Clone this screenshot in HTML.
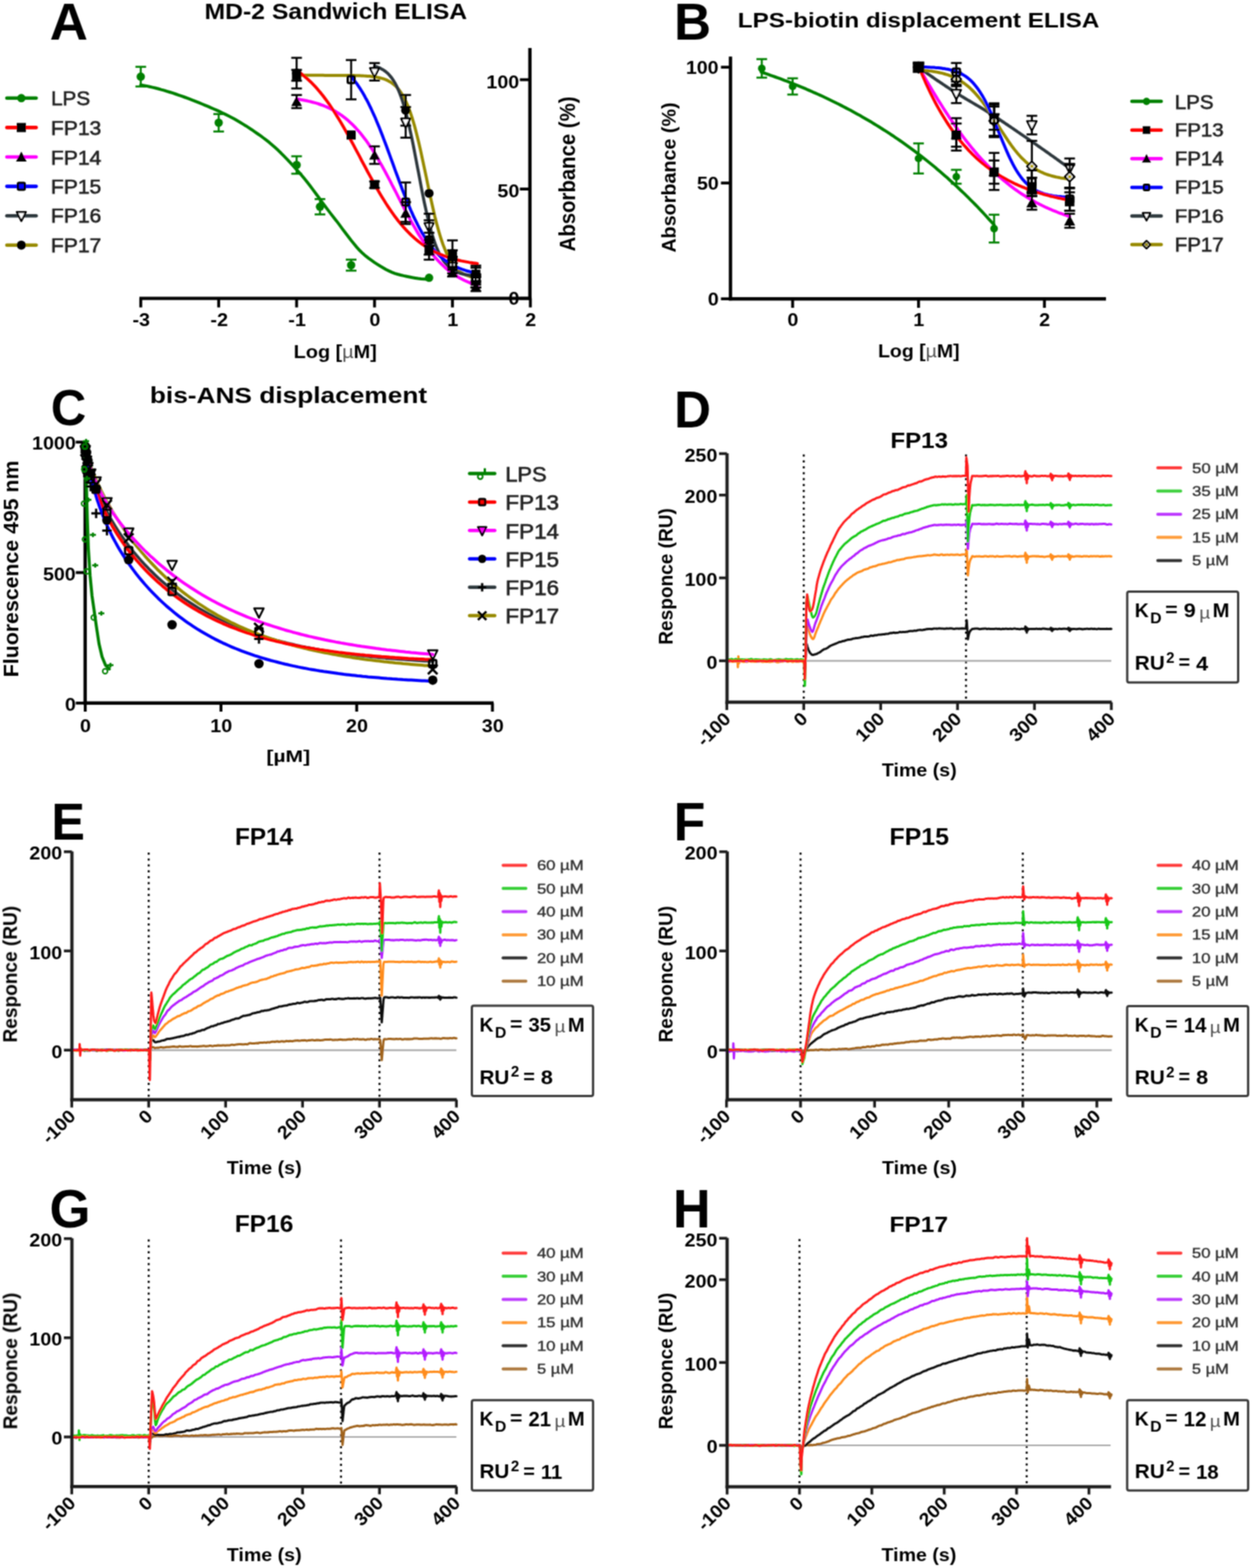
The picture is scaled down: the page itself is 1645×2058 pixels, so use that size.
<!DOCTYPE html>
<html><head><meta charset="utf-8"><title>Figure</title>
<style>
html,body{margin:0;padding:0;background:#fff;}
body{width:1645px;height:2058px;overflow:hidden;}
svg{display:block;}
svg text{font-family:"Liberation Sans", Arial, sans-serif;}
</style></head><body>
<svg width="1645" height="2058" viewBox="0 0 1645 2058">
<defs><filter id="soft" x="0" y="0" width="1645" height="2058" filterUnits="userSpaceOnUse"><feConvolveMatrix order="3" kernelMatrix="1 2 1 2 4 2 1 2 1" divisor="16" edgeMode="none"/></filter></defs>
<rect width="1645" height="2058" fill="#fff"/>
<g filter="url(#soft)">
<text x="65.2" y="52.1" font-size="69.1" font-weight="bold" textLength="50.2" lengthAdjust="spacingAndGlyphs">A</text>
<text x="268.5" y="25.1" font-size="28.6" font-weight="bold" textLength="344.8" lengthAdjust="spacingAndGlyphs">MD-2 Sandwich ELISA</text>
<line x1="183" y1="391.6" x2="697.7" y2="391.6" stroke="#000" stroke-width="4.4"/>
<line x1="184.8" y1="391.6" x2="184.8" y2="403.5" stroke="#000" stroke-width="3.8"/>
<text x="174" y="427.7" font-size="23.5" font-weight="bold" textLength="23" lengthAdjust="spacingAndGlyphs">-3</text>
<line x1="287.1" y1="391.6" x2="287.1" y2="403.5" stroke="#000" stroke-width="3.8"/>
<text x="276.3" y="427.8" font-size="23.5" font-weight="bold" textLength="23" lengthAdjust="spacingAndGlyphs">-2</text>
<line x1="389.4" y1="391.6" x2="389.4" y2="403.5" stroke="#000" stroke-width="3.8"/>
<text x="378.6" y="427.7" font-size="23.5" font-weight="bold" textLength="23" lengthAdjust="spacingAndGlyphs">-1</text>
<line x1="491.7" y1="391.6" x2="491.7" y2="403.5" stroke="#000" stroke-width="3.8"/>
<text x="484.9" y="427.7" font-size="23.5" font-weight="bold" textLength="14.4" lengthAdjust="spacingAndGlyphs">0</text>
<line x1="594" y1="391.6" x2="594" y2="403.5" stroke="#000" stroke-width="3.8"/>
<text x="587.2" y="427.7" font-size="23.5" font-weight="bold" textLength="14.4" lengthAdjust="spacingAndGlyphs">1</text>
<line x1="696.3" y1="391.6" x2="696.3" y2="403.5" stroke="#000" stroke-width="3.8"/>
<text x="689.5" y="427.8" font-size="23.5" font-weight="bold" textLength="14.4" lengthAdjust="spacingAndGlyphs">2</text>
<line x1="695.7" y1="63" x2="695.7" y2="393.8" stroke="#000" stroke-width="4.4"/>
<line x1="682.5" y1="391.6" x2="695.7" y2="391.6" stroke="#000" stroke-width="3.8"/>
<line x1="682.5" y1="248.1" x2="695.7" y2="248.1" stroke="#000" stroke-width="3.8"/>
<line x1="682.5" y1="104.6" x2="695.7" y2="104.6" stroke="#000" stroke-width="3.8"/>
<text x="638.6" y="115.7" font-size="23.5" font-weight="bold" textLength="43.1" lengthAdjust="spacingAndGlyphs">100</text>
<text x="653.1" y="258.7" font-size="23.5" font-weight="bold" textLength="28.8" lengthAdjust="spacingAndGlyphs">50</text>
<text x="667.5" y="400.2" font-size="23.5" font-weight="bold" textLength="14.4" lengthAdjust="spacingAndGlyphs">0</text>
<text x="755.5" y="329.9" font-size="29.3" font-weight="bold" textLength="203.2" lengthAdjust="spacingAndGlyphs" transform="rotate(-90 755.5 329.9)">Absorbance (%)</text>
<text x="385.5" y="470.1" font-size="24.1" font-weight="bold" textLength="109.3" lengthAdjust="spacingAndGlyphs">Log [<tspan font-weight="normal" fill="#555">µ</tspan>M]</text>
<path d="M389.4 98.8l2.7 0 2.6 0 2.7 0 2.7 0 2.6 0 2.7 0 2.7 0 2.6 0 2.7 0 2.7 0 2.6 0 2.7 0 2.7 0 2.6 0.1 2.7 0 2.7 0 2.6 0 2.7 0 2.7 0 2.6 0 2.7 0 2.7 0 2.6 0 2.7 0.1 2.7 0 2.6 0 2.7 0.1 2.7 0 2.6 0.1 2.7 0 2.7 0.1 2.6 0.1 2.7 0.2 2.7 0.1 2.6 0.2 2.7 0.2 2.7 0.3 2.6 0.3 2.7 0.4 2.7 0.5 2.6 0.6 2.7 0.7 2.7 0.8 2.6 1 2.7 1.2 2.7 1.5 2.6 1.7 2.7 2.1 2.7 2.4 2.6 2.9 2.7 3.5 2.7 4 2.6 4.7 2.7 5.5 2.7 6.2 2.6 7.2 2.7 8.1 2.7 9.1 2.6 9.9 2.7 10.8 2.7 11.6 2.6 12.2 2.7 12.6 2.7 12.8 2.6 12.8 2.7 12.5 2.7 12 2.6 11.4 2.7 10.6 2.7 9.7 2.6 8.8 2.7 7.9 2.7 6.9 2.6 6.1 2.7 5.3 2.7 4.5 2.6 3.9 2.7 3.3 2.7 2.7 2.6 2.4 2.7 2 2.7 1.6 2.6 1.4 2.7 1.2 2.7 0.9 2.6 0.8 2.7 0.7 2.7 0.5 2.6 0.5" fill="none" stroke="#978a00" stroke-width="4" stroke-linejoin="round" stroke-linecap="round"/>
<path d="M491.7 86.8l1.5 0.4 1.5 0.5 1.6 0.6 1.5 0.6 1.5 0.7 1.5 0.8 1.5 0.8 1.5 1 1.6 1 1.5 1.2 1.5 1.3 1.5 1.5 1.5 1.6 1.5 1.8 1.6 2 1.5 2.2 1.5 2.4 1.5 2.6 1.5 2.9 1.5 3.2 1.6 3.5 1.5 3.8 1.5 4.1 1.5 4.4 1.5 4.8 1.5 5.1 1.6 5.5 1.5 5.8 1.5 6.2 1.5 6.5 1.5 6.9 1.6 7.1 1.5 7.3 1.5 7.6 1.5 7.8 1.5 7.9 1.5 8 1.6 8 1.5 8 1.5 8 1.5 7.8 1.5 7.6 1.5 7.4 1.6 7.2 1.5 6.9 1.5 6.5 1.5 6.3 1.5 5.9 1.5 5.5 1.6 5.2 1.5 4.9 1.5 4.5 1.5 4.2 1.5 3.8 1.5 3.5 1.6 3.3 1.5 2.9 1.5 2.7 1.5 2.5 1.5 2.2 1.6 2 1.5 1.8 1.5 1.7 1.5 1.5 1.5 1.3 1.5 1.2 1.6 1.1 1.5 1 1.5 0.9 1.5 0.8 1.5 0.7 1.5 0.6 1.6 0.6 1.5 0.5 1.5 0.4 1.5 0.4 1.5 0.4 1.5 0.3 1.6 0.3 1.5 0.3 1.5 0.2 1.5 0.2 1.5 0.2 1.5 0.1 1.6 0.2 1.5 0.1 1.5 0.1 1.5 0.1 1.5 0.1" fill="none" stroke="#2d383c" stroke-width="4" stroke-linejoin="round" stroke-linecap="round"/>
<path d="M461 100.5l1.9 2.2 1.8 2.3 1.9 2.4 1.9 2.5 1.8 2.7 1.9 2.8 1.8 2.9 1.9 3 1.9 3.2 1.8 3.4 1.9 3.4 1.9 3.6 1.8 3.7 1.9 3.9 1.8 4 1.9 4.1 1.9 4.2 1.8 4.4 1.9 4.5 1.9 4.6 1.8 4.6 1.9 4.8 1.8 4.9 1.9 4.9 1.9 5 1.8 5 1.9 5.1 1.8 5.1 1.9 5.1 1.9 5.2 1.8 5.1 1.9 5.1 1.9 5.1 1.8 5 1.9 5 1.8 4.9 1.9 4.8 1.9 4.7 1.8 4.7 1.9 4.5 1.9 4.5 1.8 4.3 1.9 4.2 1.8 4.1 1.9 3.9 1.9 3.8 1.8 3.7 1.9 3.6 1.9 3.4 1.8 3.3 1.9 3.1 1.8 3 1.9 2.9 1.9 2.7 1.8 2.6 1.9 2.5 1.8 2.4 1.9 2.2 1.9 2.2 1.8 2 1.9 1.9 1.9 1.8 1.8 1.8 1.9 1.6 1.8 1.5 1.9 1.5 1.9 1.3 1.8 1.3 1.9 1.2 1.9 1.2 1.8 1 1.9 1.1 1.8 0.9 1.9 0.9 1.9 0.8 1.8 0.8 1.9 0.7 1.9 0.7 1.8 0.7 1.9 0.6 1.8 0.6 1.9 0.5 1.9 0.5 1.8 0.5 1.9 0.4 1.8 0.4 1.9 0.4 1.9 0.3 1.8 0.4" fill="none" stroke="#0000ff" stroke-width="4" stroke-linejoin="round" stroke-linecap="round"/>
<path d="M389.4 129.9l2.7 0.4 2.6 0.5 2.7 0.4 2.7 0.5 2.6 0.6 2.7 0.6 2.7 0.6 2.6 0.7 2.7 0.7 2.7 0.8 2.6 0.8 2.7 1 2.7 0.9 2.6 1.1 2.7 1.1 2.7 1.2 2.6 1.3 2.7 1.4 2.7 1.5 2.6 1.6 2.7 1.7 2.7 1.8 2.6 2 2.7 2.1 2.7 2.1 2.6 2.4 2.7 2.5 2.7 2.6 2.6 2.7 2.7 3 2.7 3 2.6 3.3 2.7 3.4 2.7 3.5 2.6 3.7 2.7 3.9 2.7 4 2.6 4.2 2.7 4.3 2.7 4.5 2.6 4.6 2.7 4.7 2.7 4.8 2.6 4.9 2.7 5.1 2.7 5 2.6 5.2 2.7 5.1 2.7 5.2 2.6 5.2 2.7 5.2 2.7 5.2 2.6 5.1 2.7 5.1 2.7 4.9 2.6 5 2.7 4.8 2.7 4.6 2.6 4.6 2.7 4.5 2.7 4.3 2.6 4.1 2.7 4 2.7 3.8 2.6 3.7 2.7 3.6 2.7 3.3 2.6 3.2 2.7 3.1 2.7 2.9 2.6 2.7 2.7 2.6 2.7 2.5 2.6 2.3 2.7 2.1 2.7 2.1 2.6 1.9 2.7 1.8 2.7 1.7 2.6 1.6 2.7 1.4 2.7 1.4 2.6 1.3 2.7 1.2 2.7 1.1 2.6 1 2.7 1 2.7 0.9 2.6 0.9" fill="none" stroke="#ff00ff" stroke-width="4" stroke-linejoin="round" stroke-linecap="round"/>
<path d="M389.4 92.4l2.7 1.8 2.6 2 2.7 2.1 2.7 2.2 2.6 2.3 2.7 2.4 2.7 2.5 2.6 2.7 2.7 2.8 2.7 3 2.6 3 2.7 3.2 2.7 3.4 2.6 3.5 2.7 3.6 2.7 3.7 2.6 3.9 2.7 4 2.7 4.1 2.6 4.3 2.7 4.4 2.7 4.4 2.6 4.6 2.7 4.7 2.7 4.7 2.6 4.9 2.7 4.9 2.7 4.9 2.6 5 2.7 5 2.7 5 2.6 5.1 2.7 5 2.7 5 2.6 5 2.7 4.9 2.7 4.9 2.6 4.8 2.7 4.7 2.7 4.7 2.6 4.5 2.7 4.5 2.7 4.3 2.6 4.2 2.7 4.1 2.7 4 2.6 3.8 2.7 3.8 2.7 3.5 2.6 3.5 2.7 3.3 2.7 3.2 2.6 3 2.7 2.9 2.7 2.8 2.6 2.6 2.7 2.6 2.7 2.4 2.6 2.2 2.7 2.2 2.7 2.1 2.6 1.9 2.7 1.8 2.7 1.8 2.6 1.6 2.7 1.5 2.7 1.5 2.6 1.4 2.7 1.3 2.7 1.2 2.6 1.1 2.7 1.1 2.7 1 2.6 1 2.7 0.9 2.7 0.8 2.6 0.8 2.7 0.7 2.7 0.7 2.6 0.6 2.7 0.7 2.7 0.5 2.6 0.5 2.7 0.5 2.7 0.5 2.6 0.4 2.7 0.4 2.7 0.4 2.6 0.4" fill="none" stroke="#ff0000" stroke-width="4" stroke-linejoin="round" stroke-linecap="round"/>
<path d="M184.8 111.5l3.8 0.7 3.9 0.7 3.8 0.8 3.8 0.9 3.9 0.9 3.8 1 3.8 1.1 3.9 1 3.8 1.2 3.8 1.2 3.9 1.2 3.8 1.3 3.8 1.3 3.9 1.3 3.8 1.4 3.8 1.4 3.9 1.5 3.8 1.5 3.8 1.5 3.9 1.5 3.8 1.6 3.8 1.6 3.9 1.6 3.8 1.7 3.8 1.6 3.9 1.7 3.8 1.7 3.8 1.8 3.9 1.9 3.8 1.9 3.8 2 3.9 2.1 3.8 2.2 3.8 2.2 3.9 2.4 3.8 2.3 3.8 2.5 3.9 2.5 3.8 2.6 3.8 2.7 3.9 2.7 3.8 2.8 3.8 2.9 3.9 3 3.8 3.3 3.8 3.4 3.9 3.5 3.8 3.7 3.8 3.9 3.9 4 3.8 4 3.9 4.2 3.8 4.2 3.8 4.3 3.9 4.3 3.8 4.6 3.8 4.8 3.9 4.9 3.8 5.1 3.8 5.2 3.9 5.2 3.8 5.3 3.8 5.2 3.9 5.1 3.8 5 3.8 4.9 3.9 4.9 3.8 5 3.8 5.2 3.9 5.1 3.8 5.1 3.8 5 3.9 4.8 3.8 4.5 3.8 4.2 3.9 3.8 3.8 3.3 3.8 2.9 3.9 2.8 3.8 2.7 3.8 2.5 3.9 2.5 3.8 2.2 3.8 2.2 3.9 1.9 3.8 1.7 3.8 1.5 3.9 1.2 3.8 1 3.8 0.9 3.9 0.8 3.8 0.8 3.8 0.8 3.9 0.6 3.8 0.6 3.8 0.5 3.9 0.3 3.8 0.3 3.8 0" fill="none" stroke="#008000" stroke-width="4" stroke-linejoin="round" stroke-linecap="round"/>
<line x1="389.4" y1="75.9" x2="389.4" y2="116.1" stroke="#000" stroke-width="2.6"/>
<line x1="382.4" y1="75.9" x2="396.4" y2="75.9" stroke="#000" stroke-width="2.6"/>
<line x1="382.4" y1="116.1" x2="396.4" y2="116.1" stroke="#000" stroke-width="2.6"/>
<circle cx="389.4" cy="96" r="6" fill="#000" stroke="none" stroke-width="0"/>
<line x1="532.6" y1="124.7" x2="532.6" y2="164.9" stroke="#000" stroke-width="2.6"/>
<line x1="525.6" y1="124.7" x2="539.6" y2="124.7" stroke="#000" stroke-width="2.6"/>
<line x1="525.6" y1="164.9" x2="539.6" y2="164.9" stroke="#000" stroke-width="2.6"/>
<circle cx="532.6" cy="144.8" r="6" fill="#000" stroke="none" stroke-width="0"/>
<circle cx="563.3" cy="253.8" r="6" fill="#000" stroke="none" stroke-width="0"/>
<line x1="594" y1="315.5" x2="594" y2="350" stroke="#000" stroke-width="2.6"/>
<line x1="587" y1="315.5" x2="601" y2="315.5" stroke="#000" stroke-width="2.6"/>
<line x1="587" y1="350" x2="601" y2="350" stroke="#000" stroke-width="2.6"/>
<circle cx="594" cy="332.8" r="6" fill="#000" stroke="none" stroke-width="0"/>
<line x1="624.7" y1="348.6" x2="624.7" y2="377.2" stroke="#000" stroke-width="2.6"/>
<line x1="617.7" y1="348.6" x2="631.7" y2="348.6" stroke="#000" stroke-width="2.6"/>
<line x1="617.7" y1="377.2" x2="631.7" y2="377.2" stroke="#000" stroke-width="2.6"/>
<circle cx="624.7" cy="362.9" r="6" fill="#000" stroke="none" stroke-width="0"/>
<line x1="491.7" y1="82.8" x2="491.7" y2="105.7" stroke="#000" stroke-width="2.6"/>
<line x1="484.7" y1="82.8" x2="498.7" y2="82.8" stroke="#000" stroke-width="2.6"/>
<line x1="484.7" y1="105.7" x2="498.7" y2="105.7" stroke="#000" stroke-width="2.6"/>
<polygon points="485.7,89.3 497.7,89.3 491.7,101.3" fill="#fff" stroke="#000" stroke-width="2.5" stroke-linejoin="round"/>
<line x1="532.6" y1="140.5" x2="532.6" y2="180.7" stroke="#000" stroke-width="2.6"/>
<line x1="525.6" y1="140.5" x2="539.6" y2="140.5" stroke="#000" stroke-width="2.6"/>
<line x1="525.6" y1="180.7" x2="539.6" y2="180.7" stroke="#000" stroke-width="2.6"/>
<polygon points="526.6,155.6 538.6,155.6 532.6,167.6" fill="#fff" stroke="#000" stroke-width="2.5" stroke-linejoin="round"/>
<line x1="563.3" y1="280.5" x2="563.3" y2="315" stroke="#000" stroke-width="2.6"/>
<line x1="556.3" y1="280.5" x2="570.3" y2="280.5" stroke="#000" stroke-width="2.6"/>
<line x1="556.3" y1="315" x2="570.3" y2="315" stroke="#000" stroke-width="2.6"/>
<polygon points="557.3,292.8 569.3,292.8 563.3,304.8" fill="#fff" stroke="#000" stroke-width="2.5" stroke-linejoin="round"/>
<line x1="594" y1="341.4" x2="594" y2="358.6" stroke="#000" stroke-width="2.6"/>
<line x1="587" y1="341.4" x2="601" y2="341.4" stroke="#000" stroke-width="2.6"/>
<line x1="587" y1="358.6" x2="601" y2="358.6" stroke="#000" stroke-width="2.6"/>
<polygon points="588,345 600,345 594,357" fill="#fff" stroke="#000" stroke-width="2.5" stroke-linejoin="round"/>
<line x1="624.7" y1="360" x2="624.7" y2="377.2" stroke="#000" stroke-width="2.6"/>
<line x1="617.7" y1="360" x2="631.7" y2="360" stroke="#000" stroke-width="2.6"/>
<line x1="617.7" y1="377.2" x2="631.7" y2="377.2" stroke="#000" stroke-width="2.6"/>
<polygon points="618.7,363.6 630.7,363.6 624.7,375.6" fill="#fff" stroke="#000" stroke-width="2.5" stroke-linejoin="round"/>
<line x1="461" y1="78.8" x2="461" y2="130.4" stroke="#000" stroke-width="2.6"/>
<line x1="454" y1="78.8" x2="468" y2="78.8" stroke="#000" stroke-width="2.6"/>
<line x1="454" y1="130.4" x2="468" y2="130.4" stroke="#000" stroke-width="2.6"/>
<rect x="456.5" y="100.1" width="9" height="9" fill="none" stroke="#000" stroke-width="3" rx="1.5"/>
<line x1="532.6" y1="239.5" x2="532.6" y2="291.2" stroke="#000" stroke-width="2.6"/>
<line x1="525.6" y1="239.5" x2="539.6" y2="239.5" stroke="#000" stroke-width="2.6"/>
<line x1="525.6" y1="291.2" x2="539.6" y2="291.2" stroke="#000" stroke-width="2.6"/>
<rect x="528.1" y="260.8" width="9" height="9" fill="none" stroke="#000" stroke-width="3" rx="1.5"/>
<line x1="563.3" y1="289.1" x2="563.3" y2="340.8" stroke="#000" stroke-width="2.6"/>
<line x1="556.3" y1="289.1" x2="570.3" y2="289.1" stroke="#000" stroke-width="2.6"/>
<line x1="556.3" y1="340.8" x2="570.3" y2="340.8" stroke="#000" stroke-width="2.6"/>
<rect x="558.8" y="310.5" width="9" height="9" fill="none" stroke="#000" stroke-width="3" rx="1.5"/>
<line x1="594" y1="337.1" x2="594" y2="354.3" stroke="#000" stroke-width="2.6"/>
<line x1="587" y1="337.1" x2="601" y2="337.1" stroke="#000" stroke-width="2.6"/>
<line x1="587" y1="354.3" x2="601" y2="354.3" stroke="#000" stroke-width="2.6"/>
<rect x="589.5" y="341.2" width="9" height="9" fill="none" stroke="#000" stroke-width="3" rx="1.5"/>
<line x1="624.7" y1="362" x2="624.7" y2="373.5" stroke="#000" stroke-width="2.6"/>
<line x1="617.7" y1="362" x2="631.7" y2="362" stroke="#000" stroke-width="2.6"/>
<line x1="617.7" y1="373.5" x2="631.7" y2="373.5" stroke="#000" stroke-width="2.6"/>
<rect x="620.2" y="363.3" width="9" height="9" fill="none" stroke="#000" stroke-width="3" rx="1.5"/>
<line x1="389.4" y1="124.7" x2="389.4" y2="141.9" stroke="#000" stroke-width="2.6"/>
<line x1="382.4" y1="124.7" x2="396.4" y2="124.7" stroke="#000" stroke-width="2.6"/>
<line x1="382.4" y1="141.9" x2="396.4" y2="141.9" stroke="#000" stroke-width="2.6"/>
<polygon points="389.4,126.3 396.4,139.3 382.4,139.3" fill="#000" stroke="none" stroke-width="0" stroke-linejoin="round"/>
<line x1="491.7" y1="192.1" x2="491.7" y2="215.1" stroke="#000" stroke-width="2.6"/>
<line x1="484.7" y1="192.1" x2="498.7" y2="192.1" stroke="#000" stroke-width="2.6"/>
<line x1="484.7" y1="215.1" x2="498.7" y2="215.1" stroke="#000" stroke-width="2.6"/>
<polygon points="491.7,196.6 498.7,209.6 484.7,209.6" fill="#000" stroke="none" stroke-width="0" stroke-linejoin="round"/>
<line x1="532.6" y1="265.3" x2="532.6" y2="294" stroke="#000" stroke-width="2.6"/>
<line x1="525.6" y1="265.3" x2="539.6" y2="265.3" stroke="#000" stroke-width="2.6"/>
<line x1="525.6" y1="294" x2="539.6" y2="294" stroke="#000" stroke-width="2.6"/>
<polygon points="532.6,272.7 539.6,285.7 525.6,285.7" fill="#000" stroke="none" stroke-width="0" stroke-linejoin="round"/>
<line x1="563.3" y1="305.5" x2="563.3" y2="322.7" stroke="#000" stroke-width="2.6"/>
<line x1="556.3" y1="305.5" x2="570.3" y2="305.5" stroke="#000" stroke-width="2.6"/>
<line x1="556.3" y1="322.7" x2="570.3" y2="322.7" stroke="#000" stroke-width="2.6"/>
<polygon points="563.3,307.1 570.3,320.1 556.3,320.1" fill="#000" stroke="none" stroke-width="0" stroke-linejoin="round"/>
<line x1="594" y1="351.4" x2="594" y2="362.9" stroke="#000" stroke-width="2.6"/>
<line x1="587" y1="351.4" x2="601" y2="351.4" stroke="#000" stroke-width="2.6"/>
<line x1="587" y1="362.9" x2="601" y2="362.9" stroke="#000" stroke-width="2.6"/>
<polygon points="594,350.2 601,363.2 587,363.2" fill="#000" stroke="none" stroke-width="0" stroke-linejoin="round"/>
<line x1="624.7" y1="370.6" x2="624.7" y2="382.1" stroke="#000" stroke-width="2.6"/>
<line x1="617.7" y1="370.6" x2="631.7" y2="370.6" stroke="#000" stroke-width="2.6"/>
<line x1="617.7" y1="382.1" x2="631.7" y2="382.1" stroke="#000" stroke-width="2.6"/>
<polygon points="624.7,369.4 631.7,382.4 617.7,382.4" fill="#000" stroke="none" stroke-width="0" stroke-linejoin="round"/>
<line x1="389.4" y1="91.7" x2="389.4" y2="106" stroke="#000" stroke-width="2.6"/>
<line x1="382.4" y1="91.7" x2="396.4" y2="91.7" stroke="#000" stroke-width="2.6"/>
<line x1="382.4" y1="106" x2="396.4" y2="106" stroke="#000" stroke-width="2.6"/>
<rect x="383.4" y="92.9" width="12" height="12" fill="#000" stroke="none" stroke-width="0" rx="0"/>
<rect x="455" y="171.2" width="12" height="12" fill="#000" stroke="none" stroke-width="0" rx="0"/>
<line x1="491.7" y1="238.1" x2="491.7" y2="246.7" stroke="#000" stroke-width="2.6"/>
<line x1="484.7" y1="238.1" x2="498.7" y2="238.1" stroke="#000" stroke-width="2.6"/>
<line x1="484.7" y1="246.7" x2="498.7" y2="246.7" stroke="#000" stroke-width="2.6"/>
<rect x="485.7" y="236.4" width="12" height="12" fill="#000" stroke="none" stroke-width="0" rx="0"/>
<line x1="563.3" y1="322.7" x2="563.3" y2="334.2" stroke="#000" stroke-width="2.6"/>
<line x1="556.3" y1="322.7" x2="570.3" y2="322.7" stroke="#000" stroke-width="2.6"/>
<line x1="556.3" y1="334.2" x2="570.3" y2="334.2" stroke="#000" stroke-width="2.6"/>
<rect x="557.3" y="322.5" width="12" height="12" fill="#000" stroke="none" stroke-width="0" rx="0"/>
<line x1="594" y1="328.5" x2="594" y2="339.9" stroke="#000" stroke-width="2.6"/>
<line x1="587" y1="328.5" x2="601" y2="328.5" stroke="#000" stroke-width="2.6"/>
<line x1="587" y1="339.9" x2="601" y2="339.9" stroke="#000" stroke-width="2.6"/>
<rect x="588" y="328.2" width="12" height="12" fill="#000" stroke="none" stroke-width="0" rx="0"/>
<line x1="624.7" y1="351.4" x2="624.7" y2="368.6" stroke="#000" stroke-width="2.6"/>
<line x1="617.7" y1="351.4" x2="631.7" y2="351.4" stroke="#000" stroke-width="2.6"/>
<line x1="617.7" y1="368.6" x2="631.7" y2="368.6" stroke="#000" stroke-width="2.6"/>
<rect x="618.7" y="354" width="12" height="12" fill="#000" stroke="none" stroke-width="0" rx="0"/>
<line x1="184.8" y1="87.7" x2="184.8" y2="113.5" stroke="#008000" stroke-width="2.6"/>
<line x1="177.8" y1="87.7" x2="191.8" y2="87.7" stroke="#008000" stroke-width="2.6"/>
<line x1="177.8" y1="113.5" x2="191.8" y2="113.5" stroke="#008000" stroke-width="2.6"/>
<circle cx="184.8" cy="100.6" r="5.5" fill="#008000" stroke="none" stroke-width="0"/>
<line x1="287.1" y1="149.7" x2="287.1" y2="172.6" stroke="#008000" stroke-width="2.6"/>
<line x1="280.1" y1="149.7" x2="294.1" y2="149.7" stroke="#008000" stroke-width="2.6"/>
<line x1="280.1" y1="172.6" x2="294.1" y2="172.6" stroke="#008000" stroke-width="2.6"/>
<circle cx="287.1" cy="161.1" r="5.5" fill="#008000" stroke="none" stroke-width="0"/>
<line x1="389.4" y1="205.1" x2="389.4" y2="228" stroke="#008000" stroke-width="2.6"/>
<line x1="382.4" y1="205.1" x2="396.4" y2="205.1" stroke="#008000" stroke-width="2.6"/>
<line x1="382.4" y1="228" x2="396.4" y2="228" stroke="#008000" stroke-width="2.6"/>
<circle cx="389.4" cy="216.5" r="5.5" fill="#008000" stroke="none" stroke-width="0"/>
<line x1="420.1" y1="261.3" x2="420.1" y2="281.4" stroke="#008000" stroke-width="2.6"/>
<line x1="413.1" y1="261.3" x2="427.1" y2="261.3" stroke="#008000" stroke-width="2.6"/>
<line x1="413.1" y1="281.4" x2="427.1" y2="281.4" stroke="#008000" stroke-width="2.6"/>
<circle cx="420.1" cy="271.3" r="5.5" fill="#008000" stroke="none" stroke-width="0"/>
<line x1="461" y1="340.8" x2="461" y2="355.2" stroke="#008000" stroke-width="2.6"/>
<line x1="454" y1="340.8" x2="468" y2="340.8" stroke="#008000" stroke-width="2.6"/>
<line x1="454" y1="355.2" x2="468" y2="355.2" stroke="#008000" stroke-width="2.6"/>
<circle cx="461" cy="348" r="5.5" fill="#008000" stroke="none" stroke-width="0"/>
<circle cx="563.3" cy="364.6" r="5.5" fill="#008000" stroke="none" stroke-width="0"/>
<line x1="9" y1="128.8" x2="47.5" y2="128.8" stroke="#008000" stroke-width="4.6" stroke-linecap="round"/>
<circle cx="28" cy="128.8" r="5.5" fill="#008000" stroke="none" stroke-width="0"/>
<text x="67" y="138.4" font-size="25.9" fill="#222" textLength="51.4" lengthAdjust="spacingAndGlyphs" stroke="#222" stroke-width="0.75">LPS</text>
<line x1="9" y1="167.4" x2="47.5" y2="167.4" stroke="#ff0000" stroke-width="4.6" stroke-linecap="round"/>
<rect x="22" y="161.4" width="12" height="12" fill="#000" stroke="none" stroke-width="0" rx="0"/>
<text x="66.8" y="176.6" font-size="25.1" fill="#222" textLength="66.1" lengthAdjust="spacingAndGlyphs" stroke="#222" stroke-width="0.75">FP13</text>
<line x1="9" y1="206" x2="47.5" y2="206" stroke="#ff00ff" stroke-width="4.6" stroke-linecap="round"/>
<polygon points="28,199 35,212 21,212" fill="#000" stroke="none" stroke-width="0" stroke-linejoin="round"/>
<text x="66.8" y="215.5" font-size="25.8" fill="#222" textLength="66.1" lengthAdjust="spacingAndGlyphs" stroke="#222" stroke-width="0.75">FP14</text>
<line x1="9" y1="244.6" x2="47.5" y2="244.6" stroke="#0000ff" stroke-width="4.6" stroke-linecap="round"/>
<rect x="23.5" y="240.1" width="9" height="9" fill="#0000ff" stroke="#000" stroke-width="3" rx="1.5"/>
<text x="66.8" y="253.8" font-size="25.4" fill="#222" textLength="66.1" lengthAdjust="spacingAndGlyphs" stroke="#222" stroke-width="0.75">FP15</text>
<line x1="9" y1="283.2" x2="47.5" y2="283.2" stroke="#2d383c" stroke-width="4.6" stroke-linecap="round"/>
<polygon points="22,278.2 34,278.2 28,290.2" fill="#fff" stroke="#000" stroke-width="2.5" stroke-linejoin="round"/>
<text x="66.8" y="292.4" font-size="25.1" fill="#222" textLength="66.1" lengthAdjust="spacingAndGlyphs" stroke="#222" stroke-width="0.75">FP16</text>
<line x1="9" y1="321.8" x2="47.5" y2="321.8" stroke="#978a00" stroke-width="4.6" stroke-linecap="round"/>
<circle cx="28" cy="321.8" r="6" fill="#000" stroke="none" stroke-width="0"/>
<text x="66.8" y="331.3" font-size="25.8" fill="#222" textLength="66.1" lengthAdjust="spacingAndGlyphs" stroke="#222" stroke-width="0.75">FP17</text>
<text x="884.9" y="52.1" font-size="69.3" font-weight="bold" textLength="48.5" lengthAdjust="spacingAndGlyphs">B</text>
<text x="968.6" y="36.4" font-size="27.6" font-weight="bold" textLength="474.6" lengthAdjust="spacingAndGlyphs">LPS-biotin displacement ELISA</text>
<line x1="959" y1="74.3" x2="959" y2="394.2" stroke="#000" stroke-width="4.4"/>
<line x1="956.8" y1="392.2" x2="1452" y2="392.2" stroke="#000" stroke-width="4.4"/>
<line x1="946.5" y1="392.2" x2="959" y2="392.2" stroke="#000" stroke-width="3.8"/>
<line x1="946.5" y1="240.2" x2="959" y2="240.2" stroke="#000" stroke-width="3.8"/>
<line x1="946.5" y1="88.2" x2="959" y2="88.2" stroke="#000" stroke-width="3.8"/>
<text x="929.3" y="401.3" font-size="23.5" font-weight="bold" textLength="14.4" lengthAdjust="spacingAndGlyphs">0</text>
<text x="914.9" y="249.3" font-size="23.5" font-weight="bold" textLength="28.8" lengthAdjust="spacingAndGlyphs">50</text>
<text x="900.4" y="97.3" font-size="23.5" font-weight="bold" textLength="43.1" lengthAdjust="spacingAndGlyphs">100</text>
<line x1="1040.6" y1="392.2" x2="1040.6" y2="404" stroke="#000" stroke-width="3.8"/>
<text x="1033.7" y="428.1" font-size="23.5" font-weight="bold" textLength="14.4" lengthAdjust="spacingAndGlyphs">0</text>
<line x1="1205.9" y1="392.2" x2="1205.9" y2="404" stroke="#000" stroke-width="3.8"/>
<text x="1199" y="428.1" font-size="23.5" font-weight="bold" textLength="14.4" lengthAdjust="spacingAndGlyphs">1</text>
<line x1="1371.2" y1="392.2" x2="1371.2" y2="404" stroke="#000" stroke-width="3.8"/>
<text x="1364.3" y="428.2" font-size="23.5" font-weight="bold" textLength="14.4" lengthAdjust="spacingAndGlyphs">2</text>
<text x="887" y="331.6" font-size="25.8" font-weight="bold" textLength="197.2" lengthAdjust="spacingAndGlyphs" transform="rotate(-90 887 331.6)">Absorbance (%)</text>
<text x="1152.7" y="469.2" font-size="24" font-weight="bold" textLength="107.1" lengthAdjust="spacingAndGlyphs">Log [<tspan font-weight="normal" fill="#555">µ</tspan>M]</text>
<path d="M1205.9 88.2l2 1.5 2 1.4 2 1.4 2 1.5 2 1.4 2 1.4 2 1.4 2 1.4 2 1.4 2 1.4 2 1.4 2 1.4 2 1.3 2.1 1.4 2 1.3 2 1.4 2 1.3 2 1.4 2 1.3 2 1.3 2 1.3 2 1.3 2 1.3 2 1.3 2 1.2 2 1.3 2 1.2 2 1.3 2 1.2 2 1.2 2 1.2 2 1.2 2 1.1 2 1.2 2 1.2 2 1.2 2 1.2 2 1.2 2 1.1 2 1.2 2 1.2 2.1 1.3 2 1.2 2 1.2 2 1.3 2 1.2 2 1.3 2 1.3 2 1.3 2 1.3 2 1.3 2 1.3 2 1.3 2 1.3 2 1.4 2 1.3 2 1.4 2 1.3 2 1.4 2 1.3 2 1.4 2 1.3 2 1.4 2 1.4 2 1.4 2 1.3 2 1.4 2 1.4 2.1 1.4 2 1.3 2 1.4 2 1.4 2 1.4 2 1.4 2 1.4 2 1.4 2 1.4 2 1.4 2 1.4 2 1.4 2 1.4 2 1.4 2 1.4 2 1.4 2 1.4 2 1.4 2 1.5 2 1.4 2 1.4 2 1.4 2 1.5 2 1.4 2 1.5 2 1.4 2 1.4 2 1.5 2.1 1.4 2 1.5 2 1.4" fill="none" stroke="#2d383c" stroke-width="4" stroke-linejoin="round" stroke-linecap="round"/>
<path d="M1205.9 91.7l2 0.1 2 0.2 2 0.2 2 0.2 2 0.2 2 0.2 2 0.3 2 0.2 2 0.3 2 0.3 2 0.4 2 0.3 2 0.4 2.1 0.5 2 0.4 2 0.5 2 0.6 2 0.6 2 0.6 2 0.7 2 0.8 2 0.8 2 0.8 2 1 2 1 2 1.1 2 1.1 2 1.2 2 1.4 2 1.4 2 1.5 2 1.6 2 1.7 2 1.8 2 1.9 2 2 2 2.1 2 2.2 2 2.3 2 2.4 2 2.5 2.1 2.6 2 2.7 2 2.8 2 2.9 2 3 2 3 2 3 2 3.1 2 3.2 2 3.2 2 3.1 2 3.2 2 3.2 2 3.1 2 3.1 2 3 2 3 2 3 2 2.8 2 2.8 2 2.7 2 2.6 2 2.5 2 2.4 2 2.3 2 2.2 2 2.1 2.1 1.9 2 1.9 2 1.8 2 1.7 2 1.5 2 1.5 2 1.4 2 1.3 2 1.2 2 1.2 2 1 2 1 2 0.9 2 0.9 2 0.8 2 0.7 2 0.7 2 0.6 2 0.6 2 0.5 2 0.5 2 0.5 2 0.4 2 0.4 2 0.4 2 0.3 2 0.3 2 0.3 2.1 0.3 2 0.2 2 0.2" fill="none" stroke="#978a00" stroke-width="4" stroke-linejoin="round" stroke-linecap="round"/>
<path d="M1205.9 87.8l2 0 2 0.1 2 0 2 0.1 2 0.1 2 0.1 2 0.1 2 0.1 2 0.1 2 0.1 2 0.2 2 0.1 2 0.2 2.1 0.2 2 0.3 2 0.3 2 0.2 2 0.4 2 0.3 2 0.5 2 0.4 2 0.5 2 0.6 2 0.7 2 0.7 2 0.8 2 0.8 2 1 2 1.1 2 1.2 2 1.3 2 1.5 2 1.6 2 1.8 2 1.9 2 2.2 2 2.3 2 2.5 2 2.7 2 2.9 2 3.2 2.1 3.4 2 3.6 2 3.8 2 4 2 4.2 2 4.4 2 4.6 2 4.7 2 4.8 2 4.9 2 5 2 5 2 4.9 2 5 2 4.8 2 4.7 2 4.6 2 4.5 2 4.3 2 4 2 3.9 2 3.7 2 3.4 2 3.2 2 3 2 2.8 2 2.6 2.1 2.3 2 2.2 2 2 2 1.8 2 1.7 2 1.5 2 1.3 2 1.3 2 1.1 2 1 2 0.9 2 0.8 2 0.7 2 0.7 2 0.6 2 0.5 2 0.5 2 0.4 2 0.4 2 0.4 2 0.3 2 0.2 2 0.3 2 0.2 2 0.2 2 0.2 2 0.1 2 0.2 2.1 0.1 2 0.1 2 0.1" fill="none" stroke="#0000ff" stroke-width="4" stroke-linejoin="round" stroke-linecap="round"/>
<path d="M1205.9 87.3l2 3.6 2 3.5 2 3.5 2 3.5 2 3.5 2 3.4 2 3.4 2 3.4 2 3.4 2 3.3 2 3.3 2 3.3 2 3.3 2.1 3.2 2 3.1 2 3.2 2 3.1 2 3.1 2 3 2 3.1 2 2.9 2 3 2 2.9 2 2.8 2 2.9 2 2.8 2 2.7 2 2.7 2 2.7 2 2.7 2 2.6 2 2.5 2 2.6 2 2.5 2 2.4 2 2.4 2 2.4 2 2.4 2 2.3 2 2.2 2 2.2 2.1 2.2 2 2.2 2 2.1 2 2.1 2 2 2 2 2 2 2 1.9 2 1.9 2 1.9 2 1.8 2 1.8 2 1.7 2 1.8 2 1.7 2 1.6 2 1.6 2 1.6 2 1.6 2 1.5 2 1.5 2 1.5 2 1.4 2 1.4 2 1.4 2 1.4 2 1.3 2.1 1.3 2 1.2 2 1.3 2 1.2 2 1.2 2 1.1 2 1.2 2 1.1 2 1.1 2 1 2 1.1 2 1 2 1 2 0.9 2 1 2 0.9 2 0.9 2 0.9 2 0.8 2 0.9 2 0.8 2 0.8 2 0.8 2 0.8 2 0.7 2 0.7 2 0.8 2 0.6 2.1 0.7 2 0.7 2 0.6" fill="none" stroke="#ff00ff" stroke-width="4" stroke-linejoin="round" stroke-linecap="round"/>
<path d="M1205.9 86l2 5.1 2 4.8 2 4.8 2 4.6 2 4.6 2 4.3 2 4.3 2 4.2 2 4 2 4 2 3.8 2 3.8 2 3.6 2.1 3.6 2 3.4 2 3.4 2 3.2 2 3.2 2 3.1 2 3.1 2 2.9 2 2.9 2 2.7 2 2.8 2 2.6 2 2.6 2 2.5 2 2.4 2 2.4 2 2.3 2 2.2 2 2.2 2 2.2 2 2 2 2.1 2 1.9 2 2 2 1.8 2 1.8 2 1.8 2 1.7 2.1 1.7 2 1.6 2 1.6 2 1.6 2 1.5 2 1.4 2 1.5 2 1.4 2 1.3 2 1.3 2 1.3 2 1.3 2 1.2 2 1.2 2 1.1 2 1.1 2 1.1 2 1.1 2 1 2 1 2 1 2 1 2 0.9 2 0.9 2 0.9 2 0.8 2 0.9 2.1 0.8 2 0.8 2 0.8 2 0.7 2 0.7 2 0.8 2 0.6 2 0.7 2 0.7 2 0.6 2 0.6 2 0.6 2 0.6 2 0.6 2 0.6 2 0.5 2 0.5 2 0.6 2 0.5 2 0.4 2 0.5 2 0.5 2 0.4 2 0.5 2 0.4 2 0.4 2 0.4 2 0.4 2.1 0.4 2 0.4 2 0.4" fill="none" stroke="#ff0000" stroke-width="4" stroke-linejoin="round" stroke-linecap="round"/>
<path d="M999.3 94.5l3.1 1 3.1 1.1 3 1.1 3.1 1.1 3.1 1.1 3.1 1.1 3.1 1.1 3.1 1.1 3.1 1.2 3.1 1.2 3.1 1.1 3 1.2 3.1 1.3 3.1 1.2 3.1 1.2 3.1 1.3 3.1 1.3 3.1 1.2 3.1 1.3 3.1 1.4 3 1.3 3.1 1.4 3.1 1.3 3.1 1.4 3.1 1.4 3.1 1.4 3.1 1.5 3.1 1.4 3.1 1.5 3 1.5 3.1 1.5 3.1 1.6 3.1 1.5 3.1 1.6 3.1 1.6 3.1 1.6 3.1 1.6 3.1 1.6 3 1.7 3.1 1.7 3.1 1.7 3.1 1.7 3.1 1.8 3.1 1.8 3.1 1.8 3.1 1.8 3.1 1.8 3 1.9 3.1 1.9 3.1 1.9 3.1 1.9 3.1 2 3.1 1.9 3.1 2 3.1 2.1 3.1 2 3 2.1 3.1 2.1 3.1 2.1 3.1 2.2 3.1 2.2 3.1 2.2 3.1 2.2 3.1 2.3 3.1 2.3 3 2.3 3.1 2.4 3.1 2.3 3.1 2.4 3.1 2.5 3.1 2.5 3.1 2.5 3.1 2.5 3.1 2.5 3 2.6 3.1 2.7 3.1 2.6 3.1 2.7 3.1 2.7 3.1 2.8 3.1 2.8 3.1 2.8 3.1 2.9 3 2.8 3.1 3 3.1 2.9 3.1 3 3.1 3.1 3.1 3.1 3.1 3.1 3.1 3.1 3.1 3.2 3 3.2 3.1 3.3 3.1 3.3 3.1 3.4 3.1 3.4 3.1 3.4 3.1 3.5" fill="none" stroke="#008000" stroke-width="4" stroke-linejoin="round" stroke-linecap="round"/>
<polygon points="1199.6,82.9 1212.1,82.9 1205.9,95.4" fill="#fff" stroke="#000" stroke-width="2.5" stroke-linejoin="round"/>
<line x1="1255.5" y1="111" x2="1255.5" y2="135.3" stroke="#000" stroke-width="2.6"/>
<line x1="1248.5" y1="111" x2="1262.5" y2="111" stroke="#000" stroke-width="2.6"/>
<line x1="1248.5" y1="135.3" x2="1262.5" y2="135.3" stroke="#000" stroke-width="2.6"/>
<polygon points="1249.2,117.9 1261.7,117.9 1255.5,130.4" fill="#fff" stroke="#000" stroke-width="2.5" stroke-linejoin="round"/>
<line x1="1305.1" y1="139.9" x2="1305.1" y2="170.3" stroke="#000" stroke-width="2.6"/>
<line x1="1298.1" y1="139.9" x2="1312.1" y2="139.9" stroke="#000" stroke-width="2.6"/>
<line x1="1298.1" y1="170.3" x2="1312.1" y2="170.3" stroke="#000" stroke-width="2.6"/>
<polygon points="1298.8,149.8 1311.3,149.8 1305.1,162.3" fill="#fff" stroke="#000" stroke-width="2.5" stroke-linejoin="round"/>
<line x1="1354.7" y1="152" x2="1354.7" y2="176.4" stroke="#000" stroke-width="2.6"/>
<line x1="1347.7" y1="152" x2="1361.7" y2="152" stroke="#000" stroke-width="2.6"/>
<line x1="1347.7" y1="176.4" x2="1361.7" y2="176.4" stroke="#000" stroke-width="2.6"/>
<polygon points="1348.4,158.9 1360.9,158.9 1354.7,171.4" fill="#fff" stroke="#000" stroke-width="2.5" stroke-linejoin="round"/>
<line x1="1404.3" y1="208" x2="1404.3" y2="232.3" stroke="#000" stroke-width="2.6"/>
<line x1="1397.3" y1="208" x2="1411.3" y2="208" stroke="#000" stroke-width="2.6"/>
<line x1="1397.3" y1="232.3" x2="1411.3" y2="232.3" stroke="#000" stroke-width="2.6"/>
<polygon points="1398,214.9 1410.5,214.9 1404.3,227.4" fill="#fff" stroke="#000" stroke-width="2.5" stroke-linejoin="round"/>
<polygon points="1205.9,81.9 1212.1,88.2 1205.9,94.4 1199.6,88.2" fill="#fff" stroke="#000" stroke-width="2.6" stroke-linejoin="round"/>
<circle cx="1205.9" cy="88.2" r="2.2" fill="#b5a300" stroke="none" stroke-width="0"/>
<line x1="1255.5" y1="94.9" x2="1255.5" y2="113.1" stroke="#000" stroke-width="2.6"/>
<line x1="1248.5" y1="94.9" x2="1262.5" y2="94.9" stroke="#000" stroke-width="2.6"/>
<line x1="1248.5" y1="113.1" x2="1262.5" y2="113.1" stroke="#000" stroke-width="2.6"/>
<polygon points="1255.5,97.8 1261.7,104 1255.5,110.3 1249.2,104" fill="#fff" stroke="#000" stroke-width="2.6" stroke-linejoin="round"/>
<circle cx="1255.5" cy="104" r="2.2" fill="#b5a300" stroke="none" stroke-width="0"/>
<line x1="1305.1" y1="137.4" x2="1305.1" y2="180" stroke="#000" stroke-width="2.6"/>
<line x1="1298.1" y1="137.4" x2="1312.1" y2="137.4" stroke="#000" stroke-width="2.6"/>
<line x1="1298.1" y1="180" x2="1312.1" y2="180" stroke="#000" stroke-width="2.6"/>
<polygon points="1305.1,152.5 1311.3,158.7 1305.1,165 1298.8,158.7" fill="#fff" stroke="#000" stroke-width="2.6" stroke-linejoin="round"/>
<circle cx="1305.1" cy="158.7" r="2.2" fill="#b5a300" stroke="none" stroke-width="0"/>
<line x1="1354.7" y1="184.9" x2="1354.7" y2="251.8" stroke="#000" stroke-width="2.6"/>
<line x1="1347.7" y1="184.9" x2="1361.7" y2="184.9" stroke="#000" stroke-width="2.6"/>
<line x1="1347.7" y1="251.8" x2="1361.7" y2="251.8" stroke="#000" stroke-width="2.6"/>
<polygon points="1354.7,212.1 1360.9,218.3 1354.7,224.6 1348.4,218.3" fill="#fff" stroke="#000" stroke-width="2.6" stroke-linejoin="round"/>
<circle cx="1354.7" cy="218.3" r="2.2" fill="#b5a300" stroke="none" stroke-width="0"/>
<line x1="1404.3" y1="216.8" x2="1404.3" y2="247.2" stroke="#000" stroke-width="2.6"/>
<line x1="1397.3" y1="216.8" x2="1411.3" y2="216.8" stroke="#000" stroke-width="2.6"/>
<line x1="1397.3" y1="247.2" x2="1411.3" y2="247.2" stroke="#000" stroke-width="2.6"/>
<polygon points="1404.3,225.7 1410.5,232 1404.3,238.2 1398,232" fill="#fff" stroke="#000" stroke-width="2.6" stroke-linejoin="round"/>
<circle cx="1404.3" cy="232" r="2.2" fill="#b5a300" stroke="none" stroke-width="0"/>
<rect x="1201.1" y="83.4" width="9.5" height="9.5" fill="none" stroke="#000" stroke-width="3" rx="1.5"/>
<line x1="1255.5" y1="82.7" x2="1255.5" y2="107" stroke="#000" stroke-width="2.6"/>
<line x1="1248.5" y1="82.7" x2="1262.5" y2="82.7" stroke="#000" stroke-width="2.6"/>
<line x1="1248.5" y1="107" x2="1262.5" y2="107" stroke="#000" stroke-width="2.6"/>
<rect x="1250.7" y="90.1" width="9.5" height="9.5" fill="none" stroke="#000" stroke-width="3" rx="1.5"/>
<line x1="1305.1" y1="135.6" x2="1305.1" y2="178.2" stroke="#000" stroke-width="2.6"/>
<line x1="1298.1" y1="135.6" x2="1312.1" y2="135.6" stroke="#000" stroke-width="2.6"/>
<line x1="1298.1" y1="178.2" x2="1312.1" y2="178.2" stroke="#000" stroke-width="2.6"/>
<rect x="1300.3" y="152.2" width="9.5" height="9.5" fill="none" stroke="#000" stroke-width="3" rx="1.5"/>
<line x1="1354.7" y1="223.5" x2="1354.7" y2="253.9" stroke="#000" stroke-width="2.6"/>
<line x1="1347.7" y1="223.5" x2="1361.7" y2="223.5" stroke="#000" stroke-width="2.6"/>
<line x1="1347.7" y1="253.9" x2="1361.7" y2="253.9" stroke="#000" stroke-width="2.6"/>
<rect x="1349.9" y="233.9" width="9.5" height="9.5" fill="none" stroke="#000" stroke-width="3" rx="1.5"/>
<line x1="1404.3" y1="246.3" x2="1404.3" y2="276.7" stroke="#000" stroke-width="2.6"/>
<line x1="1397.3" y1="246.3" x2="1411.3" y2="246.3" stroke="#000" stroke-width="2.6"/>
<line x1="1397.3" y1="276.7" x2="1411.3" y2="276.7" stroke="#000" stroke-width="2.6"/>
<rect x="1399.5" y="256.7" width="9.5" height="9.5" fill="none" stroke="#000" stroke-width="3" rx="1.5"/>
<polygon points="1205.9,80.9 1213.1,94.4 1198.6,94.4" fill="#000" stroke="none" stroke-width="0" stroke-linejoin="round"/>
<line x1="1255.5" y1="155.1" x2="1255.5" y2="197.6" stroke="#000" stroke-width="2.6"/>
<line x1="1248.5" y1="155.1" x2="1262.5" y2="155.1" stroke="#000" stroke-width="2.6"/>
<line x1="1248.5" y1="197.6" x2="1262.5" y2="197.6" stroke="#000" stroke-width="2.6"/>
<polygon points="1255.5,169.1 1262.7,182.6 1248.2,182.6" fill="#000" stroke="none" stroke-width="0" stroke-linejoin="round"/>
<line x1="1305.1" y1="200.7" x2="1305.1" y2="249.3" stroke="#000" stroke-width="2.6"/>
<line x1="1298.1" y1="200.7" x2="1312.1" y2="200.7" stroke="#000" stroke-width="2.6"/>
<line x1="1298.1" y1="249.3" x2="1312.1" y2="249.3" stroke="#000" stroke-width="2.6"/>
<polygon points="1305.1,217.8 1312.3,231.2 1297.8,231.2" fill="#000" stroke="none" stroke-width="0" stroke-linejoin="round"/>
<line x1="1354.7" y1="256.9" x2="1354.7" y2="275.2" stroke="#000" stroke-width="2.6"/>
<line x1="1347.7" y1="256.9" x2="1361.7" y2="256.9" stroke="#000" stroke-width="2.6"/>
<line x1="1347.7" y1="275.2" x2="1361.7" y2="275.2" stroke="#000" stroke-width="2.6"/>
<polygon points="1354.7,258.8 1361.9,272.3 1347.4,272.3" fill="#000" stroke="none" stroke-width="0" stroke-linejoin="round"/>
<line x1="1404.3" y1="280.6" x2="1404.3" y2="298.9" stroke="#000" stroke-width="2.6"/>
<line x1="1397.3" y1="280.6" x2="1411.3" y2="280.6" stroke="#000" stroke-width="2.6"/>
<line x1="1397.3" y1="298.9" x2="1411.3" y2="298.9" stroke="#000" stroke-width="2.6"/>
<polygon points="1404.3,282.5 1411.5,296 1397,296" fill="#000" stroke="none" stroke-width="0" stroke-linejoin="round"/>
<rect x="1199.6" y="81.9" width="12.5" height="12.5" fill="#000" stroke="none" stroke-width="0" rx="0"/>
<line x1="1255.5" y1="162.1" x2="1255.5" y2="192.5" stroke="#000" stroke-width="2.6"/>
<line x1="1248.5" y1="162.1" x2="1262.5" y2="162.1" stroke="#000" stroke-width="2.6"/>
<line x1="1248.5" y1="192.5" x2="1262.5" y2="192.5" stroke="#000" stroke-width="2.6"/>
<rect x="1249.2" y="171" width="12.5" height="12.5" fill="#000" stroke="none" stroke-width="0" rx="0"/>
<line x1="1305.1" y1="210.7" x2="1305.1" y2="241.1" stroke="#000" stroke-width="2.6"/>
<line x1="1298.1" y1="210.7" x2="1312.1" y2="210.7" stroke="#000" stroke-width="2.6"/>
<line x1="1298.1" y1="241.1" x2="1312.1" y2="241.1" stroke="#000" stroke-width="2.6"/>
<rect x="1298.8" y="219.7" width="12.5" height="12.5" fill="#000" stroke="none" stroke-width="0" rx="0"/>
<line x1="1354.7" y1="233.2" x2="1354.7" y2="257.5" stroke="#000" stroke-width="2.6"/>
<line x1="1347.7" y1="233.2" x2="1361.7" y2="233.2" stroke="#000" stroke-width="2.6"/>
<line x1="1347.7" y1="257.5" x2="1361.7" y2="257.5" stroke="#000" stroke-width="2.6"/>
<rect x="1348.4" y="239.1" width="12.5" height="12.5" fill="#000" stroke="none" stroke-width="0" rx="0"/>
<line x1="1404.3" y1="252.4" x2="1404.3" y2="276.7" stroke="#000" stroke-width="2.6"/>
<line x1="1397.3" y1="252.4" x2="1411.3" y2="252.4" stroke="#000" stroke-width="2.6"/>
<line x1="1397.3" y1="276.7" x2="1411.3" y2="276.7" stroke="#000" stroke-width="2.6"/>
<rect x="1398" y="258.3" width="12.5" height="12.5" fill="#000" stroke="none" stroke-width="0" rx="0"/>
<line x1="1000.1" y1="77.6" x2="1000.1" y2="101.9" stroke="#008000" stroke-width="2.6"/>
<line x1="993.1" y1="77.6" x2="1007.1" y2="77.6" stroke="#008000" stroke-width="2.6"/>
<line x1="993.1" y1="101.9" x2="1007.1" y2="101.9" stroke="#008000" stroke-width="2.6"/>
<circle cx="1000.1" cy="89.7" r="5" fill="#008000" stroke="none" stroke-width="0"/>
<line x1="1040.6" y1="102.8" x2="1040.6" y2="124.1" stroke="#008000" stroke-width="2.6"/>
<line x1="1033.6" y1="102.8" x2="1047.6" y2="102.8" stroke="#008000" stroke-width="2.6"/>
<line x1="1033.6" y1="124.1" x2="1047.6" y2="124.1" stroke="#008000" stroke-width="2.6"/>
<circle cx="1040.6" cy="113.4" r="5" fill="#008000" stroke="none" stroke-width="0"/>
<line x1="1205.9" y1="188.2" x2="1205.9" y2="227.7" stroke="#008000" stroke-width="2.6"/>
<line x1="1198.9" y1="188.2" x2="1212.9" y2="188.2" stroke="#008000" stroke-width="2.6"/>
<line x1="1198.9" y1="227.7" x2="1212.9" y2="227.7" stroke="#008000" stroke-width="2.6"/>
<circle cx="1205.9" cy="208" r="5" fill="#008000" stroke="none" stroke-width="0"/>
<line x1="1255.5" y1="222.9" x2="1255.5" y2="241.1" stroke="#008000" stroke-width="2.6"/>
<line x1="1248.5" y1="222.9" x2="1262.5" y2="222.9" stroke="#008000" stroke-width="2.6"/>
<line x1="1248.5" y1="241.1" x2="1262.5" y2="241.1" stroke="#008000" stroke-width="2.6"/>
<circle cx="1255.5" cy="232" r="5" fill="#008000" stroke="none" stroke-width="0"/>
<line x1="1305.1" y1="281.8" x2="1305.1" y2="318.3" stroke="#008000" stroke-width="2.6"/>
<line x1="1298.1" y1="281.8" x2="1312.1" y2="281.8" stroke="#008000" stroke-width="2.6"/>
<line x1="1298.1" y1="318.3" x2="1312.1" y2="318.3" stroke="#008000" stroke-width="2.6"/>
<circle cx="1305.1" cy="300.1" r="5" fill="#008000" stroke="none" stroke-width="0"/>
<rect x="1198.4" y="80.7" width="15" height="15" fill="#000" stroke="none" stroke-width="0" rx="0"/>
<line x1="1486" y1="133.1" x2="1524.5" y2="133.1" stroke="#008000" stroke-width="4.5" stroke-linecap="round"/>
<circle cx="1505.2" cy="133.1" r="4.8" fill="#008000" stroke="none" stroke-width="0"/>
<text x="1542.3" y="143.1" font-size="25.4" fill="#222" textLength="50.9" lengthAdjust="spacingAndGlyphs" stroke="#222" stroke-width="0.75">LPS</text>
<line x1="1486" y1="170.7" x2="1524.5" y2="170.7" stroke="#ff0000" stroke-width="4.5" stroke-linecap="round"/>
<rect x="1500.2" y="165.7" width="10" height="10" fill="#000" stroke="none" stroke-width="0" rx="0"/>
<text x="1542.3" y="179.2" font-size="24.4" fill="#222" textLength="64.2" lengthAdjust="spacingAndGlyphs" stroke="#222" stroke-width="0.75">FP13</text>
<line x1="1486" y1="208.3" x2="1524.5" y2="208.3" stroke="#ff00ff" stroke-width="4.5" stroke-linecap="round"/>
<polygon points="1505.2,202.3 1511.2,213.3 1499.2,213.3" fill="#000" stroke="none" stroke-width="0" stroke-linejoin="round"/>
<text x="1542.3" y="217" font-size="25.1" fill="#222" textLength="64.2" lengthAdjust="spacingAndGlyphs" stroke="#222" stroke-width="0.75">FP14</text>
<line x1="1486" y1="245.9" x2="1524.5" y2="245.9" stroke="#0000ff" stroke-width="4.5" stroke-linecap="round"/>
<rect x="1501.7" y="242.4" width="7" height="7" fill="#0000ff" stroke="#000" stroke-width="3" rx="1.5"/>
<text x="1542.3" y="254.4" font-size="24.7" fill="#222" textLength="64.2" lengthAdjust="spacingAndGlyphs" stroke="#222" stroke-width="0.75">FP15</text>
<line x1="1486" y1="283.5" x2="1524.5" y2="283.5" stroke="#2d383c" stroke-width="4.5" stroke-linecap="round"/>
<polygon points="1500.2,279.5 1510.2,279.5 1505.2,289.5" fill="#fff" stroke="#000" stroke-width="2.5" stroke-linejoin="round"/>
<text x="1542.3" y="292" font-size="24.4" fill="#222" textLength="64.2" lengthAdjust="spacingAndGlyphs" stroke="#222" stroke-width="0.75">FP16</text>
<line x1="1486" y1="321.1" x2="1524.5" y2="321.1" stroke="#978a00" stroke-width="4.5" stroke-linecap="round"/>
<polygon points="1505.2,316.1 1510.2,321.1 1505.2,326.1 1500.2,321.1" fill="#fff" stroke="#000" stroke-width="2.6" stroke-linejoin="round"/>
<circle cx="1505.2" cy="321.1" r="2.2" fill="#978a00" stroke="none" stroke-width="0"/>
<text x="1542.3" y="329.8" font-size="25.1" fill="#222" textLength="64.2" lengthAdjust="spacingAndGlyphs" stroke="#222" stroke-width="0.75">FP17</text>
<text x="66.7" y="558.3" font-size="66.3" font-weight="bold" textLength="46.5" lengthAdjust="spacingAndGlyphs">C</text>
<text x="196.8" y="529.4" font-size="29.8" font-weight="bold" textLength="363.9" lengthAdjust="spacingAndGlyphs">bis-ANS displacement</text>
<line x1="111.8" y1="578.5" x2="111.8" y2="925" stroke="#000" stroke-width="4.4"/>
<line x1="109.6" y1="922.8" x2="648" y2="922.8" stroke="#000" stroke-width="4.4"/>
<line x1="99.5" y1="922.8" x2="111.8" y2="922.8" stroke="#000" stroke-width="3.8"/>
<line x1="99.5" y1="751.5" x2="111.8" y2="751.5" stroke="#000" stroke-width="3.8"/>
<line x1="99.5" y1="580.3" x2="111.8" y2="580.3" stroke="#000" stroke-width="3.8"/>
<text x="42.1" y="590.4" font-size="23.5" font-weight="bold" textLength="57.5" lengthAdjust="spacingAndGlyphs">1000</text>
<text x="56.4" y="761.9" font-size="23.5" font-weight="bold" textLength="43.1" lengthAdjust="spacingAndGlyphs">500</text>
<text x="85.3" y="932.5" font-size="23.5" font-weight="bold" textLength="14.4" lengthAdjust="spacingAndGlyphs">0</text>
<line x1="111.9" y1="922.8" x2="111.9" y2="934" stroke="#000" stroke-width="3.8"/>
<text x="105" y="960.5" font-size="23.5" font-weight="bold" textLength="14.4" lengthAdjust="spacingAndGlyphs">0</text>
<line x1="290.1" y1="922.8" x2="290.1" y2="934" stroke="#000" stroke-width="3.8"/>
<text x="276.1" y="960.5" font-size="23.5" font-weight="bold" textLength="28.8" lengthAdjust="spacingAndGlyphs">10</text>
<line x1="468.3" y1="922.8" x2="468.3" y2="934" stroke="#000" stroke-width="3.8"/>
<text x="454.3" y="960.5" font-size="23.5" font-weight="bold" textLength="28.8" lengthAdjust="spacingAndGlyphs">20</text>
<line x1="646.5" y1="922.8" x2="646.5" y2="934" stroke="#000" stroke-width="3.8"/>
<text x="632.5" y="960.5" font-size="23.5" font-weight="bold" textLength="28.8" lengthAdjust="spacingAndGlyphs">30</text>
<text x="23.7" y="888.7" font-size="28.2" font-weight="bold" textLength="284.2" lengthAdjust="spacingAndGlyphs" transform="rotate(-90 23.7 888.7)">Fluorescence 495 nm</text>
<text x="349.7" y="999.6" font-size="22.8" font-weight="bold" textLength="57.5" lengthAdjust="spacingAndGlyphs">[µM]</text>
<path d="M111.9 592.3l0.9 3.7 0.9 3.7 0.9 3.5 1 3.4 0.9 3.3 0.9 3.2 0.9 3.1 0.9 3 0.9 2.9 0.9 2.9 1 2.8 0.9 2.7 0.9 2.6 0.9 2.5 0.9 2.5 0.9 2.5 0.9 2.3 0.9 2.4 1 2.2 0.9 2.2 0.9 2.2 0.9 2.1 0.9 2.1 0.9 2 0.9 2 1 2 0.9 1.9 0.9 1.9 0.9 1.8 0.9 1.8 0.9 1.8 0.9 1.8 1 1.7 0.9 1.7 0.9 1.6 0.9 1.7 0.9 1.6 0.9 1.6 0.9 1.6 3.6 5.9 3.5 5.5 3.5 5.4 3.6 5.1 3.5 4.8 3.5 4.7 3.6 4.6 3.5 4.3 3.5 4.2 3.6 4.1 3.5 4 3.5 3.8 3.6 3.7 3.5 3.6 3.6 3.5 3.5 3.4 3.5 3.3 3.6 3.2 3.5 3.1 3.5 3 3.6 3 3.5 2.8 3.5 2.8 3.6 2.7 3.5 2.6 3.5 2.6 3.6 2.5 3.5 2.4 3.5 2.3 3.6 2.3 3.5 2.2 3.5 2.2 3.6 2.1 3.5 2 3.5 2 3.6 2 3.5 1.8 3.5 1.9 3.6 1.7 3.5 1.8 3.5 1.6 3.6 1.7 3.5 1.6 3.5 1.5 3.6 1.5 3.5 1.5 3.5 1.4 3.6 1.4 3.5 1.3 3.5 1.3 3.6 1.3 3.5 1.3 3.5 1.2 3.6 1.1 3.5 1.2 3.5 1.1 3.6 1.1 3.5 1 3.5 1 3.6 1 3.5 1 3.6 0.9 3.5 0.9 3.5 0.9 3.6 0.9 3.5 0.8 3.5 0.8 3.6 0.8 3.5 0.8 3.5 0.8 3.6 0.7 3.5 0.7 3.5 0.7 3.6 0.7 3.5 0.6 3.5 0.7 3.6 0.6 3.5 0.6 3.5 0.6 3.6 0.5 3.5 0.6 3.5 0.5 3.6 0.5 3.5 0.6 3.5 0.5 3.6 0.4 3.5 0.5 3.5 0.5 3.6 0.4 3.5 0.4 3.5 0.5 3.6 0.4 3.5 0.4 3.5 0.3 3.6 0.4 3.5 0.4 3.5 0.3 3.6 0.4 3.5 0.3 3.5 0.3 3.6 0.4 3.5 0.3 3.5 0.3 3.6 0.3 3.5 0.3 3.5 0.2 3.6 0.3 3.5 0.3 3.6 0.2 3.5 0.3 3.5 0.2 3.6 0.2 3.5 0.3 3.5 0.2 3.6 0.2 3.5 0.2 3.5 0.2 3.6 0.2 3.5 0.2" fill="none" stroke="#2d383c" stroke-width="4" stroke-linejoin="round" stroke-linecap="round"/>
<path d="M111.9 592.3l0.9 2.8 0.9 2.7 0.9 2.7 1 2.6 0.9 2.5 0.9 2.5 0.9 2.5 0.9 2.4 0.9 2.3 0.9 2.3 1 2.3 0.9 2.2 0.9 2.2 0.9 2.1 0.9 2.1 0.9 2.1 0.9 2 0.9 2 1 2 0.9 1.9 0.9 1.9 0.9 1.9 0.9 1.9 0.9 1.8 0.9 1.8 1 1.8 0.9 1.8 0.9 1.7 0.9 1.7 0.9 1.7 0.9 1.7 0.9 1.7 1 1.6 0.9 1.6 0.9 1.6 0.9 1.6 0.9 1.6 0.9 1.5 0.9 1.6 3.6 5.8 3.5 5.5 3.5 5.4 3.6 5.2 3.5 5.1 3.5 4.9 3.6 4.7 3.5 4.6 3.5 4.5 3.6 4.3 3.5 4.2 3.5 4.1 3.6 4 3.5 3.9 3.6 3.8 3.5 3.7 3.5 3.6 3.6 3.4 3.5 3.4 3.5 3.4 3.6 3.2 3.5 3.1 3.5 3.1 3.6 3 3.5 2.9 3.5 2.8 3.6 2.7 3.5 2.7 3.5 2.6 3.6 2.6 3.5 2.5 3.5 2.4 3.6 2.3 3.5 2.3 3.5 2.3 3.6 2.2 3.5 2.1 3.5 2 3.6 2.1 3.5 1.9 3.5 1.9 3.6 1.9 3.5 1.8 3.5 1.8 3.6 1.7 3.5 1.7 3.5 1.6 3.6 1.6 3.5 1.6 3.5 1.5 3.6 1.4 3.5 1.5 3.5 1.4 3.6 1.3 3.5 1.4 3.5 1.3 3.6 1.2 3.5 1.2 3.5 1.2 3.6 1.2 3.5 1.1 3.6 1.1 3.5 1.1 3.5 1.1 3.6 1 3.5 1 3.5 1 3.6 0.9 3.5 0.9 3.5 0.9 3.6 0.9 3.5 0.9 3.5 0.8 3.6 0.8 3.5 0.8 3.5 0.7 3.6 0.8 3.5 0.7 3.5 0.7 3.6 0.7 3.5 0.7 3.5 0.7 3.6 0.6 3.5 0.6 3.5 0.6 3.6 0.6 3.5 0.6 3.5 0.5 3.6 0.6 3.5 0.5 3.5 0.5 3.6 0.6 3.5 0.4 3.5 0.5 3.6 0.5 3.5 0.4 3.5 0.5 3.6 0.4 3.5 0.4 3.5 0.5 3.6 0.4 3.5 0.3 3.5 0.4 3.6 0.4 3.5 0.4 3.5 0.3 3.6 0.3 3.5 0.4 3.6 0.3 3.5 0.3 3.5 0.3 3.6 0.3 3.5 0.3 3.5 0.3 3.6 0.3 3.5 0.3 3.5 0.2 3.6 0.3 3.5 0.2" fill="none" stroke="#978a00" stroke-width="4" stroke-linejoin="round" stroke-linecap="round"/>
<path d="M111.9 592.3l0.9 4.1 0.9 4 0.9 3.9 1 3.7 0.9 3.6 0.9 3.5 0.9 3.4 0.9 3.3 0.9 3.1 0.9 3.1 1 3 0.9 2.9 0.9 2.8 0.9 2.8 0.9 2.6 0.9 2.6 0.9 2.5 0.9 2.5 1 2.4 0.9 2.4 0.9 2.2 0.9 2.3 0.9 2.2 0.9 2.1 0.9 2.1 1 2 0.9 2 0.9 2 0.9 1.9 0.9 1.9 0.9 1.8 0.9 1.9 1 1.7 0.9 1.8 0.9 1.7 0.9 1.7 0.9 1.7 0.9 1.6 0.9 1.6 3.6 6 3.5 5.7 3.5 5.3 3.6 5.2 3.5 4.9 3.5 4.7 3.6 4.5 3.5 4.3 3.5 4.2 3.6 4 3.5 3.9 3.5 3.7 3.6 3.7 3.5 3.5 3.6 3.4 3.5 3.3 3.5 3.2 3.6 3.1 3.5 3.1 3.5 2.9 3.6 2.8 3.5 2.8 3.5 2.6 3.6 2.6 3.5 2.6 3.5 2.4 3.6 2.4 3.5 2.3 3.5 2.2 3.6 2.2 3.5 2.1 3.5 2.1 3.6 1.9 3.5 2 3.5 1.8 3.6 1.9 3.5 1.7 3.5 1.8 3.6 1.6 3.5 1.6 3.5 1.6 3.6 1.5 3.5 1.5 3.5 1.5 3.6 1.4 3.5 1.3 3.5 1.3 3.6 1.3 3.5 1.3 3.5 1.2 3.6 1.1 3.5 1.2 3.5 1.1 3.6 1.1 3.5 1 3.5 1 3.6 1 3.5 1 3.5 0.9 3.6 0.9 3.5 0.9 3.6 0.8 3.5 0.8 3.5 0.8 3.6 0.8 3.5 0.8 3.5 0.7 3.6 0.7 3.5 0.7 3.5 0.7 3.6 0.6 3.5 0.7 3.5 0.6 3.6 0.6 3.5 0.5 3.5 0.6 3.6 0.6 3.5 0.5 3.5 0.5 3.6 0.5 3.5 0.5 3.5 0.5 3.6 0.4 3.5 0.5 3.5 0.4 3.6 0.4 3.5 0.4 3.5 0.4 3.6 0.4 3.5 0.4 3.5 0.3 3.6 0.4 3.5 0.3 3.5 0.4 3.6 0.3 3.5 0.3 3.5 0.3 3.6 0.3 3.5 0.3 3.5 0.3 3.6 0.2 3.5 0.3 3.5 0.3 3.6 0.2 3.5 0.3 3.5 0.2 3.6 0.2 3.5 0.2 3.6 0.2 3.5 0.3 3.5 0.2 3.6 0.2 3.5 0.1 3.5 0.2 3.6 0.2 3.5 0.2 3.5 0.1 3.6 0.2 3.5 0.2" fill="none" stroke="#ff0000" stroke-width="4" stroke-linejoin="round" stroke-linecap="round"/>
<path d="M111.9 592.3l0.9 4.8 0.9 4.6 0.9 4.4 1 4.3 0.9 4.2 0.9 4 0.9 3.9 0.9 3.7 0.9 3.6 0.9 3.6 1 3.4 0.9 3.3 0.9 3.2 0.9 3.1 0.9 3.1 0.9 2.9 0.9 2.9 0.9 2.8 1 2.7 0.9 2.7 0.9 2.6 0.9 2.5 0.9 2.5 0.9 2.4 0.9 2.3 1 2.3 0.9 2.3 0.9 2.2 0.9 2.2 0.9 2.1 0.9 2 0.9 2.1 1 2 0.9 1.9 0.9 2 0.9 1.8 0.9 1.9 0.9 1.8 0.9 1.8 3.6 6.7 3.5 6.3 3.5 6 3.6 5.6 3.5 5.4 3.5 5.2 3.6 5 3.5 4.7 3.5 4.6 3.6 4.5 3.5 4.2 3.5 4.1 3.6 4 3.5 3.9 3.6 3.7 3.5 3.6 3.5 3.5 3.6 3.4 3.5 3.3 3.5 3.2 3.6 3 3.5 3 3.5 2.9 3.6 2.9 3.5 2.7 3.5 2.6 3.6 2.6 3.5 2.5 3.5 2.4 3.6 2.4 3.5 2.3 3.5 2.2 3.6 2.1 3.5 2.1 3.5 2 3.6 2 3.5 1.9 3.5 1.9 3.6 1.8 3.5 1.7 3.5 1.7 3.6 1.6 3.5 1.6 3.5 1.6 3.6 1.5 3.5 1.4 3.5 1.4 3.6 1.4 3.5 1.3 3.5 1.3 3.6 1.3 3.5 1.2 3.5 1.2 3.6 1.1 3.5 1.1 3.5 1.1 3.6 1.1 3.5 1 3.5 1 3.6 0.9 3.5 0.9 3.6 0.9 3.5 0.9 3.5 0.9 3.6 0.8 3.5 0.8 3.5 0.8 3.6 0.7 3.5 0.8 3.5 0.7 3.6 0.7 3.5 0.6 3.5 0.7 3.6 0.6 3.5 0.6 3.5 0.6 3.6 0.6 3.5 0.5 3.5 0.6 3.6 0.5 3.5 0.5 3.5 0.5 3.6 0.5 3.5 0.5 3.5 0.4 3.6 0.5 3.5 0.4 3.5 0.4 3.6 0.4 3.5 0.4 3.5 0.4 3.6 0.3 3.5 0.4 3.5 0.3 3.6 0.4 3.5 0.3 3.5 0.3 3.6 0.3 3.5 0.3 3.5 0.3 3.6 0.3 3.5 0.3 3.5 0.2 3.6 0.3 3.5 0.2 3.5 0.3 3.6 0.2 3.5 0.3 3.6 0.2 3.5 0.2 3.5 0.2 3.6 0.2 3.5 0.2 3.5 0.2 3.6 0.2 3.5 0.1 3.5 0.2 3.6 0.2 3.5 0.2" fill="none" stroke="#0000ff" stroke-width="4" stroke-linejoin="round" stroke-linecap="round"/>
<path d="M111.9 592.3l0.9 3.2 0.9 3.2 0.9 3 1 2.9 0.9 2.9 0.9 2.7 0.9 2.7 0.9 2.6 0.9 2.5 0.9 2.5 1 2.4 0.9 2.3 0.9 2.3 0.9 2.2 0.9 2.1 0.9 2.1 0.9 2.1 0.9 2 1 1.9 0.9 1.9 0.9 1.9 0.9 1.8 0.9 1.8 0.9 1.8 0.9 1.7 1 1.7 0.9 1.6 0.9 1.7 0.9 1.6 0.9 1.6 0.9 1.5 0.9 1.5 1 1.5 0.9 1.5 0.9 1.5 0.9 1.4 0.9 1.4 0.9 1.4 0.9 1.4 3.6 5.1 3.5 4.9 3.5 4.7 3.6 4.5 3.5 4.4 3.5 4.2 3.6 4.1 3.5 3.9 3.5 3.8 3.6 3.8 3.5 3.6 3.5 3.5 3.6 3.4 3.5 3.4 3.6 3.2 3.5 3.2 3.5 3.1 3.6 3.1 3.5 2.9 3.5 2.9 3.6 2.8 3.5 2.8 3.5 2.7 3.6 2.6 3.5 2.6 3.5 2.5 3.6 2.5 3.5 2.4 3.5 2.3 3.6 2.3 3.5 2.2 3.5 2.2 3.6 2.2 3.5 2 3.5 2.1 3.6 2 3.5 1.9 3.5 1.9 3.6 1.9 3.5 1.8 3.5 1.8 3.6 1.7 3.5 1.7 3.5 1.7 3.6 1.6 3.5 1.6 3.5 1.5 3.6 1.5 3.5 1.5 3.5 1.5 3.6 1.4 3.5 1.4 3.5 1.3 3.6 1.3 3.5 1.3 3.5 1.3 3.6 1.2 3.5 1.2 3.5 1.2 3.6 1.1 3.5 1.1 3.6 1.1 3.5 1.1 3.5 1.1 3.6 1 3.5 1 3.5 1 3.6 0.9 3.5 0.9 3.5 1 3.6 0.9 3.5 0.8 3.5 0.9 3.6 0.8 3.5 0.8 3.5 0.8 3.6 0.8 3.5 0.7 3.5 0.8 3.6 0.7 3.5 0.7 3.5 0.7 3.6 0.7 3.5 0.6 3.5 0.7 3.6 0.6 3.5 0.6 3.5 0.6 3.6 0.6 3.5 0.6 3.5 0.6 3.6 0.5 3.5 0.6 3.5 0.5 3.6 0.5 3.5 0.5 3.5 0.5 3.6 0.5 3.5 0.4 3.5 0.5 3.6 0.4 3.5 0.5 3.5 0.4 3.6 0.4 3.5 0.4 3.5 0.4 3.6 0.4 3.5 0.4 3.6 0.4 3.5 0.3 3.5 0.4 3.6 0.3 3.5 0.4 3.5 0.3 3.6 0.3 3.5 0.3 3.5 0.3 3.6 0.3 3.5 0.3" fill="none" stroke="#ff00ff" stroke-width="4" stroke-linejoin="round" stroke-linecap="round"/>
<path d="M111.8 586l0.8 24 0.9 30 1.1 40 1.4 40 2.3 36 2.5 26 2.6 18 3.1 22 3.5 23 4 17 4.5 11 5 5" fill="none" stroke="#008000" stroke-width="4" stroke-linejoin="round" stroke-linecap="round"/>
<polygon points="105.7,585.3 118.2,585.3 111.9,597.8" fill="none" stroke="#000" stroke-width="2.5" stroke-linejoin="round"/>
<polygon points="107.4,599 119.9,599 113.7,611.5" fill="none" stroke="#000" stroke-width="2.5" stroke-linejoin="round"/>
<polygon points="109.2,607.6 121.7,607.6 115.5,620.1" fill="none" stroke="#000" stroke-width="2.5" stroke-linejoin="round"/>
<polygon points="112.8,616.1 125.3,616.1 119,628.6" fill="none" stroke="#000" stroke-width="2.5" stroke-linejoin="round"/>
<polygon points="119.9,626.4 132.4,626.4 126.2,638.9" fill="none" stroke="#000" stroke-width="2.5" stroke-linejoin="round"/>
<polygon points="134.2,653.8 146.7,653.8 140.4,666.3" fill="none" stroke="#000" stroke-width="2.5" stroke-linejoin="round"/>
<polygon points="162.7,693.6 175.2,693.6 168.9,706.1" fill="none" stroke="#000" stroke-width="2.5" stroke-linejoin="round"/>
<polygon points="219.7,736 232.2,736 225.9,748.5" fill="none" stroke="#000" stroke-width="2.5" stroke-linejoin="round"/>
<polygon points="333.7,798.4 346.2,798.4 340,810.9" fill="none" stroke="#000" stroke-width="2.5" stroke-linejoin="round"/>
<polygon points="561.8,853.5 574.3,853.5 568.1,866" fill="none" stroke="#000" stroke-width="2.5" stroke-linejoin="round"/>
<line x1="105.7" y1="594" x2="118.2" y2="594" stroke="#000" stroke-width="3"/>
<line x1="111.9" y1="587.8" x2="111.9" y2="600.2" stroke="#000" stroke-width="3"/>
<line x1="107.4" y1="614.5" x2="119.9" y2="614.5" stroke="#000" stroke-width="3"/>
<line x1="113.7" y1="608.3" x2="113.7" y2="620.8" stroke="#000" stroke-width="3"/>
<line x1="109.2" y1="624.8" x2="121.7" y2="624.8" stroke="#000" stroke-width="3"/>
<line x1="115.5" y1="618.6" x2="115.5" y2="631.1" stroke="#000" stroke-width="3"/>
<line x1="112.8" y1="638.5" x2="125.3" y2="638.5" stroke="#000" stroke-width="3"/>
<line x1="119" y1="632.3" x2="119" y2="644.8" stroke="#000" stroke-width="3"/>
<line x1="119.9" y1="673.8" x2="132.4" y2="673.8" stroke="#000" stroke-width="3"/>
<line x1="126.2" y1="667.6" x2="126.2" y2="680.1" stroke="#000" stroke-width="3"/>
<line x1="134.2" y1="696.4" x2="146.7" y2="696.4" stroke="#000" stroke-width="3"/>
<line x1="140.4" y1="690.2" x2="140.4" y2="702.7" stroke="#000" stroke-width="3"/>
<line x1="162.7" y1="733.7" x2="175.2" y2="733.7" stroke="#000" stroke-width="3"/>
<line x1="168.9" y1="727.5" x2="168.9" y2="740" stroke="#000" stroke-width="3"/>
<line x1="219.7" y1="766.3" x2="232.2" y2="766.3" stroke="#000" stroke-width="3"/>
<line x1="225.9" y1="760" x2="225.9" y2="772.5" stroke="#000" stroke-width="3"/>
<line x1="333.7" y1="838.5" x2="346.2" y2="838.5" stroke="#000" stroke-width="3"/>
<line x1="340" y1="832.3" x2="340" y2="844.8" stroke="#000" stroke-width="3"/>
<line x1="561.8" y1="873.5" x2="574.3" y2="873.5" stroke="#000" stroke-width="3"/>
<line x1="568.1" y1="867.2" x2="568.1" y2="879.7" stroke="#000" stroke-width="3"/>
<line x1="105.7" y1="586" x2="118.2" y2="598.5" stroke="#000" stroke-width="3"/>
<line x1="105.7" y1="598.5" x2="118.2" y2="586" stroke="#000" stroke-width="3"/>
<line x1="107.4" y1="601.4" x2="119.9" y2="613.9" stroke="#000" stroke-width="3"/>
<line x1="107.4" y1="613.9" x2="119.9" y2="601.4" stroke="#000" stroke-width="3"/>
<line x1="109.2" y1="610" x2="121.7" y2="622.5" stroke="#000" stroke-width="3"/>
<line x1="109.2" y1="622.5" x2="121.7" y2="610" stroke="#000" stroke-width="3"/>
<line x1="112.8" y1="622" x2="125.3" y2="634.5" stroke="#000" stroke-width="3"/>
<line x1="112.8" y1="634.5" x2="125.3" y2="622" stroke="#000" stroke-width="3"/>
<line x1="119.9" y1="628.8" x2="132.4" y2="641.3" stroke="#000" stroke-width="3"/>
<line x1="119.9" y1="641.3" x2="132.4" y2="628.8" stroke="#000" stroke-width="3"/>
<line x1="134.2" y1="656.2" x2="146.7" y2="668.8" stroke="#000" stroke-width="3"/>
<line x1="134.2" y1="668.8" x2="146.7" y2="656.2" stroke="#000" stroke-width="3"/>
<line x1="162.7" y1="700.1" x2="175.2" y2="712.6" stroke="#000" stroke-width="3"/>
<line x1="162.7" y1="712.6" x2="175.2" y2="700.1" stroke="#000" stroke-width="3"/>
<line x1="219.7" y1="757.3" x2="232.2" y2="769.8" stroke="#000" stroke-width="3"/>
<line x1="219.7" y1="769.8" x2="232.2" y2="757.3" stroke="#000" stroke-width="3"/>
<line x1="333.7" y1="817.6" x2="346.2" y2="830.1" stroke="#000" stroke-width="3"/>
<line x1="333.7" y1="830.1" x2="346.2" y2="817.6" stroke="#000" stroke-width="3"/>
<line x1="561.8" y1="872.4" x2="574.3" y2="884.9" stroke="#000" stroke-width="3"/>
<line x1="561.8" y1="884.9" x2="574.3" y2="872.4" stroke="#000" stroke-width="3"/>
<circle cx="111.9" cy="585.4" r="6.2" fill="#000" stroke="none" stroke-width="0"/>
<circle cx="113.7" cy="594" r="6.2" fill="#000" stroke="none" stroke-width="0"/>
<circle cx="115.5" cy="604.3" r="6.2" fill="#000" stroke="none" stroke-width="0"/>
<circle cx="119" cy="621.4" r="6.2" fill="#000" stroke="none" stroke-width="0"/>
<circle cx="126.2" cy="641.9" r="6.2" fill="#000" stroke="none" stroke-width="0"/>
<circle cx="140.4" cy="683" r="6.2" fill="#000" stroke="none" stroke-width="0"/>
<circle cx="168.9" cy="734.8" r="6.2" fill="#000" stroke="none" stroke-width="0"/>
<circle cx="225.9" cy="820" r="6.2" fill="#000" stroke="none" stroke-width="0"/>
<circle cx="340" cy="871.1" r="6.2" fill="#000" stroke="none" stroke-width="0"/>
<circle cx="568.1" cy="892.7" r="6.2" fill="#000" stroke="none" stroke-width="0"/>
<rect x="107.2" y="584.1" width="9.5" height="9.5" fill="none" stroke="#000" stroke-width="3" rx="1.5"/>
<rect x="108.9" y="610.8" width="9.5" height="9.5" fill="none" stroke="#000" stroke-width="3" rx="1.5"/>
<rect x="110.7" y="616.6" width="9.5" height="9.5" fill="none" stroke="#000" stroke-width="3" rx="1.5"/>
<rect x="114.3" y="624.2" width="9.5" height="9.5" fill="none" stroke="#000" stroke-width="3" rx="1.5"/>
<rect x="121.4" y="637.5" width="9.5" height="9.5" fill="none" stroke="#000" stroke-width="3" rx="1.5"/>
<rect x="135.7" y="669.1" width="9.5" height="9.5" fill="none" stroke="#000" stroke-width="3" rx="1.5"/>
<rect x="164.2" y="718" width="9.5" height="9.5" fill="none" stroke="#000" stroke-width="3" rx="1.5"/>
<rect x="221.2" y="771.5" width="9.5" height="9.5" fill="none" stroke="#000" stroke-width="3" rx="1.5"/>
<rect x="335.2" y="823.9" width="9.5" height="9.5" fill="none" stroke="#000" stroke-width="3" rx="1.5"/>
<rect x="563.3" y="866.3" width="9.5" height="9.5" fill="none" stroke="#000" stroke-width="3" rx="1.5"/>
<circle cx="111.5" cy="586" r="3.2" fill="none" stroke="#008000" stroke-width="2"/>
<circle cx="110.5" cy="616" r="3.2" fill="none" stroke="#008000" stroke-width="2"/>
<circle cx="110.2" cy="661" r="3.2" fill="none" stroke="#008000" stroke-width="2"/>
<circle cx="111.5" cy="707.9" r="3.2" fill="none" stroke="#008000" stroke-width="2"/>
<circle cx="114" cy="750" r="3.2" fill="none" stroke="#008000" stroke-width="2"/>
<circle cx="123" cy="810.5" r="3.2" fill="none" stroke="#008000" stroke-width="2"/>
<circle cx="138" cy="881" r="3.2" fill="none" stroke="#008000" stroke-width="2"/>
<line x1="109" y1="579" x2="117" y2="579" stroke="#008000" stroke-width="2.5"/>
<line x1="113" y1="576" x2="113" y2="582" stroke="#008000" stroke-width="2.5"/>
<line x1="110" y1="628" x2="118" y2="628" stroke="#008000" stroke-width="2.5"/>
<line x1="114" y1="625" x2="114" y2="631" stroke="#008000" stroke-width="2.5"/>
<line x1="112" y1="656" x2="120" y2="656" stroke="#008000" stroke-width="2.5"/>
<line x1="116" y1="653" x2="116" y2="659" stroke="#008000" stroke-width="2.5"/>
<line x1="118" y1="702" x2="126" y2="702" stroke="#008000" stroke-width="2.5"/>
<line x1="122" y1="699" x2="122" y2="705" stroke="#008000" stroke-width="2.5"/>
<line x1="121" y1="742" x2="129" y2="742" stroke="#008000" stroke-width="2.5"/>
<line x1="125" y1="739" x2="125" y2="745" stroke="#008000" stroke-width="2.5"/>
<line x1="129" y1="805" x2="137" y2="805" stroke="#008000" stroke-width="2.5"/>
<line x1="133" y1="802" x2="133" y2="808" stroke="#008000" stroke-width="2.5"/>
<line x1="141" y1="873" x2="149" y2="873" stroke="#008000" stroke-width="2.5"/>
<line x1="145" y1="870" x2="145" y2="876" stroke="#008000" stroke-width="2.5"/>
<line x1="616.5" y1="621.6" x2="649.5" y2="621.6" stroke="#008000" stroke-width="4.5" stroke-linecap="round"/>
<circle cx="630.5" cy="625.6" r="3.2" fill="none" stroke="#008000" stroke-width="2.2"/>
<line x1="636.5" y1="614.6" x2="636.5" y2="621.6" stroke="#008000" stroke-width="3"/>
<text x="663.4" y="631.6" font-size="28.2" fill="#222" textLength="54.3" lengthAdjust="spacingAndGlyphs" stroke="#222" stroke-width="0.75">LPS</text>
<line x1="616.5" y1="658.9" x2="649.5" y2="658.9" stroke="#ff0000" stroke-width="4.5" stroke-linecap="round"/>
<rect x="629" y="654.9" width="8" height="8" fill="#ff0000" stroke="#000" stroke-width="3" rx="1.5"/>
<text x="663.6" y="668.9" font-size="27.3" fill="#222" textLength="70.4" lengthAdjust="spacingAndGlyphs" stroke="#222" stroke-width="0.75">FP13</text>
<line x1="616.5" y1="696.2" x2="649.5" y2="696.2" stroke="#ff00ff" stroke-width="4.5" stroke-linecap="round"/>
<polygon points="627.5,691.7 638.5,691.7 633,702.7" fill="#ff00ff" stroke="#000" stroke-width="2.5" stroke-linejoin="round"/>
<text x="663.6" y="706.5" font-size="28.1" fill="#222" textLength="70.4" lengthAdjust="spacingAndGlyphs" stroke="#222" stroke-width="0.75">FP14</text>
<line x1="616.5" y1="733.5" x2="649.5" y2="733.5" stroke="#0000ff" stroke-width="4.5" stroke-linecap="round"/>
<circle cx="633" cy="733.5" r="5.5" fill="#000" stroke="none" stroke-width="0"/>
<text x="663.6" y="743.5" font-size="27.7" fill="#222" textLength="70.4" lengthAdjust="spacingAndGlyphs" stroke="#222" stroke-width="0.75">FP15</text>
<line x1="616.5" y1="770.8" x2="649.5" y2="770.8" stroke="#2d383c" stroke-width="4.5" stroke-linecap="round"/>
<line x1="627.5" y1="770.8" x2="638.5" y2="770.8" stroke="#000" stroke-width="3"/>
<line x1="633" y1="765.3" x2="633" y2="776.3" stroke="#000" stroke-width="3"/>
<text x="663.6" y="780.8" font-size="27.3" fill="#222" textLength="70.4" lengthAdjust="spacingAndGlyphs" stroke="#222" stroke-width="0.75">FP16</text>
<line x1="616.5" y1="808.1" x2="649.5" y2="808.1" stroke="#978a00" stroke-width="4.5" stroke-linecap="round"/>
<line x1="627.5" y1="802.6" x2="638.5" y2="813.6" stroke="#000" stroke-width="3"/>
<line x1="627.5" y1="813.6" x2="638.5" y2="802.6" stroke="#000" stroke-width="3"/>
<text x="663.6" y="818.4" font-size="28.1" fill="#222" textLength="70.4" lengthAdjust="spacingAndGlyphs" stroke="#222" stroke-width="0.75">FP17</text>
<text x="884.9" y="561.2" font-size="69.3" font-weight="bold" textLength="48.5" lengthAdjust="spacingAndGlyphs">D</text>
<text x="1168.9" y="587.5" font-size="29.4" font-weight="bold" textLength="75.7" lengthAdjust="spacingAndGlyphs">FP13</text>
<line x1="1055.2" y1="596.4" x2="1055.2" y2="920.7" stroke="#000" stroke-width="2.6" stroke-dasharray="2.8 4.95"/>
<line x1="1268.2" y1="596.4" x2="1268.2" y2="920.7" stroke="#000" stroke-width="2.6" stroke-dasharray="2.8 4.95"/>
<line x1="1057.2" y1="867.3" x2="1459" y2="867.3" stroke="#a8a8a8" stroke-width="2.2"/>
<path d="M954.2 867.1l1 0 1.1 0.8 1-0.1 1 0 1-0.4 1 0 1-0.1 1 0.1 1 0.1 1 0.2 1-0.3 1.1-0.2 1 0.1 1 0.3 1 0 1-0.5 1-0.2 1 0.3 1 0 1 0.1 1-0.2 1.1-0.1 1-0.2 1 0.1 1 0.2 1 0.2 1 0 1 0.2 1 0 1 0 1-0.1 1 0.1 1.1-0.1 1-0.1 1-0.1 1-0.2 1 0.3 1-0.2 1 0.3 1-0.1 1 0.3 1-0.1 1.1-0.4 1 0.2 1 0 1 0.1 1 0.1 1 0.2 1 0 1-0.4 1-0.4 1 0 1 0.1 1.1 0.1 1-0.1 1 0.2 1 0.1 1 0.1 1 0.1 1-0.2 1 0.2 1-0.3 1-0.1 1.1 0 1 0.1 1 0.1 1 0 1 0 1 0.2 1-0.3 1-0.2 1 0.1 1-0.2 1.1 0 1-0.1 1 0.3 1 0.3 1 0.4 1-0.2 1 0.2 1-0.5 1-0.1 1-0.2 1 0.3 1.1 0.4 1-0.3 1 0 1-0.1 1 0.2 1-0.1 1-0.2 1 0.1 1-0.1 1 0.2 1.1-0.3 1 0.2 1-0.1 1 0.1 1-0.4 1 0.2 1 0.2 1 5.4 1-21.7 1-5.4 1 3.5 1.1 3.4 1 2.3 1 1.9 1 1 1 1.2 1 0.6 1-0.1 1 0 1-0.4 1-0.2 1.1-0.2 1-0.6 1-0.3 1-0.8 1-0.3 1-0.6 1-0.6 1-0.9 1-0.8 1-0.6 1-0.7 1.1-0.5 1-0.2 1-0.4 1-0.5 1-0.6 1-0.7 1-0.7 1-0.7 1-0.6 1-0.5 1.1-0.4 1-0.5 1-0.3 1-0.4 1-0.4 1-0.4 1-0.4 1-0.4 1-0.6 1-0.4 1.1-0.3 1-0.1 1-0.2 1-0.6 1 0 1-0.3 1 0 1-0.8 1 0 1-0.5 1-0.3 1.1-0.3 1 0 1 0 1-0.2 1-0.2 1-0.4 1-0.3 1-0.2 1-0.2 1-0.2 1.1-0.2 1 0.1 1-0.2 1-0.1 1-0.2 1 0 1-0.4 1-0.5 1 0 1-0.3 1-0.1 1.1-0.4 1 0.1 1 0.1 1-0.1 1-0.1 1 0 1-0.2 1-0.3 1-0.6 1-0.1 1.1 0.2 1 0.1 1-0.2 1-0.5 1-0.1 1 0 1 0 1-0.3 1-0.3 1-0.1 1.1-0.1 1 0.1 1-0.2 1-0.1 1-0.1 1 0 1-0.1 1-0.3 1-0.3 1 0 1 0 1.1-0.1 1-0.5 1-0.2 1-0.4 1 0.3 1-0.3 1-0.1 1-0.3 1 0.2 1 0.2 1.1-0.2 1 0 1-0.1 1-0.2 1-0.4 1-0.3 1 0.1 1 0.2 1-0.2 1 0 1 0 1.1 0 1-0.2 1-0.1 1 0 1-0.1 1-0.5 1-0.3 1-0.1 1-0.1 1 0 1.1 0 1 0.1 1-0.4 1-0.3 1 0.3 1-0.1 1-0.1 1-0.5 1-0.1 1-0.2 1-0.2 1.1 0.1 1 0.3 1-0.2 1-0.1 1-0.3 1 0 1-0.3 1-0.3 1-0.3 1 0.1 1.1-0.1 1-0.1 1 0.1 1-0.1 1 0.2 1-0.2 1-0.1 1-0.4 1-0.1 1 0.2 1.1 0 1 0.1 1-0.2 1 0.1 1-0.3 1 0 1 0.1 1 0.1 1 0 1 0.1 1 0.2 1.1 0 1-0.1 1-0.3 1-0.1 1 0.1 1 0.2 1-0.1 1-0.3 1 0.1 1 0 1.1 0.2 1 0.2 1 0.2 1 0 1-0.2 1-0.1 1 0 1-0.1 1 0 1 0.2 1-0.1 1.1 0 1-0.3 1 0.2 1-0.3 1 0.3 1 0 1 0.1 1-0.2 1-10.9 1.5 25 1-5.3 0.9-3.3 0.9-1.9 1-1.2 0.9-0.8 0.9-1.1 1 0 1-0.1 1-0.1 1-0.1 1.1-0.1 1 0.1 1-0.1 1 0.3 1 0.2 1 0.3 1-0.2 1-0.1 1-0.2 1 0 1 0 1.1-0.2 1 0 1 0 1 0.4 1-0.1 1-0.1 1 0 1 0.2 1 0.1 1 0 1.1 0 1-0.1 1 0 1-0.1 1-0.1 1-0.1 1 0.1 1 0.2 1-0.1 1-0.1 1 0.2 1.1 0.2 1 0 1-0.1 1-0.3 1 0.1 1 0 1-0.1 1 0 1 0 1 0.3 1.1 0 1-0.2 1-0.1 1 0 1 0.2 1 0.1 1-0.2 1-0.3 1-0.1 1 0.1 1 0.2 1.1 0.1 1 0.1 1 0.1 1 0.2 1 0 1-0.1 1-0.4 1 0 1 0.1 1 0 1.1-0.3 1 0.1-0.5-1 0.7-1.8 0.6 5.4 0.6-4.2 0.6 6.7 0.6-5.8 0.8 2.8 0.8-1.9-2.2 0.3 1-0.2 1 0 1-0.1 1 0.2 1-0.2 1 0.1 1.1 0 1-0.1 1 0.1 1 0.1 1 0 1-0.3 1-0.1 1 0.4 1 0 1 0 1-0.3 1.1 0.4 1-0.1 1-0.3 1-0.3 1 0 1 0.3 1 0 1 0.3 1 0 1 0.1 1.1 0 1 0 1 0 1 0-0.5-0.7 0.7-1 0.6 2.9 0.6-2.2 0.6 3.5 0.6-3.1 0.8 1.6 0.8-1.1-2.2-0.1 1 0.1 1-0.1 1 0.3 1-0.2 1 0 1.1 0.1 1 0.1 1-0.2 1-0.3 1 0 1 0.2 1 0 1-0.1 1-0.1 1 0 1.1-0.1 1 0 1 0.2 1 0.2 1 0.1 1-0.1-0.5-0.7 0.7-0.9 0.6 2.9 0.6-2.3 0.6 3.6 0.6-3.1 0.8 1.5 0.8-1-2.2-0.2 1 0.2 1-0.1 1.1 0.3 1-0.3 1 0 1-0.1 1 0.2 1 0.1 1 0.1 1-0.3 1 0 1-0.2 1 0 1.1 0.1 1 0.1 1 0.4 1-0.1 1-0.1 1-0.2 1-0.1 1 0 1-0.2 1 0.1 1.1 0.1 1 0.1 1 0 1-0.2 1-0.1 1 0.1 1 0.3 1-0.1 1-0.2 1 0.1 1 0.2 1.1 0.2 1-0.2 1-0.3 1 0 1 0.2 1 0.1 1 0 1 0 1-0.1 1 0 1.1-0.1 1 0 1 0 1-0.1 1 0.1 1 0 1 0 1 0 1-0.1 1 0.1" fill="none" stroke="#111111" stroke-width="3" stroke-linejoin="round" stroke-linecap="round"/>
<path d="M954.2 868l1 0 1.1 0 1 0.3 1-0.1 1-0.2 1 0.1 1 0.1 1 0.3 1-0.1 1-0.1 1-0.2 1.1 0.3 1 0.2 1-0.1 0.3 7.3 0.7-14.4 0.7 9.1 0.7-2.3-0.4-0.2 1-0.1 1 0.1 1 0 1 0.4 1 0.2 1.1 0.2 1-0.2 1-0.1 1 0.1 1 0.1 1-0.3 1-0.4 1-0.4 1 0 1 0.3 1 0.4 1.1 0 1 0 1-0.1 1 0 1 0.2 1 0.1 1 0 1-0.4 1-0.1 1 0.2 1.1-0.2 1 0.1 1 0.2 1 0.4 1 0 1-0.3 1-0.1 1 0.1 1 0 1-0.1 1 0.2 1.1-0.1 1 0.4 1 0 1-0.1 1-0.1 1-0.4 1 0.1 1-0.2 1 0 1 0.1 1.1 0.5 1 0.4 1 0.1 1-0.3 1 0 1-0.3 1-0.2 1-0.1 1 0 1 0 1.1-0.4 1-0.3 1 0.2 1-0.2 1 0.5 1 0 1 0.3 1-0.3 1-0.3 1 0 1 0.3 1.1 0.6 1 0.1 1-0.6 1-0.2 1 0 1 0.6 1-0.3 1 0.4 1-0.4 1 0.2 1.1-0.5 1-0.2 1 0.3 1 0.2 1 0.6 1-0.2 1-1.4 1 8.7 1-25 1-27.2 1-5.4 1.1 5.3 1 4.7 1 3.8 1 2.6 1 1.9 1 1.5 1 0.6 1-0.8 1-2.3 1-3.3 1.1-3 1-2.4 1-2.4 1-2.3 1-2.7 1-2.2 1-2.6 1-2.1 1-2.5 1-2.4 1-2.4 1.1-2.3 1-2.1 1-1.7 1-2 1-1.7 1-2 1-1.7 1-2.1 1-2 1-1.6 1.1-1.3 1-1.3 1-1.7 1-1.7 1-1.7 1-1.2 1-1.4 1-1.4 1-1.4 1-1.3 1.1-1 1-1.3 1-1 1-1.1 1-1.1 1-1.1 1-1 1-0.9 1-0.9 1-0.8 1-0.9 1.1-0.7 1-0.9 1-0.8 1-0.8 1-0.5 1-0.9 1-0.8 1-0.7 1-0.4 1-0.7 1.1-0.8 1-0.7 1-0.5 1-0.4 1-0.3 1-0.4 1-0.4 1-0.3 1-0.4 1-0.7 1-0.6 1.1-0.5 1-0.1 1-0.4 1-0.2 1-0.3 1-0.4 1-0.6 1-0.7 1-0.1 1-0.4 1.1-0.2 1-0.6 1-0.1 1-0.2 1 0 1-0.5 1-0.3 1-0.6 1-0.4 1-0.3 1.1-0.2 1-0.1 1-0.2 1-0.4 1-0.2 1-0.1 1-0.2 1-0.3 1-0.3 1-0.1 1-0.4 1.1-0.5 1 0 1-0.1 1-0.1 1-0.3 1-0.5 1-0.2 1-0.4 1-0.3 1-0.2 1.1-0.4 1-0.4 1-0.3 1 0 1 0.2 1-0.5 1-0.1 1-0.3 1-0.1 1-0.1 1-0.3 1.1-0.2 1-0.6 1-0.3 1-0.2 1-0.1 1-0.1 1-0.1 1-0.1 1-0.1 1-0.2 1.1-0.1 1-0.2 1-0.3 1-0.1 1-0.1 1-0.2 1-0.1 1-0.3 1 0 1-0.2 1-0.1 1.1-0.1 1 0 1-0.1 1-0.1 1-0.2 1-0.1 1-0.1 1-0.1 1-0.3 1-0.1 1.1-0.1 1 0.2 1 0 1 0 1-0.2 1-0.1 1-0.2 1-0.5 1-0.1 1 0.1 1.1 0.4 1-0.1 1 0.4 1 0 1 0.2 1-0.4 1-0.5 1-0.1 1 0 1 0.7 1-0.1 1.1 0.1 1-0.4 1 0.2 1-0.2 1 0 1 0.1 1 0.2 1-0.1 1-0.4 1 0 1.1 0.1 1 0.2 1 0.1 1-0.1 1 0 1-0.3 1 0 1-0.1 1 0.3 1 0.3 1 0 1.1 0 1-0.4 1 0.1 1-0.3 1 0 1 0 1 0 1 0.1 1-7.4 1.5 34.8 1-9.9 0.9-5.9 0.9-3.7 1-2.2 0.9-1.3 0.9-2.2 1 0 1 0.4 1 0.2 1-0.1 1.1-0.4 1 0 1 0 1 0.1 1-0.2 1 0.1 1 0.2 1 0.1 1 0.1 1-0.1 1-0.1 1.1-0.4 1-0.1 1 0 1 0.2 1 0.5 1-0.1 1-0.1 1-0.4 1 0.1 1 0.2 1.1-0.2 1 0 1 0.2 1 0.3 1 0.2 1-0.4 1-0.4 1 0 1 0.3 1 0.2 1 0.1 1.1-0.2 1 0.2 1-0.2 1 0 1-0.1 1-0.2 1 0 1-0.2 1 0.1 1 0 1.1-0.1 1-0.1 1 0.1 1 0.5 1 0.2 1 0.1 1-0.5 1-0.2 1 0 1-0.1 1 0.4 1.1 0.1 1 0.3 1-0.2 1-0.2 1-0.1 1-0.2 1 0.2 1-0.2 1 0.1 1-0.2 1.1 0.4 1 0.1-0.5-1.9 0.7-3 0.6 9 0.6-7 0.6 11.1 0.6-9.6 0.8 4.7 0.8-3.2-2.2-0.1 1 0.1 1 0.1 1-0.1 1 0 1-0.2 1-0.1 1.1-0.1 1 0 1 0 1 0 1-0.1 1 0.2 1-0.2 1 0.2 1-0.2 1 0.3 1 0.2 1.1 0 1-0.1 1-0.1 1 0.4 1 0.1 1 0.1 1-0.1 1-0.2 1-0.2 1-0.2 1.1 0.1 1-0.2 1 0.1 1-0.1-0.5-0.9 0.7-1.6 0.6 4.9 0.6-3.8 0.6 6 0.6-5.2 0.8 2.6 0.8-1.8-2.2 0.2 1 0 1-0.2 1 0.1 1 0.2 1 0 1.1-0.4 1-0.1 1 0 1 0 1 0.1 1 0.1 1-0.1 1-0.1 1 0 1 0.1 1.1 0 1-0.1 1 0 1 0.2 1 0.2 1-0.2-0.5-1.2 0.7-1.6 0.6 4.9 0.6-3.8 0.6 6 0.6-5.2 0.8 2.6 0.8-1.8-2.2 0 1 0 1-0.2 1.1 0.1 1 0.5 1 0.1 1-0.3 1-0.2 1-0.2 1-0.1 1 0 1 0.1 1 0.2 1-0.1 1.1 0.2 1 0.2 1 0 1-0.2 1-0.3 1 0.1 1-0.1 1 0.2 1-0.2 1 0.1 1.1 0.3 1 0.1 1-0.3 1-0.2 1 0 1 0.3 1-0.2 1 0 1-0.2 1 0.2 1 0.1 1.1-0.1 1 0 1 0 1 0.1 1 0.4 1-0.3 1 0.1 1-0.5 1 0.5 1-0.2 1.1 0 1-0.2 1 0.1 1 0.1 1-0.1 1-0.2 1 0 1 0.1 1 0.2 1 0" fill="none" stroke="#ff8c1a" stroke-width="3" stroke-linejoin="round" stroke-linecap="round"/>
<path d="M954.2 867.1l1 0.1 1.1 0.2 1 0.3 1-0.1 1 0 1-0.5 1 0.3 1-0.2 1 0.4 1-0.3 1-0.2 1.1 0.1 1 0 1 0.5 1-0.4 1 0.2 1-0.4 1 0.3 1-0.6 1 0.6 1-0.5 1.1 0.3 1-0.2 1 0.8 1 0 1-0.2 1-0.3 1-0.2 1-0.1 1 0.2 1 0.1 1 0 1.1-0.4 1 0.2 1 0 1 0.2 1 0 1 0.4 1-0.1 1 0.3 1-0.4 1 0.2 1.1-0.4 1 0.1 1 0 1 0.1 1-0.1 1-0.4 1-0.2 1-0.3 1 0.5 1-0.1 1 0 1.1 0 1 0.4 1 0.1 1 0 1-0.3 1-0.1 1 0 1 0.5 1 0 1 0.2 1.1-0.3 1 0 1-0.3 1-0.1 1 0.2 1 0.2 1 0.4 1-0.2 1-0.3 1-0.3 1.1 0.2 1 0.2 1 0.1 1-0.2 1-0.2 1-0.1 1 0.1 1 0.3 1 0 1 0.1 1 0.1 1.1-0.2 1-0.1 1-0.2 1 0.3 1 0.1 1 0.2 1 0.1 1-0.3 1 0.1 1-0.1 1.1 0.2 1-0.1 1-0.1 1-0.1 1 0.2 1 0 1-0.3 1 10.9 1-32.7 1-27.1 1-5.3 1.1 4 1 3.5 1 2.8 1 2.5 1 2.2 1 1.3 1-1 1-3 1-3.8 1-3.2 1.1-2.8 1-2.6 1-2.9 1-2.6 1-2.9 1-3.3 1-3 1-3.2 1-2.4 1-2.7 1-2.3 1.1-2.7 1-2.7 1-2.7 1-2.4 1-2.1 1-2.3 1-2.2 1-2.2 1-1.9 1-1.9 1.1-1.8 1-1.8 1-2.2 1-2 1-2 1-1.5 1-1.4 1-1.6 1-1.6 1-1.4 1.1-1.3 1-1.3 1-1.1 1-1.2 1-0.8 1-1.1 1-0.9 1-1 1-0.9 1-1 1-0.8 1.1-0.8 1-0.9 1-0.9 1-0.5 1-0.8 1-0.7 1-1 1-0.6 1-0.7 1-1.2 1.1-0.8 1-0.7 1-0.5 1-1.1 1-0.7 1-1 1-0.5 1-0.7 1-0.4 1-0.7 1-0.8 1.1-0.5 1-0.5 1-0.4 1-0.6 1-0.6 1-0.6 1-0.4 1-0.3 1-0.2 1-0.6 1.1-0.4 1-0.6 1-0.2 1-0.6 1-0.5 1-0.6 1-0.4 1-0.5 1-0.5 1-0.5 1.1-0.3 1-0.5 1-0.2 1-0.3 1 0 1-0.3 1-0.3 1-0.3 1-0.3 1-0.2 1-0.6 1.1-0.4 1-0.3 1 0 1-0.3 1-0.5 1-0.5 1-0.3 1-0.4 1-0.3 1-0.2 1.1-0.2 1-0.2 1-0.4 1-0.3 1-0.1 1-0.2 1-0.1 1-0.8 1-0.3 1-0.5 1 0.2 1.1 0 1-0.3 1-0.6 1-0.3 1-0.1 1-0.4 1-0.3 1-0.2 1-0.1 1-0.2 1.1-0.4 1-0.4 1-0.2 1-0.4 1-0.4 1-0.6 1-0.2 1-0.3 1-0.1 1-0.6 1-0.4 1.1-0.5 1 0 1-0.7 1-0.4 1-0.5 1 0 1-0.4 1-0.2 1-0.4 1-0.1 1.1-0.5 1-0.3 1-0.2 1-0.2 1-0.1 1-0.5 1 0 1-0.4 1 0 1-0.1 1.1 0.2 1 0 1 0 1-0.2 1-0.1 1 0 1-0.2 1 0.1 1 0.1 1 0 1 0 1.1-0.2 1 0.2 1-0.3 1 0.1 1 0 1 0 1 0 1 0.1 1 0.2 1 0 1.1 0 1 0 1-0.2 1 0 1 0 1 0.1 1 0 1-0.3 1-0.2 1 0.3 1 0.3 1.1 0.1 1 0.1 1-0.2 1 0 1-0.2 1 0 1 0.1 1 0 1-6.5 1.5 38.1 1-12.9 0.9-7.8 0.9-4.7 1-2.8 0.9-1.8 0.9-2.8 1-0.1 1 0.2 1-0.1 1 0.1 1.1 0 1 0 1-0.1 1-0.1 1-0.1 1 0.1 1 0.2 1 0.2 1-0.1 1 0 1-0.1 1.1 0.2 1-0.1 1 0.1 1 0 1-0.1 1-0.1 1 0 1 0 1 0.2 1-0.1 1.1 0.4 1-0.3 1 0.2 1-0.3 1-0.1 1-0.5 1 0 1 0.2 1 0.3 1 0.1 1-0.2 1.1 0 1-0.1 1 0 1 0.2 1-0.1 1 0.2 1-0.2 1 0 1 0.2 1 0 1.1-0.2 1-0.3 1-0.1 1 0.2 1 0.1 1 0.1 1 0 1 0 1 0.2 1-0.3 1 0.1 1.1-0.1 1 0.4 1 0 1 0 1-0.1 1-0.1 1 0 1 0.2 1 0.1 1 0 1.1 0 1-0.1-0.5-1.8 0.7-3 0.6 9.1 0.6-7.1 0.6 11.1 0.6-9.6 0.8 4.7 0.8-3.2-2.2-0.1 1 0 1-0.2 1-0.3 1-0.1 1-0.1 1 0.2 1.1 0.1 1 0.1 1-0.1 1 0 1 0 1 0.2 1 0 1-0.1 1 0.2 1 0.1 1 0.2 1.1-0.3 1-0.3 1-0.1 1-0.1 1 0.1 1 0.1 1 0.1 1 0 1 0.2 1 0.2 1.1 0.1 1-0.2 1-0.3 1-0.4-0.5-1 0.7-1.6 0.6 4.8 0.6-3.8 0.6 6 0.6-5.2 0.8 2.6 0.8-1.8-2.2 0.1 1 0.1 1 0.1 1 0.1 1 0.1 1-0.1 1.1 0.2 1 0.2 1 0 1-0.3 1-0.2 1 0.2 1 0 1 0.1 1-0.3 1 0 1.1-0.2 1 0.3 1 0 1 0.1 1-0.5 1 0.2-0.5-1.1 0.7-1.6 0.6 4.8 0.6-3.8 0.6 6 0.6-5.2 0.8 2.6 0.8-1.8-2.2 0.3 1 0 1 0 1.1 0 1 0.1 1 0 1-0.2 1-0.4 1 0 1 0.2 1 0.5 1 0 1 0 1-0.3 1.1-0.1 1 0.1 1-0.1 1 0 1 0.2 1 0.2 1-0.1 1-0.1 1 0.1 1-0.2 1.1 0.3 1 0 1 0.3 1-0.3 1-0.2 1 0 1 0.1 1 0.4 1-0.3 1 0.1 1-0.4 1.1 0.3 1 0 1 0 1-0.2 1-0.1 1 0.1 1-0.1 1 0 1-0.1 1 0 1.1 0 1 0.1 1 0.3 1 0.5 1 0.1 1-0.3 1-0.4 1 0.2 1 0.1 1 0" fill="none" stroke="#b31aff" stroke-width="3" stroke-linejoin="round" stroke-linecap="round"/>
<path d="M954.2 865.6l1-0.1 1.1-0.1 1 0 1 0 1-0.2 1-0.1 1 0.1 1 0.4 1 0.3 1-0.3 1-0.4 1.1-0.2 1 0.4 1 0.3 1-0.2 1-0.2 1 0.1 1 0.1 1 0 1 0.1 1 0.1 1.1 0.1 1-0.1 1 0.1 1 0 1 0.2 1-0.3 1-0.2 1 0.1 1-0.1 1-0.4 1 0 1.1 0.2 1 0.9 1-0.2 1-0.1 1-0.5 1 0.1 1-0.1 1 0.3 1 0 1 0.1 1.1 0.2 1 0.1 1 0.3 1-0.5 1-0.1 1-0.3 1 0.1 1 0.2 1 0 1 0.1 1 0 1.1 0.1 1-0.3 1-0.4 1 0 1 0.3 1 0.6 1 0 1 0.2 1-0.1 1-0.2 1.1 0 1-0.4 1 0.1 1-0.5 1 0.1 1 0.1 1 0.3 1 0.3 1-0.1 1-0.1 1.1 0 1-0.3 1-0.3 1-0.4 1 0.2 1 0.3 1 0.1 1 0 1-0.1 1-0.1 1-0.1 1.1 0.2 1 0.5 1 0.2 1-0.1 1-0.3 1-0.3 1-0.1 1 0 1 0.5 1 0.2 1.1-0.2 1-0.3 1 0.1 1 0.2 1 0.2 1-0.2 0.5 0.4 1 33.7 1-43.5 1-65.2 1-8.7 0.5 0.2 1.1 5.3 1 4.8 1 4.1 1 4.3 1 4.5 1 3.3 1 1.5 1-0.5 1-1 1-1.5 1.1-2.2 1-3.4 1-4.1 1-4 1-3.6 1-3.8 1-3.5 1-3.5 1-3.4 1-3.4 1-2.9 1.1-2.9 1-2.8 1-3.1 1-2.6 1-2.8 1-2.8 1-2.7 1-2.3 1-2.2 1-2.7 1.1-2.4 1-2.4 1-2.1 1-2.1 1-2.1 1-1.8 1-2 1-1.8 1-2.1 1-1.5 1.1-1.4 1-1 1-1.4 1-1.1 1-1.3 1-0.9 1-1.3 1-0.8 1-0.8 1-0.7 1-0.9 1.1-1 1-0.8 1-0.9 1-0.9 1-0.9 1-0.6 1-0.8 1-0.4 1-0.9 1-0.2 1.1-0.7 1-0.7 1-1.2 1-0.7 1-0.5 1-0.6 1-0.9 1-0.5 1-0.5 1-0.4 1-0.8 1.1-0.4 1-0.5 1-0.5 1-0.7 1-0.6 1-0.6 1-0.5 1-0.6 1-0.2 1-0.8 1.1-0.1 1-0.8 1-0.1 1-0.7 1-0.3 1-0.6 1-0.4 1-0.2 1-0.5 1-0.3 1.1-0.6 1-0.5 1-0.5 1-0.7 1-0.5 1-0.3 1 0 1-0.3 1-0.4 1-0.3 1-0.6 1.1-0.4 1-0.3 1-0.1 1-0.4 1-0.5 1-0.4 1-0.1 1-0.2 1-0.4 1-0.4 1.1-0.3 1-0.3 1 0 1-0.5 1-0.4 1-0.8 1-0.1 1 0 1-0.1 1-0.7 1-0.4 1.1-0.6 1-0.3 1-0.3 1 0 1-0.2 1-0.1 1-0.3 1-0.5 1-0.4 1-0.3 1.1-0.2 1-0.1 1-0.7 1-0.1 1-0.3 1-0.1 1-0.2 1-0.4 1-0.2 1-0.7 1-0.3 1.1-0.5 1-0.4 1-0.3 1-0.1 1-0.5 1-0.3 1-0.4 1-0.2 1-0.6 1-0.4 1.1 0 1-0.4 1-0.4 1-0.4 1 0 1-0.3 1-0.3 1-0.2 1-0.1 1 0 1.1 0.2 1-0.3 1 0.2 1-0.4 1 0.1 1-0.2 1-0.2 1-0.3 1 0 1 0 1 0.1 1.1-0.2 1 0.1 1 0 1 0.2 1-0.1 1-0.1 1 0 1-0.1 1 0.1 1-0.1 1.1 0.3 1 0.1 1-0.2 1-0.2 1-0.3 1 0.2 1 0.1 1 0.1 1 0 1-0.2 1-0.1 1.1-0.2 1 0 1 0.3 1-0.1 1 0 1-0.1 1 0.1 1 0 1-12 1.5 60.9 1-18.8 0.9-11.5 0.9-6.9 1-4.2 0.9-2.5 0.9-3.9 1 0.2 1 0.1 1-0.1 1 0 1.1-0.1 1-0.2 1-0.2 1 0 1 0 1 0.1 1 0.2 1 0.1 1 0 1-0.3 1 0.2 1.1-0.2 1 0.4 1-0.2 1 0.1 1 0 1 0 1-0.2 1-0.1 1-0.2 1 0.3 1.1 0 1 0 1 0.1 1 0.1 1 0 1-0.1 1-0.3 1 0.2 1 0 1 0 1-0.2 1.1 0 1 0.2 1 0 1 0.2 1 0 1-0.1 1 0.1 1-0.1 1 0.1 1-0.2 1.1 0.2 1-0.2 1-0.1 1-0.2 1 0.2 1 0.2 1 0.1 1-0.1 1 0 1-0.2 1 0 1.1 0.1 1-0.1 1-0.2 1 0.2 1 0.2 1 0.1 1-0.2 1 0 1 0.1 1-0.2 1.1-0.1 1 0-0.5-1.9 0.7-3 0.6 9 0.6-7 0.6 11.1 0.6-9.6 0.8 4.7 0.8-3.2-2.2 0 1-0.1 1 0.2 1-0.1 1 0.2 1-0.3 1 0 1.1-0.4 1 0.3 1 0.2 1 0.2 1 0.1 1 0 1 0.1 1-0.1 1 0 1-0.2 1 0 1.1-0.1 1 0 1 0 1-0.1 1 0.1 1 0.2 1-0.1 1-0.1 1-0.2 1 0.1 1.1 0.1 1 0 1 0.4 1-0.2-0.5-1 0.7-1.6 0.6 4.9 0.6-3.8 0.6 6 0.6-5.2 0.8 2.5 0.8-1.7-2.2-0.2 1 0.3 1-0.1 1 0.2 1-0.2 1 0 1.1-0.2 1 0.1 1-0.1 1 0 1 0 1 0.4 1 0 1 0 1 0.1 1 0 1.1-0.2 1-0.4 1-0.1 1 0.1 1 0.2 1 0.1-0.5-1.3 0.7-1.6 0.6 4.8 0.6-3.8 0.6 6 0.6-5.2 0.8 2.6 0.8-1.8-2.2-0.1 1 0.1 1 0.3 1.1-0.1 1-0.2 1-0.1 1 0.3 1 0.1 1-0.1 1-0.1 1-0.2 1-0.1 1 0 1 0.2 1.1-0.1 1-0.1 1-0.2 1 0.4 1-0.1 1 0.2 1-0.2 1-0.1 1 0.1 1 0.1 1.1-0.2 1 0.3 1 0 1 0.2 1-0.6 1 0 1 0.4 1 0.1 1 0 1-0.4 1 0 1.1 0 1 0 1 0.2 1 0.2 1 0.1 1 0 1 0 1-0.1 1-0.2 1-0.1 1.1 0.3 1 0.4 1-0.1 1 0 1-0.1 1 0 1-0.2 1 0 1-0.1 1 0.1" fill="none" stroke="#19c819" stroke-width="3" stroke-linejoin="round" stroke-linecap="round"/>
<path d="M954.2 867l1 0.1 1.1 0.2 1-0.1 1-0.4 1 0.3 1 0.5 1 0.3 1-0.3 1-0.4 1 0 1 0.2 1.1-0.1 1-0.1 1-0.2 1 0.2 1 0 1-0.1 1-0.2 1 0.4 1 0.1 1 0.2 1.1-0.2 1 0 1-0.5 1-0.3 1-0.1 1 0.2 1 0.3 1 0.2 1 0.6 1 0 1-0.3 1.1-0.5 1 0.3 1 0.3 1 0.2 1-0.2 1-0.1 1-0.3 1 0.2 1 0 1-0.1 1.1 0 1 0 1 0.1 1-0.2 1 0 1 0 1 0.2 1 0.1 1 0.4 1 0 1-0.1 1.1-0.4 1-0.4 1 0.2 1 0 1 0.1 1-0.1 1 0 1-0.3 1 0 1-0.1 1.1 0.6 1-0.2 1 0 1 0 1-0.1 1-0.1 1-0.1 1 0.1 1 0.3 1-0.3 1.1 0 1-0.1 1 0.2 1 0.2 1 0.2 1 0.4 1-0.3 1 0 1-0.2 1 0.1 1-0.3 1.1 0 1 0.2 1 0.2 1 0 1-0.4 1 0.1 1 0 1 0.3 1-0.2 1-0.2 1.1 0.1 1 0.2 1 0 1-0.2 1 0.4 1 0 0.5-0.4 1 23.9 1-34.8 1-65.2 1-10.9 0.5 4.4 1.1 8.7 1 6.1 1 2.7 1-0.3 1-0.9 1-1.4 1-2.9 1-4.8 1-5.9 1-5.9 1.1-6.2 1-6.9 1-4.9 1-3.7 1-3.5 1-3.6 1-3.2 1-2.9 1-2.8 1-2.7 1-2.8 1.1-2.6 1-2.6 1-2.4 1-2.4 1-2.2 1-2 1-2.3 1-2.3 1-2.5 1-1.9 1.1-2.2 1-2 1-2.3 1-1.9 1-2.1 1-2 1-2 1-2 1-1.8 1-1.7 1.1-1.4 1-1.4 1-1.4 1-1.4 1-1.3 1-1.2 1-1.2 1-0.9 1-1.1 1-0.9 1-1 1.1-1 1-0.7 1-1.3 1-1.1 1-1.4 1-0.7 1-0.8 1-0.6 1-1.1 1-0.8 1.1-1 1-0.6 1-0.9 1-0.5 1-0.8 1-0.7 1-0.5 1-0.9 1-0.7 1-0.8 1-0.4 1.1-0.6 1-0.9 1-0.8 1-0.7 1-0.4 1-0.6 1-0.6 1-0.4 1-0.7 1-0.5 1.1-0.7 1-0.4 1-0.4 1-0.2 1-0.7 1-0.6 1-0.5 1-0.3 1-0.2 1-0.3 1.1-0.5 1-0.4 1-0.7 1-0.6 1-0.9 1-0.5 1-0.2 1-0.2 1-0.2 1-0.6 1-0.3 1.1-0.8 1-0.2 1-0.4 1-0.3 1-0.5 1-0.6 1-0.2 1-0.3 1-0.3 1-0.4 1.1-0.4 1 0 1-0.2 1-0.4 1-0.6 1-0.5 1-0.3 1-0.5 1-0.5 1-0.5 1-0.3 1.1-0.1 1-0.2 1-0.2 1-0.9 1-0.5 1-0.4 1 0.1 1-0.3 1-0.2 1-0.5 1.1-0.4 1-0.4 1-0.2 1-0.4 1-0.3 1-0.2 1-0.5 1-0.5 1-0.6 1-0.4 1-0.3 1.1 0 1-0.3 1-0.3 1-0.6 1-0.4 1-0.6 1-0.2 1-0.5 1 0 1-0.4 1.1-0.2 1-0.4 1-0.4 1-0.4 1-0.3 1-0.3 1-0.2 1-0.1 1-0.4 1-0.3 1.1-0.1 1 0.3 1 0 1-0.3 1-0.2 1 0.3 1 0.1 1 0 1-0.3 1-0.2 1 0.1 1.1 0.1 1 0.2 1-0.1 1-0.2 1-0.3 1 0 1-0.2 1-0.1 1-0.1 1 0.2 1.1 0.2 1-0.1 1-0.2 1 0.1 1-0.1 1 0.3 1-0.3 1 0.1 1-0.1 1 0 1 0.3 1.1-0.2 1 0 1-0.2 1-0.1 1-0.1 1 0 1-0.1 1 0.1 0.5-23.7 1.5 10.9 1.6 59.8 0.7-18.4 0.8-11.1 0.7-6.8 0.8-4.1 0.7-2.5 0.8-3.8 1 0 1 0 1 0 1 0.1 1.1-0.1 1 0 1 0 1 0.1 1 0.2 1 0 1 0 1-0.1 1 0 1-0.2 1 0 1.1-0.3 1 0 1-0.2 1 0.4 1 0.4 1 0.1 1 0 1-0.4 1 0.2 1-0.2 1.1 0.2 1-0.4 1 0.3 1-0.2 1 0.1 1-0.1 1 0 1-0.1 1 0 1 0.2 1 0.4 1.1 0 1 0.1 1-0.3 1-0.1 1-0.1 1 0.1 1-0.1 1-0.1 1-0.3 1 0 1.1 0.2 1 0.3 1 0.1 1-0.1 1-0.1 1 0 1-0.2 1 0 1 0.1 1 0.3 1 0.3 1.1-0.1 1-0.4 1 0 1-0.2 1 0.5 1-0.1 1 0.2 1-0.4 1 0 1-0.2 1.1 0 1-0.2-0.5-2.3 0.7-3.6 0.6 10.8 0.6-8.4 0.6 13.3 0.6-11.5 0.8 5.7 0.8-3.9-2.2 0 1 0.1 1-0.1 1 0.1 1 0.1 1 0.5 1 0.1 1.1 0 1-0.5 1-0.5 1 0 1 0.2 1 0.5 1-0.2 1 0.1 1 0 1 0.2 1 0 1.1-0.4 1-0.1 1-0.1 1 0.1 1 0.2 1-0.2 1 0 1 0.1 1 0.2 1 0.1 1.1 0.1 1-0.2 1 0.1 1-0.2-0.5-1 0.7-2 0.6 5.9 0.6-4.6 0.6 7.2 0.6-6.2 0.8 3 0.8-2.1-2.2 0 1-0.1 1-0.2 1-0.1 1-0.1 1 0 1.1 0.2 1 0.1 1 0.2 1-0.1 1 0 1-0.1 1 0.1 1 0 1 0.3 1 0 1.1-0.4 1 0 1-0.1 1 0.2 1-0.3 1 0-0.5-1.1 0.7-2 0.6 5.9 0.6-4.6 0.6 7.2 0.6-6.2 0.8 3 0.8-2.1-2.2-0.2 1-0.1 1-0.2 1.1 0.2 1 0.2 1 0.1 1 0 1-0.2 1 0.1 1 0.3 1-0.1 1 0 1-0.3 1 0.3 1.1-0.1 1 0.3 1-0.3 1 0 1-0.2 1 0 1 0 1 0.3 1 0.1 1 0 1.1-0.2 1 0.1 1-0.1 1 0.1 1-0.1 1 0.1 1-0.1 1 0.1 1 0.1 1 0.1 1-0.1 1.1-0.2 1 0 1 0.1 1 0 1 0.2 1 0.1 1-0.1 1-0.5 1-0.3 1 0.2 1.1 0.1 1 0.2 1 0 1-0.1 1-0.1 1 0 1 0.1 1 0.2 1-0.1 1 0" fill="none" stroke="#ff1a1a" stroke-width="3" stroke-linejoin="round" stroke-linecap="round"/>
<line x1="954.5" y1="594.9" x2="954.5" y2="923.7" stroke="#1c1c1c" stroke-width="4.2"/>
<line x1="952.5" y1="921.7" x2="1459.5" y2="921.7" stroke="#1c1c1c" stroke-width="4.2"/>
<line x1="944" y1="867.3" x2="954.5" y2="867.3" stroke="#1c1c1c" stroke-width="3.6"/>
<text x="927.6" y="877.7" font-size="23.5" font-weight="bold" textLength="14.4" lengthAdjust="spacingAndGlyphs">0</text>
<line x1="944" y1="758.5" x2="954.5" y2="758.5" stroke="#1c1c1c" stroke-width="3.6"/>
<text x="898.7" y="768.9" font-size="23.5" font-weight="bold" textLength="43.1" lengthAdjust="spacingAndGlyphs">100</text>
<line x1="944" y1="649.8" x2="954.5" y2="649.8" stroke="#1c1c1c" stroke-width="3.6"/>
<text x="898.7" y="660.2" font-size="23.5" font-weight="bold" textLength="43.1" lengthAdjust="spacingAndGlyphs">200</text>
<line x1="944" y1="595.4" x2="954.5" y2="595.4" stroke="#1c1c1c" stroke-width="3.6"/>
<text x="898.7" y="605.8" font-size="23.5" font-weight="bold" textLength="43.1" lengthAdjust="spacingAndGlyphs">250</text>
<line x1="954.2" y1="921.7" x2="954.2" y2="931.9" stroke="#1c1c1c" stroke-width="3.6"/>
<text x="960.8" y="944.9" font-size="24" font-weight="bold" text-anchor="end" textLength="50.9" lengthAdjust="spacingAndGlyphs" transform="rotate(-45 960.8 944.9)">-100</text>
<line x1="1055.2" y1="921.7" x2="1055.2" y2="931.9" stroke="#1c1c1c" stroke-width="3.6"/>
<text x="1061.8" y="944.9" font-size="24" font-weight="bold" text-anchor="end" textLength="14.1" lengthAdjust="spacingAndGlyphs" transform="rotate(-45 1061.8 944.9)">0</text>
<line x1="1156.2" y1="921.7" x2="1156.2" y2="931.9" stroke="#1c1c1c" stroke-width="3.6"/>
<text x="1162.8" y="944.9" font-size="24" font-weight="bold" text-anchor="end" textLength="42.4" lengthAdjust="spacingAndGlyphs" transform="rotate(-45 1162.8 944.9)">100</text>
<line x1="1257.1" y1="921.7" x2="1257.1" y2="931.9" stroke="#1c1c1c" stroke-width="3.6"/>
<text x="1263.7" y="944.9" font-size="24" font-weight="bold" text-anchor="end" textLength="42.4" lengthAdjust="spacingAndGlyphs" transform="rotate(-45 1263.7 944.9)">200</text>
<line x1="1358.1" y1="921.7" x2="1358.1" y2="931.9" stroke="#1c1c1c" stroke-width="3.6"/>
<text x="1364.7" y="944.9" font-size="24" font-weight="bold" text-anchor="end" textLength="42.4" lengthAdjust="spacingAndGlyphs" transform="rotate(-45 1364.7 944.9)">300</text>
<line x1="1459" y1="921.7" x2="1459" y2="931.9" stroke="#1c1c1c" stroke-width="3.6"/>
<text x="1465.6" y="944.9" font-size="24" font-weight="bold" text-anchor="end" textLength="42.4" lengthAdjust="spacingAndGlyphs" transform="rotate(-45 1465.6 944.9)">400</text>
<text x="882.6" y="846.2" font-size="26.3" font-weight="bold" textLength="179.4" lengthAdjust="spacingAndGlyphs" transform="rotate(-90 882.6 846.2)">Responce (RU)</text>
<text x="1157.8" y="1019.2" font-size="24.4" font-weight="bold" textLength="98.2" lengthAdjust="spacingAndGlyphs">Time (s)</text>
<line x1="1520" y1="614.1" x2="1550" y2="614.1" stroke="#ff1a1a" stroke-width="4" stroke-linecap="round" opacity="0.85"/>
<text x="1565" y="620.6" font-size="18.9" fill="#333" textLength="61.4" lengthAdjust="spacingAndGlyphs" stroke="#333" stroke-width="0.45">50 µM</text>
<line x1="1520" y1="644.5" x2="1550" y2="644.5" stroke="#19c819" stroke-width="4" stroke-linecap="round" opacity="0.85"/>
<text x="1565" y="651" font-size="18.9" fill="#333" textLength="61.4" lengthAdjust="spacingAndGlyphs" stroke="#333" stroke-width="0.45">35 µM</text>
<line x1="1520" y1="674.9" x2="1550" y2="674.9" stroke="#b31aff" stroke-width="4" stroke-linecap="round" opacity="0.85"/>
<text x="1565" y="681.4" font-size="18.9" fill="#333" textLength="61.4" lengthAdjust="spacingAndGlyphs" stroke="#333" stroke-width="0.45">25 µM</text>
<line x1="1520" y1="705.3" x2="1550" y2="705.3" stroke="#ff8c1a" stroke-width="4" stroke-linecap="round" opacity="0.85"/>
<text x="1565" y="711.8" font-size="19.1" fill="#333" textLength="61.4" lengthAdjust="spacingAndGlyphs" stroke="#333" stroke-width="0.45">15 µM</text>
<line x1="1520" y1="735.7" x2="1550" y2="735.7" stroke="#111111" stroke-width="4" stroke-linecap="round" opacity="0.85"/>
<text x="1565" y="742.2" font-size="19.1" fill="#333" textLength="48.6" lengthAdjust="spacingAndGlyphs" stroke="#333" stroke-width="0.45">5 µM</text>
<rect x="1479.9" y="776.4" width="145.6" height="119.3" fill="none" stroke="#3a3a3a" stroke-width="3" rx="2.5"/>
<text x="1489.8" y="810" font-size="25.5" font-weight="bold" textLength="18.4" lengthAdjust="spacingAndGlyphs">K</text>
<text x="1510.1" y="817.8" font-size="19.5" font-weight="bold" textLength="15" lengthAdjust="spacingAndGlyphs">D</text>
<text x="1529.8" y="808.8" font-size="26" font-weight="bold" textLength="16.3" lengthAdjust="spacingAndGlyphs">=</text>
<text x="1554.1" y="810.4" font-size="26.5" font-weight="bold" textLength="15.9" lengthAdjust="spacingAndGlyphs">9</text>
<text x="1574.6" y="811.5" font-size="21.5" fill="#555" textLength="14.4" lengthAdjust="spacingAndGlyphs">µ</text>
<text x="1592" y="810" font-size="25.5" font-weight="bold" textLength="22.1" lengthAdjust="spacingAndGlyphs">M</text>
<text x="1489.8" y="878.8" font-size="25.7" font-weight="bold" textLength="39.4" lengthAdjust="spacingAndGlyphs">RU</text>
<text x="1531.1" y="869.6" font-size="20.1" font-weight="bold" textLength="10.9" lengthAdjust="spacingAndGlyphs">2</text>
<text x="1547.3" y="878.2" font-size="26" font-weight="bold" textLength="15.2" lengthAdjust="spacingAndGlyphs">=</text>
<text x="1570.3" y="879.5" font-size="26.7" font-weight="bold" textLength="15.9" lengthAdjust="spacingAndGlyphs">4</text>
<text x="67.4" y="1101.7" font-size="68" font-weight="bold" textLength="44" lengthAdjust="spacingAndGlyphs">E</text>
<text x="308.4" y="1109.2" font-size="30.7" font-weight="bold" textLength="76.5" lengthAdjust="spacingAndGlyphs">FP14</text>
<line x1="195.2" y1="1118.9" x2="195.2" y2="1442.4" stroke="#000" stroke-width="2.6" stroke-dasharray="2.8 4.95"/>
<line x1="498.2" y1="1118.9" x2="498.2" y2="1442.4" stroke="#000" stroke-width="2.6" stroke-dasharray="2.8 4.95"/>
<line x1="197.2" y1="1378.3" x2="599.2" y2="1378.3" stroke="#a8a8a8" stroke-width="2.2"/>
<path d="M94.2 1378.4l1-0.2 1-0.2 1 0.2 1 0.4 1 0 1.1-0.1 1 0 1 0.2 1-0.1 1 0 1 0 1-0.1 1 0.1 1-0.2 1.1 0 1-0.3 1-0.2 1 0 1 0.2 1 0.2 1 0.3 1-0.1 1-0.1 1-0.4 1 0.3 1.1 0.1 1 0.2 1-0.8 1-0.2 1 0.1 1 0.6 1 0.6 1-0.2 1-0.1 1-0.4 1.1 0 1 0.3 1 0.3 1 0.3 1-0.4 1-0.1 1-0.2 1 0.1 1-0.5 1-0.2 1.1-0.2 1-0.1 1 0.4 1 0.1 1 0.5 1-0.8 1 0.1 1 0.2 1 0.4 1.1 0 1-0.4 1 0.1 1 0.1 1 0.3 1 0.4 1 0 1 0 1-0.5 1-0.1 1-0.2 1.1 0.1 1 0.3 1-0.1 1-0.2 1-0.5 1 0.1 1 0.2 1 0.3 1 0.2 1.1-0.2 1-0.1 1-0.1 1 0.2 1 0.2 1-0.1 1-0.3 1-0.1 1-0.1 1 0.2 1 0 1.1 0.1 1 0 1 0.2 1 0.3 1-0.5 1 0.2 1-0.2 1 0.5 1-0.8 1 0.3 1.1-0.1 1 0.7 1 0 1-0.1 1-0.3 1-0.1 1 5.2 1-9.1 3.1 0 1 0.8 1 0.5 1-0.3 1-0.2 1 0 1-0.1 1 0.1 1-0.3 1.1-0.3 1-0.1 1 0.1 1 0.3 1-0.1 1 0.1 1-0.2 1-0.1 1-0.3 1-0.1 1 0 1.1 0 1 0 1-0.2 1-0.1 1-0.1 1-0.2 1 0.1 1-0.2 1 0.3 1.1 0.1 1 0.1 1 0.1 1 0.1 1-0.5 1-0.5 1 0.1 1 0.3 1 0.3 1-0.2 1 0 1.1 0 1-0.1 1 0 1-0.1 1 0 1 0 1-0.1 1-0.2 1-0.1 1.1 0 1 0.4 1 0.1 1 0 1-0.2 1 0 1 0.2 1-0.1 1 0.2 1-0.3 1 0 1.1-0.2 1 0 1 0 1-0.1 1-0.2 1-0.1 1 0 1 0.3 1 0.1 1.1 0 1-0.1 1 0 1-0.2 1-0.4 1-0.1 1 0.1 1 0.5 1 0 1 0 1-0.5 1.1 0.1 1-0.1 1 0 1-0.3 1-0.2 1 0.2 1-0.1 1 0.3 1-0.2 1.1 0 1-0.2 1 0 1 0.1 1 0.1 1 0 1-0.2 1 0 1-0.1 1 0.1 1 0 1.1-0.3 1-0.3 1-0.2 1 0.1 1 0.1 1 0.1 1-0.1 1-0.3 1-0.2 1.1-0.1 1-0.1 1-0.1 1-0.2 1 0.2 1-0.2 1 0.4 1-0.1 1 0.1 1-0.1 1-0.1 1.1 0 1 0 1 0.1 1-0.3 1-0.7 1-0.4 1-0.2 1 0.2 1 0.3 1 0 1.1-0.2 1 0.1 1-0.1 1-0.2 1 0 1-0.1 1 0.3 1-0.7 1 0 1-0.3 1.1 0.1 1 0 1 0 1-0.1 1-0.2 1 0 1 0.2 1 0.1 1-0.4 1.1 0 1-0.1 1 0.2 1-0.3 1-0.4 1-0.1 1-0.3 1 0.3 1-0.2 1 0.3 1-0.3 1.1-0.3 1-0.1 1 0.2 1 0.4 1-0.1 1-0.1 1-0.4 1-0.1 1 0 1.1 0.5 1-0.2 1 0 1-0.4 1-0.3 1 0.1 1 0.1 1 0.2 1-0.3 1-0.1 1 0.3 1.1 0 1 0.1 1-0.4 1-0.2 1-0.1 1-0.2 1 0 1-0.1 1-0.1 1.1 0.4 1-0.1 1 0 1-0.2 1-0.1 1-0.1 1 0.2 1-0.4 1 0.3 1-0.1 1 0.4 1.1 0 1-0.3 1-0.1 1-0.2 1 0.1 1-0.2 1-0.2 1 0 1 0.2 1.1 0.2 1 0 1 0 1-0.4 1 0.3 1-0.3 1 0.3 1-0.1 1 0.3 1-0.1 1-0.2 1.1 0 1-0.2 1-0.2 1-0.2 1-0.1 1-0.1 1 0 1 0 1 0.1 1.1 0 1-0.3 1 0.2 1 0.2 1 0.4 1 0 1 0 1-0.3 1 0.2 1-0.2 1 0.2 1.1-0.1 1-0.3 1 0.1 1-0.3 1 0.3 1-0.1 1 0.4 1-0.2 1 0.1 1.1 0 1-0.1 1 0.1 1-0.6 1 0.2 1-0.3 1 0.1 1-0.1 1 0.3 1-0.2 1-0.2 1.1-0.4 1 0 1 0.3 1 0 1 0.1 1-0.5 1 0.4 1 0.2 1 0.1 1.1-0.1 1 0.2 1 0 1-0.3 1 0 1 0.2 1 0.5 1 0.1 1-0.2 1-0.5 1 0 1.1 0 1 0.1 1-0.4 1-0.4 1 0.2 1 0.2 1 0.4 1-0.2 1-0.2 1.1 0.2 1-0.1 1 0.1 1-0.1 1-0.1 1 0 1 1.5 2 26 2-22.1 0.2-2.1 0.2-1.2 0.2-0.8 0.1-0.4 0.2-0.3 0.2-0.5 1-0.1 1 0.1 1 0.2 1-0.2 1-0.3 1-0.2 1 0 1 0 1 0.1 1.1 0.2 1 0 1 0.1 1 0.1 1-0.1 1-0.1 1-0.3 1 0.3 1 0 1 0.1 1.1-0.2 1 0 1 0.1 1 0.5 1 0.1 1-0.1 1-0.4 1 0 1-0.1 1.1 0.3 1-0.3 1 0.4 1-0.3 1 0.2 1-0.3 1 0.2 1-0.2 1 0 1-0.4 1-0.3 1.1 0 1 0.1 1 0 1 0 1 0.1 1 0.2 1 0 1 0 1 0.2 1.1-0.1 1 0.1 1-0.3 1 0 1-0.1 1 0.1 1 0 1 0 1-0.1 1 0.1 1-0.3 1.1-0.1 1-0.2 1 0.1 1 0.3 1-0.1 1 0.1 1-0.3 1 0.3 1-0.3 1.1 0.3 1-0.2 1 0.2 1 0 1 0.3 1-0.1 1-0.2 1-0.4 1-0.2 1 0 1 0.2 1.1 0 1 0.2 1-0.2 1 0.3 1-0.2 1-0.1 1-0.3 1 0.2 1 0.2 1.1-0.1 1-0.4 1 0 1 0.1 1 0.4 1 0" fill="none" stroke="#a0631e" stroke-width="3" stroke-linejoin="round" stroke-linecap="round"/>
<path d="M94.2 1378.2l1-0.2 1 0 1 0.1 1 0.3 1-0.4 1.1 0 1-0.3 1 0.3 1-0.1 1 0 1 0.3 1-0.1 1-0.2 1-0.2 1.1 0.6 1 0.4 1 0.3 1-0.7 1 0 1-0.4 1 0.1 1 0.4 1 0.3 1-0.3 1-0.4 1.1-0.1 1 0.5 1-0.3 1 0.2 1-0.2 1 0.7 1-0.1 1 0.3 1-0.3 1-0.1 1.1-0.2 1-0.2 1 0.1 1-0.2 1-0.2 1 0 1 0.1 1 0.3 1-0.2 1-0.2 1.1 0.3 1 0.1 1-0.1 1-0.5 1-0.2 1 0.9 1 0 1 0.1 1-0.4 1.1 0.4 1-0.1 1-0.1 1 0.2 1 0.1 1 0.1 1-0.1 1-0.1 1 0 1 0 1-0.2 1.1 0.4 1-0.3 1 0.1 1-0.5 1-0.1 1-0.1 1-0.2 1 0.3 1 0.1 1.1 0.2 1-0.2 1 0.1 1 0.3 1 0 1 0.2 1-0.4 1-0.1 1-0.4 1 0.1 1-0.2 1.1 0.3 1 0.3 1 0 1-0.1 1 0.1 1 0.3 1-0.2 1-0.1 1 0.1 1 0.1 1.1-0.3 1-0.3 1 0.2 1-0.2 1 0.1 1 0.4 1 6.5 1-19.5 3.1-0.2 1 1.7 1 0.9 1 0.2 1-0.1 1-0.4 1-0.2 1-0.2 1-0.1 1.1-0.3 1-0.4 1-0.3 1-0.3 1-0.2 1 0 1-0.5 1-0.2 1-0.9 1-0.1 1-0.3 1.1 0 1 0.1 1-0.3 1 0 1-0.4 1 0 1-0.4 1-0.1 1-0.4 1.1-0.2 1-0.2 1-0.3 1-0.1 1-0.3 1 0.1 1-0.6 1-0.1 1-0.2 1-0.2 1-0.1 1.1-0.3 1-0.4 1-0.6 1-0.3 1 0.1 1 0 1-0.3 1-0.5 1-0.3 1.1-0.1 1-0.2 1-0.5 1-0.3 1-0.1 1-0.4 1-0.5 1-0.6 1-0.5 1-0.3 1-0.3 1.1 0 1-0.3 1-0.4 1-0.7 1-0.1 1-0.1 1 0.1 1-0.7 1-0.6 1.1-0.6 1-0.4 1-0.5 1-0.3 1-0.4 1-0.5 1-0.6 1-0.3 1 0.1 1-0.2 1-0.5 1.1-0.6 1 0.1 1-0.4 1-0.6 1-0.8 1-0.1 1 0 1-0.3 1-0.4 1.1-0.5 1 0.1 1-0.6 1-0.3 1-0.5 1 0 1-0.3 1-0.3 1-0.3 1-0.2 1-0.2 1.1-0.5 1-0.6 1-0.3 1-0.4 1-0.1 1-0.4 1-0.4 1-0.4 1-0.2 1.1-0.1 1 0 1-0.1 1-0.4 1-0.8 1-0.5 1-0.6 1-0.4 1-0.6 1 0 1-0.1 1.1-0.2 1-0.3 1 0 1-0.4 1 0 1-0.5 1 0.1 1-0.8 1-0.4 1-0.5 1.1-0.3 1-0.2 1-0.2 1 0 1-0.5 1-0.3 1-0.3 1 0 1-0.1 1-0.4 1.1-0.7 1-0.4 1 0.1 1 0 1-0.5 1-0.1 1-0.1 1 0 1-0.2 1.1-0.2 1-0.1 1-0.3 1-0.4 1-0.3 1-0.5 1-0.1 1-0.5 1 0 1-0.5 1-0.3 1.1-0.4 1-0.1 1-0.5 1-0.5 1-0.3 1-0.1 1 0.1 1-0.3 1-0.2 1.1-0.2 1-0.3 1-0.1 1-0.2 1 0.1 1-0.2 1-0.6 1-0.3 1-0.4 1 0.3 1-0.4 1.1-0.2 1-0.3 1-0.2 1-0.1 1 0 1-0.1 1-0.3 1-0.7 1 0 1.1 0.2 1 0.3 1-0.2 1-0.4 1-0.3 1-0.1 1-0.3 1-0.5 1-0.2 1 0.1 1 0.3 1.1 0 1-0.2 1-0.4 1-0.4 1-0.1 1-0.2 1 0.1 1 0.1 1 0 1.1-0.1 1-0.4 1 0.1 1-0.3 1-0.1 1-0.6 1-0.1 1-0.2 1 0.1 1-0.3 1 0 1.1 0.1 1 0.5 1 0 1-0.4 1-0.7 1-0.2 1 0 1 0 1 0 1.1 0.1 1-0.1 1-0.2 1-0.3 1 0 1 0.2 1 0.3 1 0 1-0.2 1 0.1 1-0.5 1.1-0.2 1-0.3 1 0.3 1 0.3 1 0 1 0.2 1-0.1 1 0.2 1-0.4 1.1-0.2 1-0.1 1 0 1-0.2 1-0.3 1 0.1 1 0.3 1-0.1 1 0 1 0.1 1-0.1 1.1 0.1 1-0.2 1 0.3 1-0.2 1-0.1 1 0 1-0.1 1 0.4 1 0 1.1-0.2 1-0.3 1-0.2 1 0 1 0.2 1 0.5 1 0.1 1 0.1 1-0.4 1 0 1-0.2 1.1 0.2 1-0.2 1 0.2 1-0.1 1-0.1 1 0 1-0.1 1-0.1 1-0.3 1.1 0 1 0.2 1 0.3 1 0 1-0.2 1 0 1-0.7 2 32.5 2-26 0.2-2.6 0.2-1.5 0.2-1 0.1-0.5 0.2-0.4 0.2-0.8 1 0 1-0.3 1 0.2 1 0 1 0.5 1 0 1 0.1 1-0.2 1-0.2 1.1-0.1 1-0.1 1 0.2 1 0.3 1 0 1 0.1 1-0.1 1-0.5 1-0.1 1 0.2 1.1 0.4 1-0.1 1-0.4 1 0.1 1 0.2 1 0.3 1-0.1 1 0 1 0 1.1 0 1 0.2 1 0 1 0.1 1-0.1 1-0.3 1-0.3 1-0.1 1 0.2 1 0.2 1 0 1.1 0.1 1-0.3 1 0.3 1-0.3 1 0.3 1-0.4 1 0 1 0.1 1 0.2 1.1 0.4 1-0.5 1 0.1 1-0.1 1 0.3 1-0.3 1 0 1 0.1 1 0 1 0.2 1-0.2 1.1 0.1 1-0.1 1 0 1 0 1-0.1 1 0 1 0.1 1-0.3 1 0.1 1.1 0 1 0.4 1-0.2-0.5-1.1 0.7-1.1 0.6 3.4 0.6-2.6 0.6 4.1 0.6-3.6 0.8 1.8 0.8-1.2-2.2-0.2 1 0.2 1 0.2 1 0.1 1-0.1 1 0.3 1 0 1.1-0.1 1 0 1 0.1 1 0 1-0.2 1 0.1 1-0.1 1 0.2 1-0.1 1.1 0.2 1-0.4 1-0.2 1-0.1 1 0.3 1 0.2" fill="none" stroke="#111111" stroke-width="3" stroke-linejoin="round" stroke-linecap="round"/>
<path d="M94.2 1378.4l1 0.2 1-0.2 1 0 1-0.1 1 0.5 1.1 0.1 1 0 1-1.1 1 0.2 1 0 1 0.5 1-0.4 1-0.3 1 0 1.1 0.3 1 0.4 1 0.1 1-0.2 1 0.3 1 0.1 1 0.1 1-0.6 1 0 1-0.1 1 0.1 1.1 0 1 0.1 1-0.5 1-0.1 1 0.1 1 0.4 1 0.3 1-0.1 1 0.3 1 0 1.1-0.2 1 0.1 1-0.2 1 0 1-0.3 1 0.1 1-0.1 1 0.3 1 0 1 0.2 1.1 0.1 1 0 1-0.2 1-0.3 1-0.2 1 0 1-0.2 1 0.1 1 0.2 1.1 0.5 1 0.2 1-0.3 1-0.4 1-0.2 1 0.6 1 0.1 1-0.2 1-0.7 1-0.1 1 0.3 1.1 0 1 0.3 1-0.2 1 0.3 1-0.3 1-0.3 1 0.2 1-0.1 1 0.6 1.1 0.1 1 0.4 1-0.3 1-0.6 1-0.4 1 0 1 0 1-0.2 1 0.3 1 0.6 1 0.4 1.1-0.4 1-0.3 1 0 1 0.1 1 0.1 1-0.3 1 0.3 1 0 1 0.1 1 0.2 1.1 0 1 0.1 1-0.5 1 0.1 1 0.1 1-0.1 1 7.8 1-20.8 3.1-6.6 1 2 1 0.5 1-0.7 1-1.3 1-1.4 1-1.4 1-1.8 1-1.2 1.1-1.4 1-0.8 1-1.4 1-0.9 1-1.3 1-1.1 1-1.2 1-1.2 1-0.5 1-0.7 1-0.9 1.1-1.1 1-0.5 1-0.5 1-0.6 1-1 1-0.5 1-0.8 1-0.3 1-0.6 1.1-0.6 1-0.5 1-0.9 1-0.1 1-0.6 1 0 1-0.6 1-0.6 1-0.7 1-0.4 1-0.4 1.1-0.7 1-0.3 1-0.2 1 0.1 1-1.1 1-0.6 1-0.6 1-0.2 1-0.2 1.1-0.7 1-0.6 1-0.6 1-0.7 1-0.7 1-0.5 1-0.4 1-0.3 1-1 1-0.7 1-0.5 1.1 0 1-0.5 1-0.5 1-0.7 1-0.9 1-0.6 1-0.7 1-0.3 1-0.9 1.1-0.4 1-0.7 1-0.3 1-0.7 1-0.5 1-0.9 1-0.4 1-0.4 1-0.3 1-0.5 1-1 1.1-0.6 1-0.6 1-0.5 1-0.5 1-0.5 1 0.3 1-0.6 1-0.6 1-0.8 1.1-0.2 1-0.2 1-0.4 1-0.4 1-0.7 1-0.6 1-0.4 1-0.1 1-0.2 1-0.5 1-0.5 1.1-0.3 1-0.3 1-0.3 1-0.5 1-0.3 1-0.4 1-0.6 1-0.4 1-0.5 1.1-0.2 1-0.2 1-0.7 1-0.1 1-0.4 1 0 1-0.7 1-0.4 1-0.4 1-0.1 1-0.3 1.1-0.2 1-0.2 1-0.3 1-0.4 1-0.6 1-0.5 1-0.4 1-0.5 1-0.3 1-0.3 1.1-0.2 1 0 1-0.2 1-0.1 1-0.4 1-0.2 1-0.6 1-0.3 1-0.8 1-0.2 1.1-0.3 1-0.3 1-0.2 1-0.2 1-0.2 1-0.3 1-0.2 1 0 1-0.5 1.1-0.5 1-0.4 1-0.3 1-0.5 1-0.9 1 0.1 1-0.3 1-0.2 1-0.8 1-0.1 1-0.2 1.1-0.5 1-0.4 1-0.3 1-0.2 1-0.5 1-0.1 1-0.4 1-0.1 1-0.2 1.1-0.3 1-0.1 1-0.5 1-0.4 1-0.7 1-0.3 1-0.1 1-0.3 1-0.2 1-0.1 1-0.3 1.1-0.3 1-0.4 1-0.2 1-0.3 1-0.4 1-0.2 1-0.2 1 0 1-0.2 1.1-0.2 1-0.3 1-0.3 1-0.4 1-0.4 1-0.2 1 0.2 1-0.1 1 0.1 1-0.5 1-0.3 1.1-0.3 1-0.1 1 0.1 1-0.4 1-0.4 1-0.8 1-0.2 1 0 1 0.2 1.1-0.2 1-0.1 1-0.3 1 0.1 1-0.5 1 0.1 1-0.6 1 0 1-0.5 1 0.2 1-0.1 1.1-0.1 1-0.5 1-0.3 1 0.2 1 0.2 1-0.4 1-0.3 1-0.1 1 0 1.1-0.4 1-0.5 1-0.1 1-0.1 1 0.1 1 0.3 1-0.2 1-0.1 1-0.2 1-0.2 1 0.3 1.1 0 1 0.3 1-0.4 1 0 1 0.1 1 0.1 1 0 1-0.1 1-0.2 1.1-0.1 1 0.1 1 0.1 1-0.1 1-0.4 1-0.1 1 0 1-0.1 1-0.3 1 0.3 1 0 1.1 0.2 1-0.2 1 0 1 0.2 1-0.4 1-0.1 1-0.3 1 0.5 1 0.2 1.1 0.1 1-0.7 1-0.1 1 0.3 1 0.5 1-0.1 1-0.4 1 0.1 1 0.2 1 0 1-0.3 1.1 0 1 0.1 1 0.2 1-0.1 1 0 1-0.2 1 0.1 1-0.1 1 0.2 1.1-0.3 1 0 1-0.3 1 0.3 1-0.2 1 0.1 1-1.1 2 45.6 2-39.1 0.2-2 0.2-1.3 0.2-0.7 0.1-0.5 0.2-0.3 0.2-0.3 1-0.1 1 0 1 0.2 1 0 1-0.3 1-0.1 1 0.1 1-0.1 1 0.1 1.1-0.1 1 0.1 1 0 1 0 1 0.2 1-0.1 1 0.1 1 0.1 1-0.1 1 0.2 1.1-0.1 1 0.2 1-0.4 1-0.1 1-0.1 1-0.1 1 0.2 1 0.1 1 0.2 1.1 0 1-0.3 1 0.1 1-0.1 1 0.3 1 0 1-0.3 1 0 1 0.2 1 0.3 1-0.1 1.1-0.1 1 0.1 1 0 1-0.4 1-0.1 1-0.2 1 0.2 1 0.1 1 0.5 1.1-0.2 1 0 1-0.1 1 0.2 1-0.1 1 0 1 0.2 1-0.1 1 0.1 1-0.1 1-0.3 1.1-0.1 1 0 1 0.5 1 0 1-0.2 1-0.1 1-0.3 1 0 1-0.4 1.1 0.3 1 0.2 1 0.1-0.5-1.8 0.7-2.7 0.6 8.3 0.6-6.5 0.6 10.3 0.6-8.9 0.8 4.4 0.8-3-2.2-0.3 1 0.2 1 0 1-0.1 1 0.2 1-0.1 1 0.3 1.1 0 1 0 1-0.1 1-0.2 1 0.2 1 0.3 1-0.1 1-0.5 1-0.3 1.1 0.1 1 0.2 1 0.3 1-0.2 1 0 1-0.2" fill="none" stroke="#ff8c1a" stroke-width="3" stroke-linejoin="round" stroke-linecap="round"/>
<path d="M94.2 1378.2l1-0.1 1-0.3 1 0.4 1-0.1 1 0.1 1.1-0.2 1 0.4 1 0 1 0.1 1-0.3 1 0.1 1 0.4 1 0.1 1-0.2 1.1-0.3 1 0.1 1 0.3 1 0 1 0 1 0.1 1 0 1-0.1 1-0.3 1-0.2 1 0.2 1.1-0.1 1 0.4 1-0.3 1 0.3 1-0.2 1-0.4 1-0.2 1-0.1 1 0.6 1 0 1.1 0.1 1 0 1-0.1 1-0.1 1 0 1-0.1 1 0.2 1-0.4 1 0.2 1-0.2 1.1 0.3 1 0 1 0.3 1-0.1 1 0 1-0.1 1 0 1 0 1-0.2 1.1-0.1 1 0 1 0.2 1-0.1 1 0.1 1-0.2 1 0.1 1-0.2 1 0.4 1 0 1 0.2 1.1-0.4 1 0.6 1-0.5 1 0.5 1-0.5 1 0.3 1-0.7 1 0.1 1 0.3 1.1 0.2 1 0 1 0.1 1 0.1 1-0.4 1 0 1 0.1 1 0.1 1-0.1 1-0.4 1 0.4 1.1 0 1 0.2 1-0.2 1-0.1 1 0.1 1-0.2 1-0.1 1-0.1 1-0.1 1 0.5 1.1-0.4 1 0.3 1-0.5 1 0.5 1-0.1 1 0.1 1 10.4 1-29.9 3.1-6.3 1 2.6 1 0.9 1-1.4 1-2 1-2.3 1-2.3 1-2.4 1-1.9 1.1-2.1 1-1.6 1-1.9 1-1.6 1-1.7 1-1.4 1-1.1 1-1.2 1-2 1-1.5 1-1.4 1.1-0.5 1-1.2 1-1.2 1-1.2 1-0.9 1-1 1-0.5 1-1 1-0.6 1.1-1 1-0.7 1-0.7 1-0.7 1-0.7 1-0.8 1-0.4 1-0.2 1-0.8 1-0.6 1-0.9 1.1-0.6 1-0.7 1-0.4 1-0.5 1-0.8 1-0.7 1-0.7 1-0.6 1-0.6 1.1-0.4 1-0.9 1-0.7 1-1 1-0.4 1-0.5 1-0.3 1-0.7 1-0.7 1-0.7 1-0.9 1.1-0.6 1-0.8 1-0.7 1-0.5 1-0.6 1-0.5 1-0.8 1-0.8 1-0.9 1.1-0.5 1-0.6 1-0.5 1-1 1-0.3 1-0.6 1-0.3 1-0.4 1-0.5 1-0.9 1-1.1 1.1-0.5 1-0.3 1-0.4 1-0.7 1-0.3 1-0.6 1-0.7 1-0.7 1-0.3 1.1-0.3 1-0.6 1-0.5 1-0.7 1-0.8 1-0.6 1-0.5 1-0.4 1-0.6 1-0.6 1-0.4 1.1-0.3 1-0.2 1-0.3 1-0.6 1-0.4 1-0.4 1-0.4 1-1 1-0.4 1.1-0.4 1-0.5 1-0.6 1-0.3 1-0.5 1-0.2 1-0.5 1-0.1 1-0.5 1-0.7 1-0.8 1.1-0.4 1-0.3 1-0.2 1-0.5 1-0.6 1-0.5 1-0.5 1-0.2 1-0.4 1-0.5 1.1-0.3 1-0.5 1-0.3 1-0.5 1-0.2 1-0.6 1-0.2 1-0.4 1-0.1 1-0.6 1.1-0.3 1-0.4 1-0.4 1-0.3 1-0.5 1-0.5 1-0.4 1-0.5 1-0.2 1.1-0.4 1-0.2 1-0.3 1-0.1 1-0.2 1-0.5 1-0.4 1-0.5 1-0.3 1-0.4 1-0.4 1.1-0.5 1-0.7 1-0.3 1-0.1 1-0.2 1-0.5 1-0.4 1 0 1-0.1 1.1-0.6 1-0.4 1-0.4 1 0.2 1-0.5 1-0.6 1-0.6 1-0.4 1-0.1 1-0.1 1 0 1.1 0.1 1-0.2 1-0.5 1-0.4 1-0.4 1 0.1 1-0.1 1-0.2 1 0 1.1-0.3 1-0.2 1-0.6 1-0.3 1-0.1 1-0.4 1 0.1 1 0 1 0.3 1-0.2 1-0.2 1.1-0.5 1 0 1-0.1 1 0 1-0.4 1-0.1 1-0.3 1 0.1 1 0 1.1-0.1 1-0.4 1-0.1 1 0 1 0.4 1-0.4 1-0.2 1-0.7 1 0.1 1 0 1 0.2 1.1 0 1-0.1 1-0.1 1 0.2 1 0.1 1-0.3 1-0.3 1-0.1 1-0.1 1.1-0.3 1 0 1 0.1 1 0.1 1-0.3 1-0.2 1-0.3 1 0 1 0.1 1 0.1 1 0 1.1 0 1 0 1 0 1-0.3 1 0.1 1 0.1 1 0.1 1 0 1-0.1 1.1 0.1 1-0.1 1 0.1 1 0.2 1-0.2 1-0.2 1-0.5 1 0 1-0.2 1 0 1 0.2 1.1-0.2 1 0.1 1 0 1 0.2 1 0 1-0.2 1 0 1-0.4 1-0.3 1.1 0.5 1 0.3 1 0.4 1-0.6 1-0.1 1-0.2 1-0.1 1-0.1 1 0.2 1-0.1 1-0.1 1.1 0 1 0.3 1 0.1 1-0.3 1 0 1 0.3 1-0.1 1-0.5 1-0.4 1.1 0.2 1 0.3 1 0.3 1-0.1 1-0.2 1-0.2 1-2.4 2 24.7 2-19.5 0.2-1.6 0.2-0.9 0.2-0.6 0.1-0.3 0.2-0.2 0.2-0.5 1-0.1 1-0.1 1 0.1 1 0.1 1-0.1 1-0.1 1 0.1 1 0.3 1 0.1 1.1 0 1-0.1 1 0.4 1-0.2 1-0.1 1-0.1 1-0.1 1 0.1 1 0 1 0.2 1.1-0.2 1-0.3 1-0.1 1 0 1 0.1 1 0.1 1 0.3 1 0 1 0 1.1-0.1 1-0.1 1 0.1 1 0.1 1-0.1 1-0.1 1 0 1 0 1 0.1 1 0.1 1 0.2 1.1 0.1 1 0.1 1 0.1 1-0.3 1-0.2 1 0.2 1 0.1 1 0 1-0.2 1.1-0.2 1-0.3 1 0 1-0.2 1 0.2 1-0.2 1-0.1 1 0.2 1 0.1 1 0.4 1-0.2 1.1-0.1 1-0.1 1 0.3 1 0.2 1-0.2 1 0 1-0.1 1 0.3 1 0 1.1-0.3 1 0.1 1-0.1-0.5-1.5 0.7-2.7 0.6 8.3 0.6-6.5 0.6 10.2 0.6-8.8 0.8 4.3 0.8-3-2.2-0.1 1 0.3 1 0.1 1-0.2 1-0.2 1-0.5 1-0.1 1.1 0.3 1 0.4 1 0.1 1-0.4 1 0.2 1 0.2 1 0 1-0.2 1-0.1 1.1 0.1 1 0.1 1 0.3 1 0.1 1-0.3 1-0.2" fill="none" stroke="#b31aff" stroke-width="3" stroke-linejoin="round" stroke-linecap="round"/>
<path d="M94.2 1378l1 0 1 0.4 1 0.2 1 0.1 1 0 1.1-0.1 1-0.2 1 0.1 1 0.2 1 0 1 0.1 1-0.5 1 0 1-0.3 1.1 0.8 1 0 1-0.3 1-0.6 1 0.3 1 0.3 1 0.2 1-0.2 1-0.2 1 0.2 1-0.1 1.1 0 1-0.3 1 0 1-0.3 1 0.2 1 0.3 1 0.2 1-0.4 1-0.1 1 0.1 1.1 0.4 1 0.2 1-0.5 1-0.3 1-0.2 1 0.4 1 0.2 1-0.1 1 0.1 1 0.4 1.1 0.3 1 0 1-0.5 1-0.2 1 0 1 0.1 1 0.1 1-0.2 1 0 1.1 0.2 1 0 1 0.2 1-0.1 1 0 1-0.3 1-0.3 1-0.2 1 0.1 1-0.1 1 0.3 1.1 0 1-0.2 1-0.2 1-0.1 1-0.1 1 0.2 1 0.1 1 0.3 1 0.1 1.1 0 1 0 1-0.3 1 0.4 1-0.1 1 0.2 1-0.6 1 0.2 1-0.1 1 0.1 1-0.2 1.1 0.5 1-0.1 1 0.3 1-0.1 1 0.3 1-0.1 1-0.1 1-0.3 1-0.2 1-0.5 1.1 0.2 1 0.2 1 0.6 1 0.2 1-0.2 1-0.2 1 13 1-39 3.1-6.5 1 3.8 1 1.4 1-1.3 1-2.7 1-2.4 1-2.6 1-2.5 1-3 1.1-2.8 1-2.5 1-2.1 1-2.1 1-2.4 1-2.2 1-1.9 1-1.7 1-1.5 1-1.6 1-1.5 1.1-1.7 1-1.9 1-1.5 1-1.1 1-1.2 1-1 1-1 1-0.7 1-0.9 1.1-1.2 1-0.8 1-1.2 1-0.8 1-1 1-0.7 1-0.9 1-0.7 1-1.3 1-0.9 1-1.2 1.1-0.5 1-0.7 1-0.9 1-0.9 1-0.7 1-0.8 1-1 1-0.8 1-0.7 1.1-0.7 1-0.4 1-0.6 1-0.9 1-0.9 1-0.7 1-0.8 1-0.7 1-1.1 1-0.5 1-0.8 1.1-0.4 1-0.9 1-1.1 1-1 1-1 1-0.3 1-0.3 1-0.7 1-0.6 1.1-0.8 1-0.4 1-0.7 1-0.8 1-1 1-0.9 1-0.6 1-0.3 1-0.4 1-0.5 1-0.9 1.1-0.8 1-0.5 1-0.1 1-0.7 1-0.8 1-0.9 1-0.6 1-0.5 1-0.3 1.1-0.3 1-0.1 1-0.5 1-0.6 1-0.7 1-0.7 1-0.4 1-0.8 1-0.1 1-0.5 1-0.1 1.1-0.7 1-0.5 1-0.5 1-0.7 1-0.6 1-0.8 1-0.4 1-0.5 1-0.4 1.1-0.7 1-0.2 1-0.5 1-0.4 1-0.6 1-0.6 1-0.5 1-0.3 1-0.3 1-0.4 1-0.7 1.1-0.6 1-0.3 1-0.4 1-0.4 1-0.7 1-0.5 1 0.1 1 0.1 1-0.1 1-0.7 1.1-0.6 1-0.3 1-0.2 1-0.5 1-0.3 1-0.7 1-0.7 1-0.6 1-0.3 1-0.1 1.1-0.5 1-0.1 1-0.1 1-0.2 1-0.7 1-0.4 1-0.4 1-0.2 1-0.3 1.1-0.1 1-0.5 1-0.5 1-0.6 1-0.2 1-0.5 1-0.1 1-0.3 1-0.1 1-0.4 1-0.4 1.1-0.2 1-0.3 1-0.5 1-0.5 1-0.4 1-0.1 1-0.6 1-0.4 1-0.3 1.1 0 1-0.3 1-0.4 1-0.4 1-0.4 1-0.1 1-0.2 1-0.2 1-0.2 1-0.2 1-0.1 1.1-0.4 1-0.5 1-0.4 1-0.1 1-0.3 1-0.2 1-0.5 1-0.1 1-0.2 1.1 0.2 1-0.2 1 0 1-0.3 1 0 1-0.5 1-0.1 1-0.1 1 0.1 1-0.6 1-0.3 1.1-0.3 1 0.3 1-0.5 1-0.3 1-0.4 1-0.2 1 0 1-0.2 1 0.2 1.1-0.2 1 0.3 1-0.2 1 0.2 1-0.5 1-0.2 1-0.5 1-0.2 1-0.3 1 0.2 1-0.1 1.1-0.1 1-0.1 1-0.1 1-0.1 1-0.4 1-0.1 1-0.2 1 0.2 1-0.3 1.1-0.1 1 0 1 0 1-0.1 1-0.3 1 0.1 1 0 1-0.3 1 0 1-0.1 1-0.2 1.1-0.1 1 0 1 0.1 1 0 1-0.2 1-0.1 1-0.2 1 0.1 1 0.1 1.1 0.2 1 0.3 1 0.2 1-0.4 1-0.4 1-0.3 1 0.2 1 0 1-0.2 1-0.2 1 0.1 1.1 0.2 1 0.1 1-0.1 1-0.2 1-0.3 1 0 1-0.1 1 0 1 0.1 1.1 0.1 1-0.1 1-0.1 1 0 1 0.2 1-0.2 1-0.1 1 0 1 0.3 1 0.1 1 0.1 1.1-0.1 1-0.1 1-0.1 1 0.1 1-0.1 1 0.2 1-0.2 1 0 1-0.2 1.1 0 1-0.1 1-0.1 1-0.1 1-0.1 1 0.1 1-3.1 2 39.1 2-32.5 0.2-1.6 0.2-0.9 0.2-0.6 0.1-0.3 0.2-0.2 0.2-0.5 1 0 1 0.1 1 0.2 1-0.1 1-0.1 1-0.1 1 0.1 1 0 1-0.1 1.1 0 1 0.1 1-0.1 1 0.3 1-0.1 1 0.2 1-0.7 1 0.1 1-0.2 1 0.3 1.1-0.2 1 0.1 1-0.2 1-0.1 1 0 1 0.3 1 0 1 0 1 0.1 1.1 0.3 1-0.1 1 0.2 1-0.3 1 0 1-0.1 1 0.1 1 0.4 1-0.5 1-0.3 1-0.4 1.1-0.3 1 0.5 1 0.3 1 0.3 1-0.2 1-0.2 1-0.1 1-0.1 1-0.2 1.1 0.3 1 0.2 1-0.1 1-0.3 1-0.2 1 0.1 1 0.3 1 0.1 1 0 1-0.2 1 0.1 1.1 0 1 0 1-0.2 1 0.2 1 0 1-0.4 1-0.1 1 0 1-0.1 1.1 0.1 1-0.1 1 0.4-0.5-3.3 0.7-4.9 0.6 15 0.6-11.7 0.6 18.4 0.6-15.9 0.8 7.8 0.8-5.4-2.2-0.2 1-0.3 1-0.3 1 0.1 1 0.6 1 0 1-0.1 1.1-0.3 1 0.2 1 0.2 1 0 1 0 1-0.4 1 0.4 1 0 1 0.4 1.1-0.6 1-0.3 1-0.1 1 0 1 0.1 1 0" fill="none" stroke="#19c819" stroke-width="3" stroke-linejoin="round" stroke-linecap="round"/>
<path d="M94.2 1377.8l1 0.2 1 0.7 1-0.2 1-0.1 1 0.1 1.1 0 1 0 1-0.4 1 0.3 1-0.2 0.3-7.6 0.7 14.9 0.7-9.4 0.7 2.4-0.4-0.3 1 0.4 1-0.4 1.1-0.2 1-0.4 1 0.3 1-0.4 1 0.2 1-0.3 1 0.5 1 0.3 1 0.6 1-0.1 1-0.3 1.1-0.6 1-0.1 1-0.1 1 0.1 1 0.2 1 0.1 1 0.1 1 0.2 1-0.3 1 0.4 1.1-0.2 1 0.2 1-0.4 1 0 1 0.4 1 0 1 0 1 0.1 1 0.1 1 0.5 1.1-0.5 1-0.4 1-0.3 1 0 1 0.1 1-0.1 1 0 1 0.3 1 0.5 1.1 0.2 1 0.2 1-0.4 1-0.3 1-0.5 1 0.2 1-0.2 1 0.4 1-0.3 1 0.2 1-0.2 1.1 0.2 1 0.2 1 0 1-0.1 1-0.4 1 0.3 1 0.2 1 0.4 1-0.2 1.1 0 1-0.3 1-0.1 1-0.2 1 0.1 1 0.5 1 0 1-0.4 1-0.3 1 0.1 1 0.5 1.1 0.2 1 0.1 1-0.3 1-0.1 1-0.1 1 0.2 1-0.1 1 0 1-0.2 1-0.1 1.1 0.1 1-0.2 1 0.2 1-0.1 1 0.2 0.5 0 1 39.1 1-52.1 1-62.5 1 10.4 0.5 6.5 1.1 12.5 1 7.4 1 2.1 1 1.1 1-3.2 1-4.6 1-4.1 1-3.8 1-3.8 1.1-3.5 1-3.1 1-2.8 1-2.8 1-2.6 1-2.8 1-2.8 1-2.7 1-2.4 1-2.2 1-1.9 1.1-2 1-2.3 1-2 1-1.7 1-1.2 1-1.7 1-1.8 1-1.5 1-1.5 1.1-0.8 1-1.3 1-1.1 1-1.7 1-1.3 1-1.5 1-1.4 1-1 1-0.8 1-1 1-1.1 1.1-1.1 1-0.9 1-1 1-1.1 1-0.6 1-1 1-1.1 1-1 1-1 1.1-0.8 1-1 1-0.9 1-1.1 1-1 1-1 1-0.4 1-0.8 1-1 1-0.8 1-0.9 1.1-0.6 1-1 1-0.7 1-0.4 1-0.8 1-0.6 1-1.2 1-1 1-1 1.1-0.5 1-0.4 1-0.8 1-0.8 1-1 1-0.7 1-0.6 1-0.2 1-0.5 1-1 1-0.9 1.1-0.8 1-0.2 1-0.5 1-0.5 1-0.7 1-0.6 1-0.4 1-0.7 1-0.5 1.1-0.7 1-0.5 1-0.7 1-0.5 1-0.3 1-0.4 1-0.2 1-0.6 1-0.3 1-0.5 1-0.3 1.1-0.4 1-0.4 1-0.5 1-0.5 1-0.6 1-0.2 1-0.1 1-0.3 1-0.4 1.1-0.8 1-0.3 1-0.5 1 0 1-0.5 1-0.5 1-0.5 1-0.4 1-0.1 1-0.4 1-0.3 1.1-0.7 1-0.5 1-0.6 1-0.1 1-0.3 1-0.3 1-0.5 1-0.3 1-0.4 1-0.5 1.1-0.4 1-0.3 1-0.2 1-0.3 1-0.4 1-0.3 1-0.4 1-0.6 1-0.4 1-0.5 1.1 0 1-0.1 1-0.3 1-0.4 1-0.5 1-0.2 1-0.4 1-0.3 1-0.4 1.1-0.2 1-0.4 1-0.2 1-0.5 1-0.2 1-0.3 1-0.2 1-0.6 1-0.4 1-0.4 1-0.2 1.1-0.5 1 0 1-0.3 1-0.4 1-0.6 1-0.2 1 0 1-0.6 1-0.4 1.1-0.2 1-0.2 1-0.2 1-0.6 1 0 1-0.2 1-0.6 1-0.4 1-0.3 1 0.2 1-0.7 1.1-0.5 1-0.3 1-0.1 1-0.1 1-0.2 1 0 1-0.1 1-0.3 1-0.5 1.1-0.3 1-0.1 1-0.3 1-0.4 1-0.5 1-0.1 1-0.3 1 0 1-0.5 1-0.1 1-0.3 1.1-0.3 1-0.4 1-0.5 1-0.1 1-0.1 1 0 1-0.1 1-0.4 1 0 1.1-0.4 1-0.4 1-0.5 1 0.1 1-0.3 1-0.4 1-0.7 1 0 1 0.1 1-0.3 1-0.3 1.1-0.2 1 0.1 1-0.3 1-0.5 1-0.6 1-0.1 1-0.2 1 0.2 1 0 1.1 0.1 1-0.3 1-0.4 1-0.2 1 0 1-0.5 1-0.2 1-0.2 1 0.5 1-0.1 1-0.2 1.1-0.4 1 0 1 0.1 1-0.3 1-0.3 1-0.3 1-0.1 1-0.3 1-0.1 1.1-0.1 1 0.4 1-0.1 1-0.3 1-0.6 1-0.3 1 0.5 1 0.4 1-0.3 1 0 1-0.4 1.1 0.5 1-0.5 1 0 1-0.2 1 0.2 1 0.2 1 0.1 1 0 1-0.2 1.1 0.1 1-0.4 1-0.3 1 0.2 1 0 1 0.2 1-0.7 1 0.2 1 0.2 1 0.7 1 0.1 1.1-0.2 1-0.6 1-0.2 1 0 1 0 1-0.1 1 0 1 0.4 1 0 1.1 0.3 1-0.3 1-0.1 1-0.3 1 0.1 1 0.1 0.5-18.1 1.5 23.4 1.5 41.7 1.5-41.7 0.2-2 0.2-1.3 0.2-0.7 0.1-0.5 0.2-0.3 0.2-0.3 1-0.3 1-0.4 1 0 1 0.3 1 0.1 1-0.2 1 0.2 1-0.1 1 0.4 1.1 0 1 0.1 1 0.1 1 0 1-0.3 1-0.5 1-0.2 1 0.2 1-0.3 1 0.1 1.1 0.3 1 0.4 1 0.1 1-0.3 1 0 1-0.4 1-0.2 1-0.1 1 0.1 1.1-0.1 1 0.3 1 0 1 0.2 1 0 1-0.1 1 0.1 1-0.3 1-0.1 1-0.2 1-0.1 1.1-0.1 1 0.2 1 0.4 1 0.2 1-0.1 1-0.1 1-0.1 1 0.1 1-0.1 1.1 0 1-0.1 1 0.1 1 0 1 0.1 1 0 1-0.2 1-0.1 1 0.1 1 0.1 1 0 1.1-0.2 1 0 1 0.2 1-0.3 1-0.2 1-0.1 1 0 1 0.2 1 0.2 1.1 0.1 1-0.1 1-0.1-0.5-3 0.7-5 0.6 15 0.6-11.7 0.6 18.4 0.6-15.9 0.8 7.8 0.8-5.4-2.2-0.1 1-0.1 1-0.4 1 0.4 1 0 1 0 1-0.4 1.1 0.2 1 0.2 1 0 1 0.2 1 0 1-0.3 1-0.3 1-0.1 1 0.4 1.1 0.2 1 0 1-0.4 1 0.2 1-0.1 1 0.1" fill="none" stroke="#ff1a1a" stroke-width="3" stroke-linejoin="round" stroke-linecap="round"/>
<line x1="94.4" y1="1117.4" x2="94.4" y2="1445.4" stroke="#1c1c1c" stroke-width="4.2"/>
<line x1="92.4" y1="1443.4" x2="599.7" y2="1443.4" stroke="#1c1c1c" stroke-width="4.2"/>
<line x1="83.9" y1="1378.3" x2="94.4" y2="1378.3" stroke="#1c1c1c" stroke-width="3.6"/>
<text x="67.5" y="1388.7" font-size="23.5" font-weight="bold" textLength="14.4" lengthAdjust="spacingAndGlyphs">0</text>
<line x1="83.9" y1="1248.1" x2="94.4" y2="1248.1" stroke="#1c1c1c" stroke-width="3.6"/>
<text x="38.6" y="1258.5" font-size="23.5" font-weight="bold" textLength="43.1" lengthAdjust="spacingAndGlyphs">100</text>
<line x1="83.9" y1="1117.9" x2="94.4" y2="1117.9" stroke="#1c1c1c" stroke-width="3.6"/>
<text x="38.6" y="1128.3" font-size="23.5" font-weight="bold" textLength="43.1" lengthAdjust="spacingAndGlyphs">200</text>
<line x1="94.2" y1="1443.4" x2="94.2" y2="1453.6" stroke="#1c1c1c" stroke-width="3.6"/>
<text x="100.8" y="1466.6" font-size="24" font-weight="bold" text-anchor="end" textLength="50.9" lengthAdjust="spacingAndGlyphs" transform="rotate(-45 100.8 1466.6)">-100</text>
<line x1="195.2" y1="1443.4" x2="195.2" y2="1453.6" stroke="#1c1c1c" stroke-width="3.6"/>
<text x="201.8" y="1466.6" font-size="24" font-weight="bold" text-anchor="end" textLength="14.1" lengthAdjust="spacingAndGlyphs" transform="rotate(-45 201.8 1466.6)">0</text>
<line x1="296.2" y1="1443.4" x2="296.2" y2="1453.6" stroke="#1c1c1c" stroke-width="3.6"/>
<text x="302.8" y="1466.6" font-size="24" font-weight="bold" text-anchor="end" textLength="42.4" lengthAdjust="spacingAndGlyphs" transform="rotate(-45 302.8 1466.6)">100</text>
<line x1="397.2" y1="1443.4" x2="397.2" y2="1453.6" stroke="#1c1c1c" stroke-width="3.6"/>
<text x="403.8" y="1466.6" font-size="24" font-weight="bold" text-anchor="end" textLength="42.4" lengthAdjust="spacingAndGlyphs" transform="rotate(-45 403.8 1466.6)">200</text>
<line x1="498.2" y1="1443.4" x2="498.2" y2="1453.6" stroke="#1c1c1c" stroke-width="3.6"/>
<text x="504.8" y="1466.6" font-size="24" font-weight="bold" text-anchor="end" textLength="42.4" lengthAdjust="spacingAndGlyphs" transform="rotate(-45 504.8 1466.6)">300</text>
<line x1="599.2" y1="1443.4" x2="599.2" y2="1453.6" stroke="#1c1c1c" stroke-width="3.6"/>
<text x="605.8" y="1466.6" font-size="24" font-weight="bold" text-anchor="end" textLength="42.4" lengthAdjust="spacingAndGlyphs" transform="rotate(-45 605.8 1466.6)">400</text>
<text x="22.5" y="1368.3" font-size="26.3" font-weight="bold" textLength="179.4" lengthAdjust="spacingAndGlyphs" transform="rotate(-90 22.5 1368.3)">Responce (RU)</text>
<text x="297.8" y="1540.9" font-size="24.4" font-weight="bold" textLength="98.2" lengthAdjust="spacingAndGlyphs">Time (s)</text>
<line x1="660.5" y1="1135.7" x2="690.4" y2="1135.7" stroke="#ff1a1a" stroke-width="4" stroke-linecap="round" opacity="0.85"/>
<text x="704.9" y="1142.2" font-size="18.9" fill="#333" textLength="61.4" lengthAdjust="spacingAndGlyphs" stroke="#333" stroke-width="0.45">60 µM</text>
<line x1="660.5" y1="1166.1" x2="690.4" y2="1166.1" stroke="#19c819" stroke-width="4" stroke-linecap="round" opacity="0.85"/>
<text x="704.9" y="1172.6" font-size="18.9" fill="#333" textLength="61.4" lengthAdjust="spacingAndGlyphs" stroke="#333" stroke-width="0.45">50 µM</text>
<line x1="660.5" y1="1196.5" x2="690.4" y2="1196.5" stroke="#b31aff" stroke-width="4" stroke-linecap="round" opacity="0.85"/>
<text x="704.9" y="1203" font-size="18.9" fill="#333" textLength="61.4" lengthAdjust="spacingAndGlyphs" stroke="#333" stroke-width="0.45">40 µM</text>
<line x1="660.5" y1="1226.9" x2="690.4" y2="1226.9" stroke="#ff8c1a" stroke-width="4" stroke-linecap="round" opacity="0.85"/>
<text x="704.9" y="1233.4" font-size="18.9" fill="#333" textLength="61.4" lengthAdjust="spacingAndGlyphs" stroke="#333" stroke-width="0.45">30 µM</text>
<line x1="660.5" y1="1257.3" x2="690.4" y2="1257.3" stroke="#111111" stroke-width="4" stroke-linecap="round" opacity="0.85"/>
<text x="704.9" y="1263.8" font-size="18.9" fill="#333" textLength="61.4" lengthAdjust="spacingAndGlyphs" stroke="#333" stroke-width="0.45">20 µM</text>
<line x1="660.5" y1="1287.7" x2="690.4" y2="1287.7" stroke="#a0631e" stroke-width="4" stroke-linecap="round" opacity="0.85"/>
<text x="704.9" y="1294.2" font-size="18.9" fill="#333" textLength="61.4" lengthAdjust="spacingAndGlyphs" stroke="#333" stroke-width="0.45">10 µM</text>
<rect x="619.5" y="1320.1" width="159.1" height="118.4" fill="none" stroke="#3a3a3a" stroke-width="3" rx="2.5"/>
<text x="629.4" y="1353.7" font-size="25.5" font-weight="bold" textLength="18.4" lengthAdjust="spacingAndGlyphs">K</text>
<text x="649.7" y="1361.5" font-size="19.5" font-weight="bold" textLength="15" lengthAdjust="spacingAndGlyphs">D</text>
<text x="669.4" y="1352.5" font-size="26" font-weight="bold" textLength="16.3" lengthAdjust="spacingAndGlyphs">=</text>
<text x="693.7" y="1354.1" font-size="26.5" font-weight="bold" textLength="29.8" lengthAdjust="spacingAndGlyphs">35</text>
<text x="728" y="1355.2" font-size="21.5" fill="#555" textLength="14.4" lengthAdjust="spacingAndGlyphs">µ</text>
<text x="745.4" y="1353.7" font-size="25.5" font-weight="bold" textLength="22.1" lengthAdjust="spacingAndGlyphs">M</text>
<text x="629.4" y="1422.5" font-size="25.7" font-weight="bold" textLength="39.4" lengthAdjust="spacingAndGlyphs">RU</text>
<text x="670.7" y="1413.3" font-size="20.1" font-weight="bold" textLength="10.9" lengthAdjust="spacingAndGlyphs">2</text>
<text x="686.9" y="1421.9" font-size="26" font-weight="bold" textLength="15.2" lengthAdjust="spacingAndGlyphs">=</text>
<text x="709.9" y="1422.9" font-size="25.9" font-weight="bold" textLength="15.9" lengthAdjust="spacingAndGlyphs">8</text>
<text x="884.5" y="1102.6" font-size="70" font-weight="bold" textLength="41.5" lengthAdjust="spacingAndGlyphs">F</text>
<text x="1167.7" y="1109.1" font-size="31.1" font-weight="bold" textLength="78.2" lengthAdjust="spacingAndGlyphs">FP15</text>
<line x1="1051" y1="1118.9" x2="1051" y2="1442.4" stroke="#000" stroke-width="2.6" stroke-dasharray="2.8 4.95"/>
<line x1="1342.8" y1="1118.9" x2="1342.8" y2="1442.4" stroke="#000" stroke-width="2.6" stroke-dasharray="2.8 4.95"/>
<line x1="1053" y1="1378.3" x2="1459.5" y2="1378.3" stroke="#a8a8a8" stroke-width="2.2"/>
<path d="M953.8 1378l0.9 0 1-0.2 1 0.3 0.9-0.2 1 0.2 1 0 1 0.1 0.9 0.4 1 0.3 1 0.1 0.9-0.1 1-0.7 1-0.3 1 0.1 0.9 0.1 1 0.2 1 0 1-0.2 0.9 0.4 1-0.3 1 0.4 0.9-0.3 1 0.2 1-0.2 1-0.2 0.9 0 1 0.3 1 0.3 1 0.1 0.9 0.1 1-0.3 1-0.5 0.9-0.2 1 0.3 1 0.2 1-0.3 0.9-0.6 1-0.2 1 0.4 0.9 0.2 1 0.2 1-0.2 1 0.4 0.9 0.2 1 0.5 1-0.3 1 0 0.9-0.7 1 0.2 1 0 0.9-0.1 1 0.1 1-0.1 1 0.5 0.9-0.1 1-0.1 1-0.2 1-0.5 0.9 0.1 1-0.2 1 0.7 0.9-0.2 1 0.1 1-0.1 1 0.2 0.9 0.1 1-0.1 1 0.2 1-0.2 0.9 0.2 1-0.1 1 0.3 0.9-0.5 1 0 1-0.1 1 0.3 0.9 0.1 1 0 1-0.1 1-0.2 0.9-0.2 1-0.1 1 0.5 0.9 0.1 1 0.1 1-0.6 1 0.2 0.9-0.1 1 0.4 1 0.3 0.9 0 1-0.3 1-0.3 1-0.3 0.9 0.1 1-0.1 1 0.3 1 0.2 0.9 0 1-0.1 1 0 1.4 3.9 2.5-3.9 0.9 0.2 1 0.2 1 0 1 0 0.9-0.1 1 0.1 1-0.3 0.9-0.2 1 0 1 0 1 0.1 0.9-0.1 1 0 1-0.2 0.9-0.1 1-0.2 1 0.4 1 0.1 0.9 0.2 1-0.6 1-0.1 1-0.1 0.9 0 1 0 1 0.1 0.9 0.1 1 0 1 0.1 1-0.1 0.9 0.1 1-0.2 1 0.2 1 0.1 0.9-0.1 1 0 1-0.5 0.9 0 1-0.2 1 0.1 1-0.1 0.9 0 1 0.2 1 0.1 1 0.1 0.9-0.3 1-0.4 1-0.1 0.9 0 1 0.4 1-0.2 1-0.2 0.9 0 1-0.1 1 0.1 1-0.3 0.9 0 1 0 1 0.2 0.9 0.4 1 0.1 1-0.2 1-0.2 0.9 0 1-0.3 1-0.2 0.9-0.1 1-0.1 1-0.2 1-0.3 0.9 0 1-0.3 1 0.1 1-0.3 0.9 0.3 1-0.2 1 0.3 0.9-0.4 1-0.3 1-0.3 1-0.2 0.9 0.2 1 0.1 1-0.2 1-0.4 0.9-0.4 1 0.1 1-0.1 0.9 0.5 1-0.1 1 0 1-0.6 0.9-0.2 1 0 1 0.3 0.9-0.2 1-0.5 1-0.6 1-0.1 0.9 0.2 1 0.1 1-0.1 1 0 0.9-0.3 1-0.3 1-0.5 0.9 0 1-0.1 1 0.2 1-0.2 0.9-0.2 1 0.1 1 0 1 0.2 0.9-0.3 1-0.5 1-0.2 0.9 0 1 0.1 1 0.1 1-0.4 0.9 0 1-0.5 1 0.2 1-0.2 0.9-0.1 1-0.3 1 0.1 0.9 0 1-0.1 1-0.2 1-0.1 0.9 0 1-0.1 1 0 1-0.1 0.9-0.4 1-0.3 1-0.1 0.9 0 1 0 1-0.1 1-0.2 0.9-0.4 1-0.2 1 0.2 0.9-0.1 1-0.1 1-0.2 1 0.3 0.9 0 1 0 1-0.3 1 0.1 0.9-0.3 1-0.3 1-0.4 0.9 0.1 1-0.1 1 0.2 1-0.1 0.9 0 1-0.1 1 0.1 1 0 0.9-0.2 1-0.6 1-0.6 0.9 0 1-0.1 1 0.5 1-0.1 0.9 0.1 1-0.2 1 0 0.9-0.2 1-0.2 1 0 1-0.2 0.9 0.4 1-0.5 1-0.1 1-0.5 0.9 0.2 1 0 1-0.1 0.9-0.6 1 0 1 0.1 1 0.2 0.9 0.2 1-0.1 1 0.3 1-0.4 0.9 0.1 1-0.2 1 0.2 0.9 0.1 1-0.4 1-0.6 1-0.4 0.9-0.1 1-0.1 1 0.1 1 0.2 0.9-0.2 1-0.2 1 0.2 0.9 0.2 1-0.1 1-0.2 1 0.2 0.9 0.3 1-0.1 1 0 1-0.4 0.9 0.1 1-0.2 1-0.2 0.9-0.2 1-0.2 1 0.1 1-0.2 0.9-0.3 1 0 1 0 0.9 0.2 1 0 1 0.3 1-0.3 0.9 0.1 1-0.6 1 0.3 1-0.2 0.9 0.3 1-0.3 1 0.1 0.9 0.2 1 0.1 1-0.2 1-0.4 0.9-0.3 1 0.2 1 0.1 1 0 0.9-0.4 1-0.1 1 0 0.9 0.3 1 0 1 0.2 1-0.3 0.9-0.1 1-0.4 1-0.1 0.9 0.1 1 0.1 1 0 1-0.3 0.9-0.1 1-0.2 1 0 1 0.2 0.9 0 1 0.3 1 0 0.9 0.2 1-0.5 1-0.5 1-0.2 0.9 0.2 1-0.1 1 0 1-0.1 0.9-0.1 1-0.1 1 0 0.9 0.3 1-0.2 1 0.1 1-0.1 0.9 0.3 1-0.6 1 0 1-0.1 0.9 0.4 1 0.1 1-0.1 0.9-0.2 1-0.3 1 0.3 1 0.5 0.9 0.1 1-0.2 1-0.6 1 0.1 0.4-0.6 2.5 6.5 1.9-3.9 0-1.4 1-0.1 1-0.2 0.9 0.3 1 0.2 1 0.2 0.9-0.1 1 0 1-0.2 1 0 0.9 0.1 1 0 1-0.3 1-0.3 0.9 0.2 1 0.2 1 0.2 0.9-0.2 1 0.1 1 0.3 1 0 0.9 0.1 1-0.2 1 0.3 1 0.1 0.9 0.1 1-0.1 1-0.2 0.9 0 1-0.1 1 0 1 0.1 0.9-0.2 1 0 1-0.1 0.9 0.1 1 0.1 1-0.2 1 0.1 0.9 0.1 1 0 1 0.4 1-0.1 0.9 0.2 1-0.4 1 0.2 0.9-0.1 1 0.2 1 0 1-0.1 0.9-0.1 1-0.2 1 0.1 1-0.3 0.9-0.1 1 0.3 1 0.5 0.9 0.1 1-0.1 1 0 1 0 0.9 0.1 1 0.1 1-0.2 1-0.2 0.9-0.2 1 0.3 1 0.2 0.9 0.4 1-0.3 1 0.2 1-0.4 0.9 0 1-0.2 1 0 1 0.3 0.9-0.3 1 0 1 0.1 0.9 0.4 1 0 1-0.1 1-0.1 0.9-0.2 1-0.3 1 0.2 0.9 0.4 1 0.2 1-0.2 1 0.1 0.9 0 1 0 1 0.2 1 0.1 0.9 0.2 1 0 1-0.2 0.9 0.2 1-0.1 1 0.2 1-0.2 0.9-0.1 1-0.6 1-0.1 1 0.1 0.9 0.4 1 0.1 1-0.1 0.9 0.1 1 0.2 1 0 1 0.1 0.9-0.1 1 0 1 0 0.9-0.1" fill="none" stroke="#a0631e" stroke-width="3" stroke-linejoin="round" stroke-linecap="round"/>
<path d="M953.8 1378.6l0.9-0.3 1-0.2 1-0.1 0.9 0.1 1 0.5 1-0.4 1 0.1 0.9-0.5 1 0 1 0 0.9 0.2 1 0.5 1-0.2 1-0.3 0.9 0.3 1 0 1 0.2 1-0.7 0.9 0.3 1-0.1 1 0.2 0.9 0.1 1 0.2 1 0.2 1-0.1 0.9 0 1-0.2 1 0.2 1-0.1 0.9 0 1 0 1-0.1 0.9 0.3 1-0.4 1 0.1 1 0 0.9 0.1 1-0.1 1 0 0.9 0.1 1 0.1 1-0.5 1 0.2 0.9-0.1 1 0.6 1 0 1-0.1 0.9-0.4 1-0.2 1-0.2 0.9 0.1 1 0 1 0.1 1 0 0.9-0.1 1-0.2 1-0.3 1 0.4 0.9 0.3 1 0.4 1 0.2 0.9-0.4 1 0 1-0.1 1 0.3 0.9 0.1 1-0.2 1 0 1 0.1 0.9-0.3 1 0 1 0.1 0.9 0.6 1-0.2 1-0.3 1-0.2 0.9 0.3 1-0.1 1 0 1-0.1 0.9 0 1 0.1 1 0.2 0.9 0.1 1-0.1 1-0.3 1 0.5 0.9-0.3 1 0.1 1-0.9 0.9 0 1-0.2 1 0.3 1 0 0.9 0.1 1 0.1 1 0.3 1 0 0.9 0 1-0.1 1 0 1.4 6.5 1.5-2.6 1 0.2 0.9-1.9 1-1.9 1-1.9 1-1.3 0.9-1.4 1-1.2 1-1.1 0.9-0.9 1-1 1-0.9 1-0.7 0.9-0.7 1-0.9 1-0.6 0.9-1 1-0.7 1-0.7 1-0.7 0.9-0.6 1-0.3 1-0.3 1-0.6 0.9-0.7 1-0.8 1-1 0.9-0.7 1-0.5 1-0.7 1-0.3 0.9-0.4 1-0.4 1-0.7 1-0.6 0.9-0.3 1-0.5 1-0.5 0.9-0.5 1-0.3 1-0.3 1-0.3 0.9-0.3 1-0.4 1-0.3 1-0.7 0.9-0.5 1-0.7 1-0.2 0.9-0.5 1-0.3 1-0.5 1-0.4 0.9-0.3 1-0.2 1-0.5 1-0.7 0.9-0.5 1-0.1 1-0.3 0.9-0.6 1-0.5 1-0.5 1 0 0.9-0.3 1-0.2 1-0.3 0.9-0.5 1-0.2 1-0.3 1-0.4 0.9-0.3 1-0.8 1-0.4 1-0.7 0.9-0.3 1-0.4 1-0.4 0.9 0.1 1-0.3 1-0.1 1-0.5 0.9-0.1 1-0.4 1-0.3 1-0.3 0.9-0.3 1-0.1 1-0.1 0.9-0.2 1-0.4 1 0.1 1-0.4 0.9-0.3 1-0.7 1-0.1 0.9 0 1-0.2 1-0.4 1 0 0.9-0.4 1-0.2 1-0.6 1-0.3 0.9-0.4 1-0.1 1 0 0.9 0 1 0.2 1 0 1-0.2 0.9-0.7 1-0.4 1-0.4 1-0.2 0.9 0 1-0.1 1 0.2 0.9-0.4 1 0 1-0.1 1 0 0.9-0.3 1-0.6 1-0.1 1-0.2 0.9 0.2 1-0.6 1-0.1 0.9-0.4 1 0.1 1-0.1 1 0 0.9-0.3 1-0.3 1-0.4 1 0.1 0.9-0.3 1-0.1 1-0.5 0.9 0.1 1 0.1 1-0.1 1-0.3 0.9-0.4 1-0.1 1-0.1 0.9-0.2 1-0.1 1-0.4 1 0.1 0.9-0.4 1-0.1 1-0.9 1-0.2 0.9-0.5 1 0.1 1-0.7 0.9 0 1-0.5 1 0.2 1-0.1 0.9 0.1 1-0.5 1-0.5 1-0.3 0.9-0.4 1-0.5 1-0.2 0.9-0.1 1 0 1-0.7 1-0.3 0.9-0.7 1 0.2 1-0.1 0.9 0 1-0.5 1-0.6 1-0.3 0.9-0.3 1-0.2 1-0.4 1 0 0.9-0.1 1-0.1 1-0.5 0.9-0.2 1-0.2 1-0.4 1-0.6 0.9-0.5 1 0.4 1-0.3 1-0.1 0.9-0.6 1 0 1 0 0.9-0.2 1-0.2 1-0.3 1 0.1 0.9 0.1 1-0.1 1-0.1 1-0.5 0.9-0.3 1-0.2 1-0.1 0.9-0.5 1 0 1-0.2 1 0.4 0.9-0.2 1 0.4 1-0.1 1 0.1 0.9-0.3 1-0.4 1-0.5 0.9-0.3 1 0.3 1 0.1 1 0.1 0.9-0.1 1-0.1 1-0.4 0.9-0.5 1-0.1 1 0.3 1 0.4 0.9-0.1 1 0 1-0.2 1-0.3 0.9-0.3 1-0.5 1 0.1 0.9 0.1 1 0.1 1 0.1 1-0.3 0.9-0.2 1 0 1 0 1-0.1 0.9 0.1 1 0.2 1 0.3 0.9-0.2 1-0.5 1-0.3 1-0.2 0.9 0.2 1 0.1 1 0 0.9-0.2 1-0.1 1 0 1-0.1 0.9 0.3 1 0.2 1 0.2 1-0.6 0.9 0 1-0.2 1 0.2 0.9 0 1 0.2 1 0.2 1-0.1 0.9-0.2 1 0 1 0 1-0.4 0.9-0.1 1 0.1 1 0.1 0.9 0.1 1-0.4 1 0 1-0.2 0.9 0.4 1 0.5 1 0.4 1-0.1 0.9-0.4 1-0.2 1 0 0.9 0 1 0.1 1-0.2 1-0.1 0.9-0.1 1-0.1 1-0.1 1-0.1 0.4-6.2 1.5 10.4 1.9-3.9 0-0.9 1 0.2 1-0.3 1-0.4 0.9 0 1 0 1 0.2 0.9 0.1 1-0.2 1 0.1 1-0.5 0.9 0.2 1-0.1 1 0.1 1-0.1 0.9 0.2 1 0.2 1-0.1 0.9 0.2 1-0.1 1 0.4 1-0.4 0.9 0.1 1-0.1 1 0.3 1 0.1 0.9 0 1-0.3 1 0.1 0.9 0 1 0.4 1-0.1 1 0 0.9-0.3 1-0.2 1-0.2 0.9 0.1 1-0.1 1 0 1 0 0.9 0.3 1 0.2 1-0.3 1-0.2 0.9-0.3 1 0.2 1-0.1 0.9 0.4 1 0 1 0 1-0.1 0.9-0.1 1 0.1 1 0 1 0 0.9-0.2 1 0.1 1 0.1 0.9 0.3 1-0.2 1-0.3 1 0 0.9-0.2 1 0.1 1 0.1 1 0.1 0.9 0.2 1-0.3 1 0.2 0.9-0.4 1 0.1-0.5-1.4 0.7-2.2 0.6 6.6 0.6-5.2 0.6 8.2 0.5-7.1 0.8 3.5 0.8-2.4-2.1 0.2 0.9-0.1 1 0.1 1 0.2 1 0 0.9-0.2 1-0.3 1 0.1 0.9 0.2 1 0.1 1-0.1 1 0.2 0.9 0.1 1-0.2 1-0.1 0.9 0.2 1 0.2 1-0.1 1-0.1 0.9 0.1 1-0.3 1-0.2 1 0 0.9 0.1 1 0.3 1 0.2 0.9 0.2 1-0.2 1-0.4 1-0.3 0.9 0 1 0.1 1 0.2 1 0.2 0.9 0 1-0.3 1-0.1-0.5-1.2 0.7-1.8 0.5 5.3 0.6-4.1 0.6 6.5 0.6-5.6 0.8 2.7 0.8-1.9-2.2 0.2 1 0.1 1 0.4 0.9-0.1 1 0.1 1-0.3 0.9 0" fill="none" stroke="#111111" stroke-width="3" stroke-linejoin="round" stroke-linecap="round"/>
<path d="M953.8 1378.6l0.9 0.1 1 0.3 1-0.5 0.9-0.2 1 0.1 1-0.2 1-0.1 0.9-0.2 1 0.4 1 0 0.9-0.6 1-0.2 1-0.2 1 0.9 0.9 0 1 0.3 1-0.2 1 0.1 0.9-0.2 1 0.2 1-0.1 0.9 0.1 1-0.5 1-0.1 1 0 0.9 0.4 1-0.1 1 0.2 1 0.1 0.9 0.2 1-0.6 1-0.1 0.9 0.2 1 0.2 1-0.1 1 0.1 0.9 0.4 1 0.2 1-0.3 0.9-0.2 1-0.4 1 0.1 1 0.2 0.9 0.2 1 0.5 1-0.3 1-0.2 0.9-0.3 1 0 1 0.1 0.9 0 1 0.2 1-0.1 1-0.4 0.9 0 1-0.4 1 0.2 1 0.1 0.9 0.6 1 0.1 1 0 0.9-0.4 1-0.1 1 0 1 0.3 0.9-0.1 1 0 1-0.2 1 0.3 0.9 0 1 0 1-0.1 0.9 0.1 1-0.4 1 0.3 1-0.2 0.9 0.4 1 0 1 0.3 1 0.1 0.9-0.3 1-0.1 1-0.6 0.9-0.2 1-0.5 1 0.4 1 0.4 0.9 0.1 1 0.5 1-0.7 0.9 0 1-0.6 1 0.5 1-0.2 0.9 0.7 1 0 1 0.7 1-0.3 0.9 0.2 1-0.3 1-0.3 1.4 10.4 1.5-3.9 1-0.1 0.9-3.8 1-3.8 1-3.1 1-2.8 0.9-2.4 1-2.7 1-2.7 0.9-2.8 1-2.6 1-2.2 1-1.5 0.9-1 1-1.2 1-1.4 0.9-1.1 1-0.9 1-0.7 1-0.8 0.9-1.1 1-1.1 1-1.1 1-0.7 0.9-0.7 1-0.9 1-1 0.9-0.8 1-0.6 1-0.6 1-0.6 0.9-0.6 1-1 1-0.7 1-1.1 0.9-0.3 1-0.8 1-0.1 0.9-0.2 1-0.3 1-0.2 1-1 0.9-0.6 1-0.8 1-0.5 1-0.5 0.9-0.8 1-0.4 1-0.6 0.9-0.4 1-0.7 1-0.3 1-0.4 0.9-0.5 1-0.7 1-0.5 1-0.4 0.9-0.8 1-0.4 1-0.6 0.9-0.3 1-0.7 1-0.5 1-0.4 0.9-0.2 1-0.8 1-0.8 0.9-0.5 1 0 1-0.3 1-0.7 0.9-1 1-0.3 1-0.5 1-0.1 0.9-0.6 1-0.5 1-0.7 0.9-0.3 1-0.4 1 0 1-0.4 0.9-0.4 1-0.6 1-0.6 1-0.2 0.9-0.5 1-0.1 1-0.2 0.9-0.2 1-0.9 1-0.5 1-0.4 0.9-0.6 1-0.3 1-0.6 0.9 0 1-0.5 1-0.4 1-0.3 0.9 0.1 1-0.4 1-0.4 1-0.4 0.9-0.3 1-0.1 1-0.5 0.9-0.1 1-0.4 1-0.3 1-0.2 0.9-0.6 1-0.3 1-0.5 1-0.1 0.9 0 1-0.4 1-0.7 0.9-0.4 1 0 1-0.1 1-0.3 0.9-0.2 1-0.6 1-0.3 1-0.5 0.9 0.3 1-0.5 1-0.3 0.9-0.3 1-0.1 1-0.3 1-0.2 0.9-0.3 1-0.3 1-0.4 1-0.5 0.9 0 1-0.3 1-0.2 0.9-0.2 1-0.2 1-0.2 1-0.5 0.9-0.3 1-0.4 1-0.1 0.9-0.3 1-0.4 1-0.4 1-0.3 0.9-0.1 1-0.3 1-0.1 1-0.4 0.9-0.3 1-0.6 1-0.3 0.9-0.4 1-0.1 1 0 1-0.1 0.9-0.5 1-0.4 1-0.5 1-0.4 0.9-0.4 1-0.2 1-0.3 0.9-0.6 1-0.5 1 0 1-0.6 0.9-0.2 1-0.6 1-0.1 0.9-0.5 1-0.2 1-0.2 1 0.1 0.9-0.5 1-0.5 1-0.5 1-0.1 0.9-0.5 1-0.1 1-0.3 0.9 0 1-0.4 1-0.8 1-0.4 0.9-0.3 1 0.3 1-0.2 1-0.4 0.9-0.5 1-0.1 1-0.2 0.9-0.2 1-0.6 1-0.1 1 0.1 0.9 0.1 1 0.2 1-0.5 1-0.5 0.9-0.5 1-0.1 1-0.1 0.9-0.3 1 0.1 1-0.3 1-0.1 0.9-0.5 1 0.1 1-0.4 1-0.2 0.9-0.3 1-0.1 1-0.1 0.9-0.4 1 0 1-0.3 1 0 0.9 0 1 0.2 1-0.1 0.9-0.2 1-0.2 1-0.3 1 0 0.9-0.2 1 0 1-0.2 1-0.1 0.9-0.3 1-0.3 1-0.1 0.9 0.1 1 0.3 1-0.1 1-0.2 0.9-0.4 1-0.2 1 0 1-0.3 0.9-0.2 1-0.2 1 0.1 0.9 0.4 1 0.3 1 0.2 1-0.3 0.9-0.2 1-0.5 1 0.4 0.9-0.3 1 0.2 1-0.3 1-0.1 0.9-0.5 1-0.2 1 0.1 1 0.4 0.9 0 1 0 1 0.1 0.9 0.3 1-0.2 1 0 1-0.5 0.9 0.2 1-0.9 1 0.3 1-0.5 0.9 0.6 1-0.2 1 0.3 0.9 0.1 1 0.1 1-0.4 1-0.2 0.9 0 1 0.2 1 0.2 1-0.1 0.9-0.1 1-0.1 1-0.2 0.9 0 1-0.2 1 0.2 1 0.4 0.9 0.3 1-0.1 1-0.6 1-0.2 0.4-12.7 1.5 15.6 1.5-2.6 0.1 0 0.1 0 0.1 0 0.1 0 0 0.1 1 0.2 1-0.3 1-0.4 0.9-0.2 1 0.2 1 0.3 0.9 0.2 1 0 1 0 1-0.3 0.9 0.3 1-0.2 1 0.2 1-0.2 0.9 0.1 1 0 1 0 0.9 0 1 0.2 1-0.1 1 0.1 0.9 0 1 0 1-0.1 1 0.2 0.9 0.1 1-0.2 1-0.1 0.9 0 1-0.2 1-0.1 1 0.2 0.9 0.4 1 0 1-0.2 0.9 0.1 1 0 1 0 1-0.2 0.9 0 1 0.1 1 0 1-0.2 0.9-0.1 1 0.2 1-0.1 0.9 0.5 1-0.4 1-0.2 1-0.4 0.9 0.3 1 0.4 1 0 1-0.1 0.9 0.1 1 0 1-0.4 0.9-0.5 1 0.2 1 0.2 1 0.4 0.9 0 1-0.2 1-0.1 1 0 0.9 0 1 0 1 0 0.9 0 1 0.2-0.5-2.3 0.7-3.2 0.6 9.9 0.6-7.8 0.6 12.3 0.5-10.6 0.8 5.2 0.8-3.6-2.1 0 0.9-0.3 1 0.2 1 0.2 1 0.3 0.9-0.1 1 0 1 0.4 0.9-0.1 1 0.1 1-0.6 1 0.2 0.9 0.1 1 0.1 1 0 0.9-0.6 1-0.1 1 0 1 0.2 0.9 0.2 1-0.2 1 0.1 1-0.2 0.9-0.2 1 0.1 1 0.3 0.9 0.1 1-0.1 1-0.2 1 0.4 0.9-0.1 1-0.1 1-0.3 1 0 0.9-0.1 1-0.2 1 0.5-0.5-1.4 0.7-2.6 0.5 8 0.6-6.2 0.6 9.8 0.6-8.5 0.8 4.2 0.8-2.9-2.2 0.4 1-0.1 1-0.1 0.9-0.4 1-0.5 1-0.1 0.9 0.3" fill="none" stroke="#ff8c1a" stroke-width="3" stroke-linejoin="round" stroke-linecap="round"/>
<path d="M953.8 1380.1l0.9-0.1 1 0 1-0.1 0.9 0.3 1-0.2 1-0.5 1-0.2 0.9 0.2 1 0.4 0.3-10.5 0.7 19.8 0.7-12.5 0.6 3.1-0.4-0.3 1-0.6 1 0.4 1 0.2 0.9 0.4 1-0.3 1-0.1 1-0.1 0.9-0.2 1 0.3 1-0.4 0.9 0 1-0.1 1 0.6 1 0.1 0.9 0 1-0.1 1 0.3 1 0.2 0.9 0 1 0 1-0.1 0.9-0.1 1 0.2 1-0.4 1 0.2 0.9-0.5 1-0.2 1-0.4 0.9 0 1 0.3 1 0.4 1 0.6 0.9-0.1 1 0 1-0.5 1 0.1 0.9 0.1 1 0.1 1 0 0.9 0.1 1 0.2 1 0.1 1-0.4 0.9 0 1 0.1 1-0.2 1-0.2 0.9-0.3 1 0.1 1 0.3 0.9-0.1 1-0.1 1-0.3 1 0.1 0.9-0.1 1 0 1 0.2 1 0.1 0.9-0.3 1-0.1 1 0.5 0.9 0.1 1 0.4 1-0.2 1 0 0.9-0.4 1 0 1 0.5 1 0.4 0.9-0.1 1-0.4 1-0.5 0.9-0.2 1 0 1 0.2 1 0 0.9 0.4 1 0.2 1 0.2 0.9-0.1 1 0 1-0.3 1-0.3 0.9-0.2 1 0.4 1 0.1 1 0 0.9 0.4 1-0.1 1-1.7 1.4 13 1.5-3.9 1-1.4 0.9-4.5 1-4.2 1-4 1-3.8 0.9-3.8 1-3.6 1-3.9 0.9-3.8 1-3.1 1-2.5 1-1.8 0.9-1.9 1-1.8 1-1.7 0.9-1.5 1-1.5 1-1.8 1-1.7 0.9-0.8 1-1 1-0.7 1-1.5 0.9-1.3 1-1 1-1.2 0.9-0.5 1-1.7 1-0.7 1-1.3 0.9-0.9 1-1.1 1-0.8 1-0.4 0.9-0.8 1-0.8 1-1 0.9-0.9 1-0.8 1-0.8 1-0.7 0.9-0.8 1-0.7 1-0.7 1-0.6 0.9-0.5 1-0.5 1-0.6 0.9-0.6 1-0.6 1-0.8 1-0.8 0.9-0.7 1-0.7 1-0.9 1-0.8 0.9-0.4 1-0.6 1-0.7 0.9-0.9 1-0.7 1-0.5 1-0.2 0.9-0.1 1-0.4 1-0.7 0.9-0.7 1-1 1-0.7 1-0.7 0.9-0.2 1-0.3 1-0.7 1-0.2 0.9-0.4 1-0.2 1-0.5 0.9-1 1-0.8 1-0.5 1-0.2 0.9-0.1 1-0.6 1-0.6 1-0.9 0.9-0.8 1-0.2 1-0.1 0.9-0.4 1-0.7 1-0.6 1-0.3 0.9-0.5 1-0.3 1-0.1 0.9-0.2 1-0.5 1-0.4 1-0.4 0.9-0.7 1-0.6 1-0.4 1-0.4 0.9-0.2 1-0.8 1-0.5 0.9-0.4 1-0.6 1-0.3 1-0.4 0.9 0.1 1-0.5 1-0.5 1-0.6 0.9-0.5 1-0.5 1-0.6 0.9-0.2 1-0.5 1 0.3 1-0.2 0.9-0.3 1-1.1 1-0.5 1-0.4 0.9 0 1-0.3 1-0.4 0.9-0.5 1-0.4 1-0.4 1-0.4 0.9 0 1-0.1 1-0.5 1-0.4 0.9-0.5 1-0.6 1-0.8 0.9-0.3 1-0.1 1-0.3 1-0.3 0.9-0.4 1-0.2 1-0.2 0.9 0 1-0.5 1-0.3 1-0.8 0.9-0.1 1-0.6 1-0.2 1-0.4 0.9-0.1 1-0.6 1-0.5 0.9-0.5 1-0.2 1-0.2 1-0.6 0.9-0.4 1-0.5 1-0.4 1-0.2 0.9-0.5 1-0.4 1-0.7 0.9 0 1-0.4 1-0.2 1-0.6 0.9-0.4 1-0.3 1-0.7 0.9-0.3 1-0.4 1-0.2 1-0.2 0.9 0 1-0.4 1-0.2 1-0.3 0.9-0.3 1-0.3 1-0.6 0.9-0.3 1-0.1 1-0.2 1-0.2 0.9-0.7 1-0.2 1-0.4 1 0.1 0.9 0.2 1-0.1 1-0.5 0.9-1 1-0.3 1-0.3 1 0.5 0.9 0.2 1-0.1 1-0.4 1-0.5 0.9-0.4 1-0.2 1-0.1 0.9 0.2 1-0.4 1-0.4 1-0.2 0.9 0 1-0.1 1-0.2 1-0.3 0.9 0 1-0.1 1 0.1 0.9 0.1 1-0.1 1-0.1 1-0.1 0.9-0.1 1-0.2 1-0.3 0.9 0.2 1-0.1 1 0.2 1-0.5 0.9-0.3 1-0.5 1-0.2 1 0.1 0.9-0.2 1 0.3 1-0.1 0.9 0 1-0.1 1-0.3 1-0.2 0.9 0.1 1 0.2 1 0.2 1-0.5 0.9-0.2 1-0.1 1-0.3 0.9 0.2 1-0.3 1 0.5 1 0.1 0.9 0.1 1-0.2 1-0.3 0.9-0.3 1-0.2 1-0.1 1 0 0.9-0.2 1-0.2 1 0.1 1-0.2 0.9-0.1 1-0.1 1 0.4 0.9 0.1 1 0 1-0.2 1-0.3 0.9-0.1 1 0.3 1 0 1-0.1 0.9-0.1 1-0.1 1 0.2 0.9 0.1 1-0.3 1-0.4 1 0 0.9 0.1 1 0.2 1-0.2 1 0.1 0.9-0.2 1 0.3 1 0 0.9-0.1 1-0.4 1-0.2 1 0 0.9 0.3 1 0.2 1 0.2 1-0.2 0.4-14.4 1.5 18.2 1.5-3.9 0 0.5 0.1 0.3 0.1 0.2 0.1 0.1 0.1 0.1 0 0.1 1 0 1 0 1-0.2 0.9 0.5 1 0.3 1-0.1 0.9-0.5 1-0.4 1 0.2 1-0.1 0.9 0.4 1-0.2 1 0.4 1-0.3 0.9 0 1-0.3 1 0.1 0.9 0.4 1 0 1-0.2 1 0 0.9 0.1 1-0.1 1-0.1 1-0.2 0.9 0.1 1 0 1 0 0.9 0.1 1-0.1 1-0.1 1 0.1 0.9 0.3 1-0.1 1 0.2 0.9-0.1 1 0.2 1-0.3 1-0.3 0.9-0.1 1 0.1 1 0.3 1-0.1 0.9 0 1 0 1 0 0.9 0.2 1-0.4 1 0 1 0.1 0.9 0.2 1 0 1-0.3 1 0.2 0.9-0.3 1-0.1 1 0.2 0.9 0.4 1 0.2 1-0.4 1 0.1 0.9-0.2 1-0.1 1 0.1 1 0.2 0.9 0.2 1-0.3 1-0.1 0.9 0.2 1 0-0.5-2.3 0.7-3.3 0.6 10 0.6-7.8 0.6 12.3 0.5-10.6 0.8 5.2 0.8-3.6-2.1-0.4 0.9 0 1 0.1 1-0.3 1 0.2 0.9 0.1 1 0.3 1 0.1 0.9 0.1 1 0 1-0.2 1-0.3 0.9 0.4 1 0.2 1 0.4 0.9-0.2 1 0.1 1-0.1 1 0.1 0.9-0.4 1-0.2 1 0 1-0.2 0.9-0.2 1 0 1 0 0.9 0.2 1 0.1 1 0.1 1 0 0.9-0.2 1 0.3 1-0.2 1 0 0.9-0.3 1 0.2 1 0.3-0.5-1.3 0.7-2.6 0.5 8 0.6-6.2 0.6 9.8 0.6-8.5 0.8 4.2 0.8-2.9-2.2 0.2 1-0.2 1-0.5 0.9 0.1 1-0.2 1-0.1 0.9-0.1" fill="none" stroke="#b31aff" stroke-width="3" stroke-linejoin="round" stroke-linecap="round"/>
<path d="M953.8 1378.5l0.9-0.2 1 0 1-0.2 0.9-0.3 1 0 1-0.4 1 0.4 0.9 0 1 0.7 1-0.1 0.9-0.5 1 0 1 0 1 0.3 0.9-0.1 1 0.1 1 0.3 1 0 0.9 0 1-0.5 1 0.3 0.9 0 1 0.1 1-0.5 1 0.5 0.9 0 1 0.4 1-0.7 1-0.1 0.9-0.3 1 0.2 1-0.1 0.9 0.3 1 0 1 0.2 1-0.2 0.9-0.2 1-0.3 1 0.3 0.9 0.1 1 0.5 1-0.1 1 0.5 0.9-0.4 1-0.1 1-0.4 1 0.3 0.9 0.2 1-0.2 1-0.2 0.9-0.3 1 0.6 1-0.2 1 0 0.9-0.6 1 0.3 1-0.1 1 0.2 0.9 0 1 0.6 1 0.1 0.9 0 1 0 1 0 1 0.1 0.9-0.4 1-0.3 1 0 1 0 0.9 0.4 1-0.2 1 0 0.9-0.4 1 0.2 1 0 1 0.1 0.9 0 1 0.4 1 0.1 1 0.2 0.9-0.5 1-0.2 1-0.2 0.9 0.1 1 0.5 1-0.3 1 0 0.9-0.4 1 0 1-0.1 0.9 0 1 0.1 1 0.4 1 0.3 0.9 0.1 1-0.1 1-0.4 1 0.1 0.9-0.2 1 0.1 1 0.1 1.4 18.2 1.5-5.2 1-2.2 0.9-5.8 1-6 1-5.7 1-5.1 0.9-5.1 1-5.2 1-5.1 0.9-4.7 1-4.1 1-3.6 1-3 0.9-2.3 1-1.8 1-1.8 0.9-1.7 1-1.7 1-1.9 1-1.8 0.9-2.1 1-1.3 1-1.7 1-1.8 0.9-1.9 1-1.3 1-1.3 0.9-1.3 1-1.3 1-1 1-0.9 0.9-1.4 1-1.2 1-1.1 1-1 0.9-1.1 1-1.4 1-0.9 0.9-0.8 1-0.9 1-0.8 1-0.8 0.9-0.8 1-1 1-1 1-1 0.9-0.8 1-1 1-0.9 0.9-0.8 1-0.8 1-0.6 1-1 0.9-0.7 1-1 1-0.6 1-0.7 0.9-0.5 1-1 1-0.9 0.9-0.9 1-0.8 1-0.5 1-0.8 0.9-1.2 1-0.9 1-0.7 0.9-0.2 1-1.1 1-0.4 1-0.8 0.9-0.3 1-1 1-0.6 1-0.5 0.9-0.4 1-0.9 1-1 0.9-0.5 1-0.4 1-0.3 1-0.7 0.9-0.4 1-0.6 1-0.5 1-0.6 0.9-0.8 1-0.6 1-1 0.9-0.2 1-0.6 1-0.2 1-0.6 0.9-0.3 1-0.5 1-0.6 0.9-0.7 1-0.7 1-0.6 1-0.7 0.9-0.5 1-0.5 1-0.5 1-0.4 0.9-0.5 1-0.2 1-0.3 0.9-0.1 1-0.7 1-0.5 1-0.7 0.9-0.5 1-0.6 1-0.5 1-0.4 0.9-0.6 1-0.5 1-0.7 0.9 0 1-0.7 1-0.5 1-0.7 0.9-0.3 1 0 1-0.7 1-0.3 0.9-0.6 1-0.1 1-0.4 0.9-0.5 1-0.6 1-0.3 1-0.5 0.9-0.3 1-0.5 1-0.3 1-0.3 0.9-0.1 1-0.6 1-0.4 0.9-0.5 1-0.3 1-0.7 1-0.5 0.9-0.1 1-0.1 1-0.4 0.9-0.1 1-0.3 1-0.3 1-0.8 0.9-0.3 1-0.3 1-0.6 1-0.6 0.9-0.8 1 0.1 1-0.4 0.9 0.1 1-0.7 1-0.2 1-0.3 0.9 0 1-0.3 1-0.3 1-0.6 0.9-0.4 1-0.1 1-0.5 0.9-0.1 1-0.8 1-0.2 1-0.5 0.9-0.3 1-0.5 1-0.5 0.9-0.2 1 0.1 1-0.1 1-0.4 0.9-0.4 1-0.7 1-0.4 1-0.4 0.9 0.1 1-0.3 1 0 0.9-0.6 1-0.2 1-0.6 1-0.2 0.9 0.1 1-0.1 1-0.2 1-0.3 0.9 0 1-0.4 1-0.3 0.9-0.5 1-0.1 1-0.2 1 0 0.9-0.5 1-0.3 1 0.1 1-0.2 0.9-0.2 1-0.3 1-0.1 0.9 0.1 1-0.3 1 0.2 1-0.2 0.9 0 1 0.1 1-0.3 1-0.4 0.9-0.4 1 0 1 0.2 0.9-0.2 1 0 1-0.1 1 0.2 0.9-0.1 1-0.4 1-0.5 0.9-0.1 1-0.1 1 0.1 1 0 0.9-0.3 1 0 1-0.3 1 0 0.9-0.1 1 0.1 1 0.2 0.9-0.2 1-0.2 1-0.4 1 0 0.9-0.1 1 0.2 1 0.1 1 0 0.9-0.1 1-0.3 1-0.4 0.9-0.3 1 0 1 0 1 0.3 0.9-0.1 1 0 1-0.1 0.9-0.1 1 0.1 1-0.1 1-0.2 0.9 0.1 1-0.1 1 0.2 1-0.6 0.9-0.1 1-0.1 1 0.3 0.9 0.1 1 0 1-0.2 1 0 0.9-0.1 1 0.1 1 0 1 0 0.9-0.1 1-0.1 1-0.1 0.9 0.1 1 0.1 1 0.2 1-0.2 0.9-0.2 1 0.1 1-0.2 1-0.3 0.9-0.3 1 0.1 1 0.2 0.9 0 1 0 1 0.1 1 0.1 0.9 0.1 1-0.2 1-0.2 1-0.1 0.4-15 1.5 18.2 1.5-3.9 0 0.3 0.1 0.2 0.1 0 0.1 0.1 0.1 0 0-0.4 1-0.1 1 0.1 1 0.4 0.9 0.3 1-0.2 1-0.2 0.9-0.2 1 0 1 0.2 1 0.1 0.9 0.1 1-0.1 1-0.1 1 0.2 0.9 0 1-0.1 1 0.1 0.9-0.1 1 0.3 1-0.2 1 0.2 0.9 0 1-0.1 1-0.3 1 0 0.9 0 1 0.3 1 0.1 0.9 0 1 0 1-0.1 1 0 0.9-0.4 1-0.2 1-0.2 0.9 0.2 1 0.2 1 0.4 1-0.1 0.9-0.2 1-0.2 1 0 1 0.1 0.9 0 1 0 1 0.2 0.9 0 1 0.1 1-0.1 1-0.4 0.9 0 1 0.1 1 0.2 1 0 0.9-0.1 1 0.2 1-0.2 0.9-0.1 1-0.3 1 0.3 1 0 0.9 0.3 1-0.1 1 0 1 0 0.9-0.3 1 0.2 1-0.3 0.9 0 1-0.1-0.5-2.4 0.7-3.9 0.6 11.7 0.6-9.1 0.6 14.3 0.5-12.4 0.8 6.1 0.8-4.2-2.1-0.1 0.9-0.2 1 0.3 1 0.2 1-0.1 0.9-0.2 1 0.2 1 0.1 0.9 0.2 1 0 1-0.1 1-0.2 0.9 0 1 0.1 1 0 0.9 0 1-0.1 1-0.1 1-0.2 0.9 0.2 1-0.2 1 0.3 1-0.3 0.9 0.3 1-0.4 1 0.2 0.9 0 1-0.1 1 0.1 1 0.1 0.9 0.1 1-0.3 1 0.1 1 0.3 0.9 0.1 1-0.4 1-0.2-0.5-1.9 0.7-3.1 0.5 9.3 0.6-7.2 0.6 11.4 0.6-9.9 0.8 4.9 0.8-3.4-2.2-0.1 1-0.1 1-0.2 0.9 0.4 1 0.1 1 0.1 0.9-0.1" fill="none" stroke="#19c819" stroke-width="3" stroke-linejoin="round" stroke-linecap="round"/>
<path d="M953.8 1378.1l0.9-0.1 1-0.2 1 0.2 0.9-0.3 1 0.4 1-0.2 1 0.4 0.9 0 1-0.3 1 0.2 0.9-0.3 1-0.2 1-0.1 1 0.1 0.9 0.1 1-0.2 1 0.2 1 0.5 0.9 0.2 1-0.1 1-0.3 0.9 0.1 1 0.2 1 0 1-0.4 0.9-0.1 1 0.2 1 0.3 1 0 0.9-0.1 1-0.1 1-0.3 0.9 0.1 1-0.1 1-0.1 1-0.1 0.9 0.1 1 0 1 0 0.9 0 1 0.5 1-0.2 1 0.6 0.9-0.5 1 0.2 1-0.3 1 0.7 0.9 0.1 1 0.2 1-0.4 0.9-0.2 1-0.4 1-0.2 1 0.2 0.9 0.3 1-0.4 1-0.2 1 0 0.9 0.3 1 0 1-0.4 0.9 0 1 0.3 1-0.2 1 0.4 0.9-0.1 1 0.3 1 0.2 1 0.1 0.9-0.1 1 0 1-0.5 0.9 0.2 1-0.3 1 0 1-0.1 0.9-0.1 1 0.2 1 0.4 1 0.3 0.9-0.2 1-0.1 1 0.1 0.9 0.2 1-0.1 1-0.1 1 0 0.9-0.3 1 0.1 1 0 0.9 0.5 1-0.5 1-0.2 1-0.2 0.9-0.3 1 0.3 1-0.2 1 0.7 0.9-0.2 1 0.2 1-0.1 1.4 15.6 1.5-5.2 1-4 0.9-5.2 1-5.8 1-5.9 1-6.8 0.9-6.7 1-7.6 1-7.1 0.9-7.3 1-6.3 1-5.7 1-4.6 0.9-3.8 1-3.4 1-3 0.9-2.6 1-2.5 1-2.5 1-2.2 0.9-2.3 1-1.8 1-2.4 1-2 0.9-1.8 1-1.7 1-1.5 0.9-2 1-1.6 1-1.6 1-1.4 0.9-1.2 1-1.5 1-1.5 1-1.2 0.9-1.4 1-1 1-1.7 0.9-0.9 1-0.9 1-0.9 1-1.3 0.9-1.4 1-1 1-0.9 1-0.9 0.9-1.1 1-1.2 1-0.8 0.9-1 1-0.8 1-0.9 1-0.6 0.9-1.1 1-0.9 1-1 1-0.7 0.9-0.8 1-0.7 1-0.5 0.9-0.6 1-0.6 1-1.1 1-0.8 0.9-1 1-0.6 1-0.7 0.9-0.7 1-0.8 1-0.9 1-0.5 0.9-0.8 1-0.6 1-0.6 1-0.7 0.9-0.4 1-0.7 1-0.5 0.9-1.1 1-0.5 1-0.6 1-0.4 0.9-0.7 1-0.5 1-0.6 1-0.5 0.9-0.6 1-0.5 1-0.5 0.9-0.7 1-0.6 1-1 1-0.5 0.9-0.5 1-0.1 1-0.3 0.9-0.9 1-0.4 1-0.4 1 0 0.9-0.7 1-0.7 1-0.5 1-0.3 0.9-0.4 1-0.7 1-0.5 0.9-0.5 1-0.1 1-0.3 1-0.3 0.9-0.4 1-0.6 1-0.3 1-0.5 0.9-0.2 1-0.7 1-0.3 0.9-0.6 1-0.3 1-0.3 1-0.5 0.9-0.4 1-0.4 1-0.2 1-0.4 0.9-0.6 1-0.6 1-0.6 0.9 0.1 1-0.4 1-0.3 1-0.6 0.9-0.3 1-0.5 1-0.1 1-0.1 0.9-0.3 1-0.5 1-0.6 0.9 0.1 1-0.1 1-0.2 1-0.6 0.9-0.5 1-0.4 1-0.1 0.9-0.4 1-0.4 1-0.8 1-0.2 0.9-0.2 1-0.2 1-0.1 1-0.7 0.9 0.1 1-0.6 1 0.1 0.9-0.4 1-0.4 1-0.6 1-0.7 0.9-0.5 1-0.1 1-0.1 1 0.1 0.9-0.5 1-0.6 1-0.4 0.9-0.5 1-0.2 1-0.3 1-0.3 0.9-0.3 1-0.4 1-0.3 0.9-0.2 1 0 1-0.3 1 0 0.9-0.5 1-0.3 1-0.5 1-0.3 0.9-0.4 1-0.7 1-0.4 0.9-0.2 1 0 1-0.1 1-0.1 0.9-0.4 1-0.5 1-0.2 1 0.2 0.9-0.2 1-0.2 1-0.8 0.9-0.1 1-0.5 1 0.1 1-0.2 0.9-0.1 1-0.6 1-0.3 1-0.2 0.9-0.2 1 0 1-0.1 0.9 0.1 1-0.4 1 0 1-0.2 0.9-0.1 1 0 1 0.1 1 0 0.9-0.4 1-0.3 1-0.4 0.9 0 1-0.4 1-0.1 1-0.3 0.9-0.2 1 0 1-0.3 0.9 0.3 1 0.1 1 0 1-0.8 0.9-0.4 1-0.2 1 0.1 1-0.1 0.9-0.1 1-0.2 1-0.3 0.9 0.1 1 0.2 1-0.2 1 0.1 0.9-0.1 1 0.2 1-0.4 1-0.3 0.9-0.3 1 0 1-0.2 0.9-0.2 1 0.1 1 0 1 0.1 0.9-0.2 1 0 1 0.1 0.9 0 1 0.1 1-0.2 1 0.1 0.9-0.1 1 0 1-0.2 1-0.2 0.9-0.3 1-0.3 1-0.1 0.9-0.1 1-0.2 1-0.2 1 0 0.9 0.4 1 0 1-0.1 1-0.4 0.9 0.2 1 0.2 1 0.2 0.9-0.5 1-0.3 1-0.1 1 0.6 0.9 0.1 1-0.1 1-0.7 1-0.2 0.9 0.2 1 0.2 1 0.3 0.9-0.1 1-0.1 1-0.1 1 0.2 0.9 0.2 1-0.2 1-0.2 1-0.1 0.4-13.7 1.5 16.9 1.5-3.9 0 0.5 0.1 0.3 0.1 0.2 0.1 0.1 0.1 0.1 0-0.2 1 0 1 0.1 1 0.3 0.9 0.2 1-0.4 1 0.3 0.9-0.2 1 0.2 1-0.5 1 0 0.9 0.1 1 0.1 1 0.1 1-0.1 0.9 0.1 1-0.3 1 0.2 0.9 0.4 1 0 1-0.1 1-0.4 0.9 0.1 1-0.1 1 0.2 1 0 0.9 0.1 1 0.2 1 0.2 0.9-0.1 1-0.3 1-0.1 1 0.2 0.9 0.2 1 0.1 1 0.1 0.9-0.1 1-0.1 1-0.1 1-0.1 0.9 0.1 1-0.2 1 0 1 0 0.9 0.2 1 0 1 0.3 0.9-0.1 1 0.2 1-0.3 1 0 0.9-0.4 1 0.3 1 0.1 1 0.3 0.9-0.2 1 0.2 1-0.1 0.9 0.1 1-0.2 1 0.3 1 0.3 0.9 0.5 1-0.1 1-0.1 1-0.4 0.9-0.4 1 0.3 1-0.3 0.9 0.2 1-0.2-0.5-2.3 0.7-3.9 0.6 11.6 0.6-9 0.6 14.3 0.5-12.4 0.8 6.1 0.8-4.2-2.1-0.3 0.9 0 1 0.3 1 0.1 1 0.1 0.9-0.1 1 0.1 1 0.1 0.9-0.3 1 0.1 1-0.3 1 0.5 0.9-0.2 1 0 1 0 0.9 0.1 1 0.1 1-0.2 1 0.2 0.9-0.1 1 0.2 1 0 1 0.3 0.9-0.2 1-0.2 1-0.2 0.9 0.1 1 0.1 1-0.1 1-0.1 0.9 0.1 1 0.4 1 0 1-0.2 0.9-0.1 1 0.2 1 0.1-0.5-2.2 0.7-3.1 0.5 9.3 0.6-7.2 0.6 11.4 0.6-9.9 0.8 4.9 0.8-3.4-2.2-0.2 1 0.2 1 0.3 0.9 0.1 1-0.4 1-0.2 0.9 0.1" fill="none" stroke="#ff1a1a" stroke-width="3" stroke-linejoin="round" stroke-linecap="round"/>
<line x1="954.8" y1="1117.4" x2="954.8" y2="1445.4" stroke="#1c1c1c" stroke-width="4.2"/>
<line x1="952.8" y1="1443.4" x2="1460" y2="1443.4" stroke="#1c1c1c" stroke-width="4.2"/>
<line x1="944.3" y1="1378.3" x2="954.8" y2="1378.3" stroke="#1c1c1c" stroke-width="3.6"/>
<text x="927.9" y="1388.7" font-size="23.5" font-weight="bold" textLength="14.4" lengthAdjust="spacingAndGlyphs">0</text>
<line x1="944.3" y1="1248.1" x2="954.8" y2="1248.1" stroke="#1c1c1c" stroke-width="3.6"/>
<text x="899" y="1258.5" font-size="23.5" font-weight="bold" textLength="43.1" lengthAdjust="spacingAndGlyphs">100</text>
<line x1="944.3" y1="1117.9" x2="954.8" y2="1117.9" stroke="#1c1c1c" stroke-width="3.6"/>
<text x="899" y="1128.3" font-size="23.5" font-weight="bold" textLength="43.1" lengthAdjust="spacingAndGlyphs">200</text>
<line x1="953.8" y1="1443.4" x2="953.8" y2="1453.6" stroke="#1c1c1c" stroke-width="3.6"/>
<text x="960.4" y="1466.6" font-size="24" font-weight="bold" text-anchor="end" textLength="50.9" lengthAdjust="spacingAndGlyphs" transform="rotate(-45 960.4 1466.6)">-100</text>
<line x1="1051" y1="1443.4" x2="1051" y2="1453.6" stroke="#1c1c1c" stroke-width="3.6"/>
<text x="1057.6" y="1466.6" font-size="24" font-weight="bold" text-anchor="end" textLength="14.1" lengthAdjust="spacingAndGlyphs" transform="rotate(-45 1057.6 1466.6)">0</text>
<line x1="1148.2" y1="1443.4" x2="1148.2" y2="1453.6" stroke="#1c1c1c" stroke-width="3.6"/>
<text x="1154.8" y="1466.6" font-size="24" font-weight="bold" text-anchor="end" textLength="42.4" lengthAdjust="spacingAndGlyphs" transform="rotate(-45 1154.8 1466.6)">100</text>
<line x1="1245.5" y1="1443.4" x2="1245.5" y2="1453.6" stroke="#1c1c1c" stroke-width="3.6"/>
<text x="1252.1" y="1466.6" font-size="24" font-weight="bold" text-anchor="end" textLength="42.4" lengthAdjust="spacingAndGlyphs" transform="rotate(-45 1252.1 1466.6)">200</text>
<line x1="1342.8" y1="1443.4" x2="1342.8" y2="1453.6" stroke="#1c1c1c" stroke-width="3.6"/>
<text x="1349.3" y="1466.6" font-size="24" font-weight="bold" text-anchor="end" textLength="42.4" lengthAdjust="spacingAndGlyphs" transform="rotate(-45 1349.3 1466.6)">300</text>
<line x1="1440" y1="1443.4" x2="1440" y2="1453.6" stroke="#1c1c1c" stroke-width="3.6"/>
<text x="1446.6" y="1466.6" font-size="24" font-weight="bold" text-anchor="end" textLength="42.4" lengthAdjust="spacingAndGlyphs" transform="rotate(-45 1446.6 1466.6)">400</text>
<text x="882.9" y="1368.3" font-size="26.3" font-weight="bold" textLength="179.4" lengthAdjust="spacingAndGlyphs" transform="rotate(-90 882.9 1368.3)">Responce (RU)</text>
<text x="1158.1" y="1540.9" font-size="24.4" font-weight="bold" textLength="98.2" lengthAdjust="spacingAndGlyphs">Time (s)</text>
<line x1="1520.4" y1="1135.7" x2="1550.3" y2="1135.7" stroke="#ff1a1a" stroke-width="4" stroke-linecap="round" opacity="0.85"/>
<text x="1564.8" y="1142.2" font-size="18.9" fill="#333" textLength="61.4" lengthAdjust="spacingAndGlyphs" stroke="#333" stroke-width="0.45">40 µM</text>
<line x1="1520.4" y1="1166.1" x2="1550.3" y2="1166.1" stroke="#19c819" stroke-width="4" stroke-linecap="round" opacity="0.85"/>
<text x="1564.8" y="1172.6" font-size="18.9" fill="#333" textLength="61.4" lengthAdjust="spacingAndGlyphs" stroke="#333" stroke-width="0.45">30 µM</text>
<line x1="1520.4" y1="1196.5" x2="1550.3" y2="1196.5" stroke="#b31aff" stroke-width="4" stroke-linecap="round" opacity="0.85"/>
<text x="1564.8" y="1203" font-size="18.9" fill="#333" textLength="61.4" lengthAdjust="spacingAndGlyphs" stroke="#333" stroke-width="0.45">20 µM</text>
<line x1="1520.4" y1="1226.9" x2="1550.3" y2="1226.9" stroke="#ff8c1a" stroke-width="4" stroke-linecap="round" opacity="0.85"/>
<text x="1564.8" y="1233.4" font-size="19.1" fill="#333" textLength="61.4" lengthAdjust="spacingAndGlyphs" stroke="#333" stroke-width="0.45">15 µM</text>
<line x1="1520.4" y1="1257.3" x2="1550.3" y2="1257.3" stroke="#111111" stroke-width="4" stroke-linecap="round" opacity="0.85"/>
<text x="1564.8" y="1263.8" font-size="18.9" fill="#333" textLength="61.4" lengthAdjust="spacingAndGlyphs" stroke="#333" stroke-width="0.45">10 µM</text>
<line x1="1520.4" y1="1287.7" x2="1550.3" y2="1287.7" stroke="#a0631e" stroke-width="4" stroke-linecap="round" opacity="0.85"/>
<text x="1564.8" y="1294.2" font-size="19.1" fill="#333" textLength="48.6" lengthAdjust="spacingAndGlyphs" stroke="#333" stroke-width="0.45">5 µM</text>
<rect x="1479.8" y="1320.4" width="158.8" height="118.1" fill="none" stroke="#3a3a3a" stroke-width="3" rx="2.5"/>
<text x="1489.7" y="1354" font-size="25.5" font-weight="bold" textLength="18.4" lengthAdjust="spacingAndGlyphs">K</text>
<text x="1510" y="1361.8" font-size="19.5" font-weight="bold" textLength="15" lengthAdjust="spacingAndGlyphs">D</text>
<text x="1529.7" y="1352.8" font-size="26" font-weight="bold" textLength="16.3" lengthAdjust="spacingAndGlyphs">=</text>
<text x="1554" y="1354.7" font-size="27.2" font-weight="bold" textLength="29.8" lengthAdjust="spacingAndGlyphs">14</text>
<text x="1588.3" y="1355.5" font-size="21.5" fill="#555" textLength="14.4" lengthAdjust="spacingAndGlyphs">µ</text>
<text x="1605.7" y="1354" font-size="25.5" font-weight="bold" textLength="22.1" lengthAdjust="spacingAndGlyphs">M</text>
<text x="1489.7" y="1422.8" font-size="25.7" font-weight="bold" textLength="39.4" lengthAdjust="spacingAndGlyphs">RU</text>
<text x="1531" y="1413.6" font-size="20.1" font-weight="bold" textLength="10.9" lengthAdjust="spacingAndGlyphs">2</text>
<text x="1547.2" y="1422.2" font-size="26" font-weight="bold" textLength="15.2" lengthAdjust="spacingAndGlyphs">=</text>
<text x="1570.2" y="1423.2" font-size="25.9" font-weight="bold" textLength="15.9" lengthAdjust="spacingAndGlyphs">8</text>
<text x="65" y="1610.6" font-size="71.3" font-weight="bold" textLength="53.8" lengthAdjust="spacingAndGlyphs">G</text>
<text x="308.2" y="1616.6" font-size="31.3" font-weight="bold" textLength="77" lengthAdjust="spacingAndGlyphs">FP16</text>
<line x1="195.2" y1="1626.7" x2="195.2" y2="1950.1" stroke="#000" stroke-width="2.6" stroke-dasharray="2.8 4.95"/>
<line x1="447.7" y1="1626.7" x2="447.7" y2="1950.1" stroke="#000" stroke-width="2.6" stroke-dasharray="2.8 4.95"/>
<line x1="197.2" y1="1886" x2="599.2" y2="1886" stroke="#a8a8a8" stroke-width="2.2"/>
<path d="M94.2 1886.8l1 0 1-0.8 1-0.4 1 0.2 1 0.5 1.1 0.4 1-0.1 1-0.3 1-0.7 1-0.2 1 0.1 1 0.5 1 0.3 1 0 1.1 0.2 1-0.1 1 0.3 1-0.4 1 0.1 1-0.2 1 0.2 1-0.2 1-0.1 1-0.6 1-0.1 1.1 0.2 1 0.5 1 0 1-0.4 1 0 1 0.1 1 0.4 1-0.2 1 0.1 1 0.3 1.1-0.1 1 0.4 1-0.7 1 0.3 1-0.5 1 0.4 1-0.1 1 0.1 1-0.3 1-0.2 1.1-0.1 1 0.1 1 0.1 1 0.2 1-0.2 1 0 1 0 1-0.1 1 0.1 1.1 0.1 1 0.4 1 0.4 1 0.1 1-0.1 1-0.1 1 0.1 1 0.2 1-0.2 1-0.3 1-0.3 1.1-0.1 1 0 1 0.3 1-0.1 1 0.4 1-0.5 1-0.1 1-0.3 1 0.4 1.1 0.2 1 0 1-0.5 1-0.4 1 0.1 1 0.4 1 0.3 1-0.3 1-0.2 1-0.1 1 0.3 1.1 0.8 1 0.2 1-0.3 1-0.6 1 0 1 0 1 0 1 0 1 0 1-0.2 1.1 0 1-0.1 1 0.2 1-0.1 1 0.2 1 0 1 2.6 4.1-3.6 1 0.2 1-0.1 1-0.2 1-0.4 1-0.3 1 0.2 1 0.1 1 0.4 1.1-0.3 1 0.1 1-0.2 1 0.4 1-0.3 1 0 1-0.3 1 0.3 1 0 1 0.2 1-0.2 1.1 0.3 1 0 1 0.1 1-0.1 1 0 1 0 1-0.1 1-0.4 1 0 1.1-0.1 1 0.2 1-0.2 1 0.1 1 0 1 0.2 1 0.2 1 0.3 1-0.1 1-0.3 1-0.6 1.1 0.3 1-0.1 1 0.3 1-0.3 1 0.2 1 0.1 1 0.2 1-0.1 1 0 1.1-0.4 1 0 1-0.1 1 0.5 1-0.1 1-0.1 1-0.4 1 0.1 1 0.2 1-0.1 1-0.1 1.1-0.3 1 0 1-0.2 1 0.2 1 0.1 1-0.2 1-0.1 1-0.3 1 0.3 1.1-0.1 1 0.2 1 0.1 1-0.1 1 0 1 0 1-0.3 1-0.1 1-0.3 1 0.3 1-0.3 1.1 0.2 1-0.2 1 0 1 0 1-0.3 1-0.1 1 0.1 1 0.4 1 0.1 1.1-0.3 1-0.4 1 0 1 0 1 0 1-0.3 1 0 1-0.3 1 0.4 1 0 1 0.1 1.1-0.3 1-0.2 1 0.2 1-0.3 1 0.1 1-0.2 1 0.1 1 0.1 1-0.4 1.1 0.2 1-0.2 1 0.2 1 0 1 0.1 1 0.1 1 0 1 0 1-0.3 1-0.4 1-0.3 1.1-0.1 1 0.2 1-0.2 1 0.3 1-0.2 1 0.1 1-0.1 1-0.1 1 0.1 1 0.1 1.1 0 1-0.3 1-0.2 1 0 1-0.3 1 0 1 0 1 0.4 1 0.1 1 0.1 1.1-0.2 1-0.2 1-0.2 1-0.2 1-0.2 1-0.1 1 0.1 1 0 1 0.1 1.1-0.2 1 0.1 1-0.4 1 0 1 0.1 1-0.1 1 0 1-0.3 1 0.1 1-0.1 1 0.1 1.1 0 1-0.3 1 0 1-0.2 1-0.3 1 0.1 1 0.1 1 0.4 1-0.3 1.1-0.3 1 0 1 0 1 0.2 1-0.2 1-0.1 1-0.4 1-0.2 1-0.4 1 0.1 1 0 1.1 0.1 1 0 1 0.2 1 0.1 1-0.4 1 0 1-0.3 1 0.2 1-0.2 1.1 0 1 0.1 1-0.2 1 0 1-0.4 1 0 1-0.1 1 0.3 1-0.1 1-0.2 1-0.2 1.1-0.1 1 0.5 1 0 1-0.1 1-0.5 1 0.2 1-0.1 1 0 1-0.1 1.1 0.1 1-0.3 1-0.5 1-0.2 1 0.3 1-0.1 1 0.3 1-0.3 1 0.1 1-0.1 1 0.2 1.1-0.2 1-0.1 1 0 1 0.3 1-0.1 1-0.2 1-0.2 1 0 1 0.2 1.1-0.1 1-0.1 1-0.2 1-0.3 1 0 1-0.1 1 0.3 1 0.1 1 0.1 1-0.2 1-0.2 1.1 0.1 1 0.2 1 0 1 0.1 1-0.1 0.5-0.7 1.5 22.1 2-16.9 0.2-1 0.2-0.7 0.1-0.3 0.2-0.3 0.2-0.1 0.2-0.1 1-0.4 1-0.6 1-0.6 1-0.5 1-0.3 1-0.4 1-0.6 1 0 1-0.6 1 0 1.1-0.5 1-0.2 1-0.1 1-0.4 1-0.1 1-0.4 1 0.3 1 0.1 1 0.3 1.1-0.3 1 0 1-0.3 1 0.3 1-0.4 1 0.2 1-0.8 1 0 1-0.3 1 0.3 1 0.1 1.1 0.1 1 0.2 1 0.4 1-0.2 1-0.4 1-0.3 1 0 1 0.2 1 0 1.1-0.3 1 0.1 1-0.1 1 0.1 1-0.6 1-0.1 1 0.1 1 0.2 1 0.1 1-0.2 1-0.2 1.1 0 1 0 1 0.2 1-0.3 1 0 1 0.2 1 0.2 1 0 1-0.3 1-0.2 1.1 0.2 1-0.1 1-0.2 1-0.1 1 0.2 1 0.1 1-0.3 1-0.1 1 0 1 0.3 1.1 0 1 0.1 1 0.2 1 0.2 1 0.2 1-0.3 1-0.1 1-0.1 1-0.4 1.1 0.1 1 0 1 0.1 1 0 1-0.2 1-0.1 1-0.1 1 0.2 1 0.2 1 0.2 1 0.3 1.1-0.1 1-0.2 1-0.1 1 0 1-0.1 1 0 1 0 1 0.4 1-0.2 1.1 0.2 1-0.2 1-0.1 1-0.1 1 0.3 1 0.1 1-0.1 1-0.1 1 0.2 1-0.1 1-0.1 1.1-0.1 1 0.4 1 0.2 1 0.1 1-0.3 1 0 1-0.3 1-0.2 1-0.3 1.1 0.2 1 0.1 1-0.1 1 0.2 1-0.1 1 0.2 1 0 1 0.2 1-0.2 1-0.2 1 0 1.1 0 1 0 1 0.2 1 0.1 1-0.1 1-0.1 1-0.3 1 0 1 0 1.1 0 1 0.3 1-0.3 1 0 1-0.2 1 0.3" fill="none" stroke="#a0631e" stroke-width="3" stroke-linejoin="round" stroke-linecap="round"/>
<path d="M94.2 1886.2l1 0.1 1-0.3 1 0.5 1-0.1 1 0.5 1.1 0 1-0.5 1-0.5 1-0.2 1 0.6 1 0.2 1-0.3 1-0.3 1-0.1 1.1 0.2 1 0 1-0.1 1 0 1-0.3 1 0 1 0.4 1 0.3 1-0.1 1-0.6 1 0.1 1.1-0.1 1 0.3 1-0.4 1-0.1 1 0.1 1 0.5 1-0.1 1 0 1-0.1 1-0.1 1.1 0.1 1-0.1 1 0.3 1-0.3 1-0.1 1 0.2 1 0.1 1-0.3 1 0 1 0.2 1.1 0.4 1-0.2 1 0 1-0.2 1 0.2 1 0.2 1 0.2 1 0.1 1-0.1 1.1-0.2 1 0 1 0 1 0.1 1 0.1 1-0.5 1-0.3 1-0.1 1 0.6 1 0.2 1-0.2 1.1-0.2 1 0 1 0.2 1 0.2 1-0.1 1-0.1 1 0 1-0.2 1 0.4 1.1 0.1 1 0 1-0.4 1-0.2 1 0.2 1 0.2 1-0.1 1 0.1 1 0 1-0.2 1-0.1 1.1 0 1 0.5 1-0.4 1 0 1-0.1 1 0.6 1-0.2 1 0.3 1-0.2 1 0.1 1.1-0.2 1 0 1-0.2 1-0.5 1 0 1 0.4 1 3.9 1-9.1 3.1 1.3 1 0.2 1 0.6 1 0.3 1 0.1 1-0.2 1 0.1 1 0.3 1 0.1 1.1-0.1 1 0 1 0 1-0.1 1 0 1 0.1 1-0.5 1-0.4 1-0.2 1 0.4 1 0.1 1.1-0.5 1-0.2 1-0.2 1 0.2 1-0.1 1-0.2 1-0.3 1-0.2 1-0.2 1.1-0.2 1-0.4 1-0.5 1-0.1 1 0.1 1 0 1-0.3 1-0.1 1-0.2 1-0.1 1-0.2 1.1-0.2 1-0.3 1-0.6 1-0.4 1-0.3 1 0.2 1 0.1 1 0.1 1-0.2 1.1-0.2 1-0.4 1-0.3 1-0.1 1-0.2 1-0.2 1-0.6 1 0 1-0.2 1 0.2 1-0.4 1.1-0.5 1-0.5 1-0.1 1-0.5 1-0.3 1-0.6 1 0 1-0.3 1-0.4 1.1-0.3 1-0.3 1-0.6 1 0 1-0.3 1-0.1 1-0.8 1-0.3 1-0.2 1-0.5 1-0.2 1.1-0.2 1 0.1 1-0.1 1-0.2 1 0 1-0.5 1-0.2 1-0.1 1-0.1 1.1-0.4 1-0.6 1-0.5 1-0.3 1-0.3 1 0.2 1-0.3 1-0.1 1-0.5 1 0 1-0.4 1.1 0.1 1 0 1-0.2 1-0.1 1-0.6 1 0.1 1-0.4 1 0 1-0.3 1.1-0.2 1-0.3 1-0.4 1-0.1 1-0.2 1-0.1 1-0.3 1-0.1 1-0.1 1-0.3 1 0 1.1-0.4 1 0 1-0.4 1-0.6 1-0.3 1-0.4 1 0.3 1-0.2 1-0.3 1-0.1 1.1-0.2 1 0 1-0.4 1-0.2 1 0 1-0.1 1-0.2 1-0.5 1-0.1 1-0.3 1.1-0.2 1-0.2 1-0.1 1-0.1 1-0.4 1-0.3 1-0.4 1 0.1 1-0.4 1.1-0.2 1-0.2 1-0.2 1-0.2 1-0.1 1 0 1 0 1-0.5 1-0.3 1-0.1 1-0.2 1.1-0.5 1-0.4 1-0.1 1 0 1-0.2 1-0.4 1-0.3 1-0.1 1-0.1 1.1-0.2 1-0.3 1-0.1 1-0.2 1-0.4 1-0.2 1-0.2 1-0.2 1-0.1 1-0.1 1 0 1.1-0.4 1-0.1 1-0.3 1 0.1 1-0.3 1 0 1-0.1 1-0.3 1-0.4 1.1-0.2 1 0 1-0.3 1-0.2 1-0.3 1 0.2 1-0.4 1 0 1-0.2 1 0.1 1-0.2 1.1-0.3 1 0 1-0.3 1-0.3 1-0.5 1-0.2 1-0.1 1 0.1 1-0.2 1.1-0.2 1-0.2 1 0.1 1-0.4 1-0.1 1-0.3 1 0.2 1-0.4 1-0.3 1-0.3 1 0.2 1.1-0.1 1 0.1 1-0.1 1 0.2 1-0.3 1-0.2 1 0.1 1 0 1-0.1 1.1-0.1 1-0.2 1 0.1 1-0.1 1 0.3 1 0 1-0.2 1-0.3 1 0 1 0.1 1 0.3 1.1 0 1 0.1 1 0.2 1 0.1 1-0.2 0.5-4.3 1.5 28.7 2-18.2 0.2-1.1 0.2-0.6 0.1-0.4 0.2-0.2 0.2-0.1 0.2-0.2 1-0.9 1-1.1 1-0.6 1-0.7 1-0.1 1-0.9 1-0.7 1-1.4 1-0.7 1-0.7 1.1 0.1 1-0.5 1-0.4 1-0.8 1 0.2 1 0 1 0.4 1-0.2 1-0.1 1.1-0.4 1-0.2 1-0.3 1-0.4 1-0.1 1 0.2 1 0.2 1 0 1 0 1 0.1 1-0.1 1.1-0.3 1-0.2 1-0.1 1-0.2 1 0 1 0 1 0.1 1 0.1 1-0.2 1.1-0.2 1-0.4 1-0.2 1 0.1 1 0.1 1 0.3 1-0.1 1 0.1 1-0.6 1 0 1-0.2 1.1 0.3 1 0.1 1 0 1 0 1-0.3 1 0.1 1 0.2 1 0.3 1-0.3 1-0.1 1.1-0.4 1 0.2 1-0.1 1 0.1 1-0.4 1-0.1 1-0.3-0.5-1.9 0.7-2.7 0.6 8.3 0.6-6.5 0.6 10.2 0.6-8.9 0.9 4.4 0.8-3-2.3 0 1 0.1 1.1 0.1 1 0.3 1 0.2 1 0.2 1-0.2 1-0.1 1-0.1 1 0.1 1-0.1 1.1 0.1 1-0.1 1 0.2 1 0.2 1-0.1 1 0.1 1-0.4 1-0.2 1-0.3 1 0.5 1 0.2 1.1 0.3 1 0 1 0 1-0.1 1-0.3 1-0.1 1-0.2 1 0.4 1 0 1.1 0.3 1-0.6 1-0.1-0.5-1.4 0.7-1.9 0.6 5.8 0.6-4.5 0.6 7.1 0.6-6.2 0.8 3.1 0.8-2.1-2.2 0.3 1 0.2 1 0.1 1-0.4 1 0.2 1-0.1 1 0.2 1.1 0 1 0 1 0.1 1-0.2 1 0 1-0.2 1 0.3 1 0.2 1-0.2 1.1-0.2 1 0.2 1 0.4 1 0 1 0 1 0-0.5-1.2 0.7-1.9 0.6 5.8 0.6-4.6 0.6 7.2 0.6-6.2 0.8 3 0.8-2.1-2.2 0.1 1-0.2 1-0.5 1-0.2 1.1 0 1 0.4 1 0 1 0.2 1 0.2 1 0 1 0.2 1-0.1 1 0.1 1.1-0.2 1 0.1 1-0.1 1-0.2 1-0.1 1 0" fill="none" stroke="#111111" stroke-width="3" stroke-linejoin="round" stroke-linecap="round"/>
<path d="M94.2 1885.8l1-0.2 1 0.2 1-0.3 1 0.1 1 0.2 1.1-0.2 1-0.1 1 0.4 1 0.5 1-0.1 1-0.4 1-0.4 1 0.1 1 0 1.1 0 1-0.1 1-0.2 1 0.2 1 0.1 1 0.2 1-0.3 1-0.1 1-0.1 1 0.3 1 0.3 1.1-0.1 1 0 1-0.1 1 0 1-0.3 1 0 1 0.2 1 0.3 1 0.1 1 0 1.1 0.3 1 0.1 1-0.2 1 0.1 1-0.2 1 0.5 1-0.6 1 0.4 1-0.6 1 0.1 1.1-0.3 1-0.3 1 0.5 1-0.2 1 0.5 1-0.5 1 0.1 1 0.1 1 0 1.1 0.3 1 0.2 1 0 1-0.2 1-0.1 1 0.1 1 0 1-0.2 1 0.1 1-0.1 1 0 1.1-0.4 1 0.1 1 0.4 1 0.3 1 0 1-0.3 1 0.1 1 0.1 1 0.2 1.1-0.2 1-0.4 1 0.3 1 0.2 1 0.2 1-0.5 1-0.2 1-0.2 1-0.3 1 0.1 1 0.4 1.1 0.4 1-0.4 1-0.1 1 0.1 1 0.4 1 0.1 1 0 1-0.1 1-0.2 1-0.4 1.1-0.2 1 0.2 1 0.5 1 0.4 1 0 1-0.5 1 5.2 1-13 3.1-1.5 1 2.2 1 1.5 1 0.4 1-0.7 1-1.2 1-0.8 1-0.6 1-0.5 1.1-0.9 1-0.6 1-1 1-0.7 1-0.5 1-0.7 1-0.7 1-0.6 1-0.6 1-0.4 1-0.8 1.1-0.4 1-0.9 1-0.6 1-0.2 1-0.3 1-0.3 1-0.6 1-0.4 1-0.5 1.1-0.8 1-0.7 1-0.7 1-0.4 1-0.4 1-0.4 1-0.5 1-0.2 1-0.9 1-0.2 1-0.5 1.1-0.3 1-0.7 1-1 1-0.2 1-0.4 1-0.4 1-0.2 1-0.5 1 0 1.1-0.7 1-0.7 1-0.6 1-0.3 1-0.1 1-0.5 1-0.5 1-0.6 1-0.3 1-0.6 1-0.6 1.1-0.5 1-0.3 1-0.5 1-0.6 1-0.4 1-0.4 1-0.5 1-0.3 1-0.4 1.1 0 1-0.4 1 0 1-0.8 1-0.5 1-0.6 1-0.1 1-0.4 1-0.6 1-0.5 1-0.5 1.1-0.3 1-0.4 1 0 1-0.5 1-0.4 1-0.5 1 0 1-0.4 1-0.4 1.1-0.4 1-0.2 1-0.2 1-0.3 1-0.6 1-0.2 1-0.4 1 0 1-0.6 1-0.4 1-0.9 1.1-0.1 1-0.2 1-0.3 1-0.4 1-0.3 1 0 1 0 1-0.3 1-0.4 1.1-0.4 1-0.4 1-0.3 1-0.3 1-0.5 1-0.2 1-0.2 1 0 1-0.5 1-0.3 1-0.3 1.1-0.2 1-0.4 1-0.3 1-0.3 1-0.1 1-0.7 1-0.1 1-0.5 1 0.3 1-0.5 1.1 0.1 1-0.6 1-0.3 1-0.6 1-0.5 1 0 1-0.4 1-0.3 1-0.3 1 0.1 1.1 0.1 1-0.4 1-0.5 1-0.4 1 0 1-0.3 1-0.7 1-0.5 1-0.2 1.1 0.3 1-0.5 1-0.3 1-0.5 1-0.2 1-0.3 1-0.4 1-0.4 1-0.5 1-0.7 1-0.2 1.1-0.1 1 0 1-0.4 1-0.1 1 0.1 1 0 1-0.4 1-0.6 1-0.1 1.1 0 1-0.1 1-0.5 1-0.8 1-0.2 1-0.3 1 0 1-0.4 1 0 1-0.4 1-0.1 1.1-0.2 1 0 1-0.7 1-0.3 1-0.5 1 0.3 1-0.2 1-0.1 1-0.3 1.1-0.2 1 0 1 0 1-0.1 1-0.4 1-0.3 1-0.4 1 0.2 1 0.1 1 0.2 1-0.3 1.1-0.5 1-0.3 1-0.2 1 0.1 1-0.2 1 0 1 0 1 0.2 1-0.1 1.1-0.4 1-0.3 1 0.1 1 0.1 1-0.1 1-0.3 1-0.1 1-0.4 1-0.1 1 0.1 1 0 1.1-0.2 1-0.1 1 0.2 1 0.1 1-0.4 1-0.4 1-0.2 1 0.3 1 0.2 1.1 0.1 1-0.2 1-0.1 1-0.3 1 0.3 1 0 1 0.5 1-0.5 1 0 1-0.5 1 0.4 1.1-0.1 1 0.1 1-0.4 1 0.1 1 0.1 0.5-6.3 1.5 20.8 2-10.4 0.2-1 0.2-0.6 0.1-0.4 0.2-0.2 0.2-0.2 0.2-0.4 1-0.3 1 0.1 1-0.7 1-0.7 1-0.7 1-0.2 1-0.2 1-0.8 1-0.7 1-0.4 1.1 0.1 1 0.2 1-0.1 1-0.4 1-0.1 1-0.2 1 0.1 1-0.1 1 0.2 1.1 0.1 1-0.1 1-0.3 1 0.1 1 0.2 1 0 1-0.2 1-0.3 1 0.2 1-0.2 1 0.1 1.1-0.2 1 0 1 0 1-0.4 1 0.1 1 0 1 0.2 1 0.1 1-0.2 1.1-0.1 1-0.6 1 0.3 1-0.1 1 0.5 1-0.2 1 0.2 1-0.1 1-0.1 1 0.1 1 0.1 1.1-0.1 1-0.6 1-0.3 1 0.1 1 0.3 1 0.4 1 0.3 1 0.1 1-0.4 1-0.5 1.1-0.1 1-0.1 1 0.4 1-0.1 1 0 1-0.1 1 0-0.5-2.4 0.7-3.9 0.6 11.6 0.6-9 0.6 14.3 0.6-12.4 0.9 6.1 0.8-4.2-2.3-0.1 1-0.2 1.1-0.3 1 0.1 1 0.2 1 0.5 1-0.1 1-0.2 1-0.1 1-0.3 1 0 1.1-0.1 1 0.3 1 0.1 1 0.1 1-0.4 1-0.1 1 0.1 1 0.3 1 0.2 1-0.4 1-0.1 1.1-0.3 1 0.3 1 0.1 1 0 1-0.1 1-0.3 1 0.2 1-0.2 1 0.1 1.1 0.3 1 0.2 1-0.1-0.5-1.7 0.7-2.7 0.6 8.2 0.6-6.4 0.6 10 0.6-8.6 0.8 4.2 0.8-2.9-2.2 0 1-0.1 1-0.5 1 0 1 0.3 1 0 1-0.2 1.1-0.3 1 0.2 1 0.1 1-0.1 1 0 1-0.3 1 0.1 1 0 1 0.2 1.1 0 1-0.1 1 0.2 1 0.3 1 0.3 1 0-0.5-2.3 0.7-2.7 0.6 8.2 0.6-6.4 0.6 10 0.6-8.6 0.8 4.2 0.8-2.9-2.2-0.2 1 0.1 1 0.4 1-0.3 1.1-0.2 1-0.2 1 0.4 1 0 1-0.3 1-0.2 1 0 1 0.2 1 0.2 1.1-0.1 1 0.2 1 0.1 1-0.1 1-0.2 1-0.1" fill="none" stroke="#ff8c1a" stroke-width="3" stroke-linejoin="round" stroke-linecap="round"/>
<path d="M94.2 1885.9l1 0 1 0 1 0 1 0.1 1 0 1.1 0.1 1 0 1 0.2 1 0 1 0.1 1-0.3 1 0 1-0.3 1 0.6 1.1 0.1 1 0.1 1-0.5 1-0.3 1-0.1 1-0.1 1 0.2 1 0.1 1 0.4 1 0 1 0.2 1.1-0.3 1 0.1 1-0.2 1-0.2 1-0.3 1 0.1 1 0.1 1-0.1 1 0 1-0.2 1.1 0.2 1-0.4 1 0.2 1-0.2 1 0.6 1 0.4 1 0.4 1-0.7 1-0.4 1-0.2 1.1 0.5 1 0 1 0.3 1 0.1 1-0.1 1-0.3 1-0.1 1 0.2 1 0 1.1 0.3 1-0.1 1 0.1 1 0 1-0.2 1 0.2 1-0.2 1 0.1 1-0.3 1-0.1 1 0.3 1.1 0.1 1 0.2 1-0.6 1 0.3 1-0.7 1 0.6 1-0.5 1 0.4 1-0.1 1.1 0.2 1 0.1 1-0.2 1 0 1 0.1 1-0.1 1 0.2 1-0.1 1 0.1 1-0.5 1 0.1 1.1 0 1 0.2 1-0.3 1 0 1 0.1 1 0.5 1-0.1 1 0.1 1 0 1 0.3 1.1 0 1-0.4 1-0.4 1-0.4 1 0.2 1 0.5 1 6.5 1-16.9 3.1-2.9 1 2.9 1 2 1 0.6 1-0.9 1-1.7 1-1.4 1-1.1 1-1 1.1-1.1 1-1.2 1-1.2 1-1.2 1-0.9 1-0.9 1-0.5 1-0.8 1-1.1 1-1 1-0.6 1.1-0.5 1-0.6 1-0.9 1-0.8 1-1 1-1.2 1-0.7 1-0.8 1-0.2 1.1-1 1-0.9 1-0.7 1-0.2 1-0.5 1-0.6 1-0.7 1-0.5 1-0.7 1-0.7 1-0.4 1.1-0.6 1-0.5 1-0.8 1-0.8 1-0.9 1-0.8 1-0.7 1-0.6 1-0.4 1.1-0.8 1-0.4 1-0.9 1-0.9 1-0.9 1-0.6 1-0.3 1-0.3 1-0.6 1-0.8 1-0.6 1.1-0.5 1-0.3 1-0.6 1-0.6 1-0.5 1-0.9 1-0.4 1-0.7 1 0 1.1-0.4 1 0 1-1 1-0.6 1-0.9 1-0.6 1-0.6 1-0.6 1-0.6 1-0.4 1-0.4 1.1-0.4 1-0.6 1-0.5 1-0.3 1 0 1-0.7 1-0.4 1-0.5 1-0.6 1.1-0.6 1-0.6 1-0.1 1-0.7 1-0.4 1-0.2 1 0 1-0.4 1-0.2 1-0.4 1-0.4 1.1-0.6 1-0.6 1-0.2 1-0.7 1-0.2 1-0.6 1-0.1 1-0.3 1-0.2 1.1-0.2 1-0.2 1-0.4 1-0.5 1-0.5 1-0.5 1-0.6 1-0.1 1-0.1 1-0.1 1-0.5 1.1-0.3 1-0.7 1-0.3 1-0.2 1 0.2 1-0.5 1-0.6 1-0.6 1-0.1 1 0.1 1.1-0.4 1-0.3 1-0.7 1-0.3 1-0.2 1-0.2 1-0.2 1-0.5 1-0.2 1-0.4 1.1-0.4 1-0.3 1-0.7 1-0.2 1-0.5 1-0.2 1-0.6 1-0.3 1-0.4 1.1-0.3 1-0.3 1-0.6 1 0 1-0.5 1 0 1-0.5 1-0.2 1-0.4 1-0.5 1-0.3 1.1-0.4 1-0.3 1-0.4 1-0.2 1-0.4 1-0.2 1-0.2 1-0.5 1-0.3 1.1-0.5 1-0.4 1-0.2 1-0.5 1 0 1-0.3 1 0 1-0.2 1-0.4 1-0.3 1-0.2 1.1-0.1 1-0.4 1-0.4 1-0.3 1-0.2 1-0.2 1-0.3 1 0 1 0 1.1-0.2 1-0.3 1-0.8 1-0.2 1-0.7 1-0.2 1-0.3 1 0.4 1-0.1 1 0.1 1-0.4 1.1-0.1 1-0.1 1-0.3 1 0.1 1-0.4 1 0.3 1-0.5 1-0.3 1-0.3 1.1 0 1-0.2 1-0.1 1 0 1-0.1 1-0.2 1-0.1 1 0.3 1 0 1-0.2 1-0.1 1.1-0.5 1-0.1 1-0.3 1 0 1-0.1 1-0.1 1-0.1 1-0.1 1-0.1 1.1 0 1 0 1 0.1 1 0.3 1-0.2 1 0 1-0.4 1 0.2 1-0.4 1 0 1-0.4 1.1 0.2 1 0.1 1 0 1 0 1-0.1 0.5-11.7 1.5 23.4 2-10.4 0.2 0 0.2 0 0.1 0 0.2 0 0.2 0 0.2 0 1-0.6 1-0.4 1-0.5 1-0.4 1-0.7 1-0.7 1-0.6 1-0.6 1-0.2 1-0.3 1.1-0.5 1-0.4 1-0.3 1-0.2 1-0.1 1 0.1 1 0.4 1 0 1 0.2 1.1-0.1 1-0.2 1 0.1 1 0.1 1 0.3 1-0.2 1-0.1 1-0.2 1-0.1 1 0.1 1 0 1.1 0.2 1 0.1 1 0.1 1-0.1 1-0.1 1 0 1-0.1 1 0.1 1 0.2 1.1 0.3 1-0.2 1-0.2 1-0.2 1 0.1 1-0.1 1 0 1 0.2 1-0.1 1 0 1 0 1.1-0.1 1 0.2 1-0.2 1 0.1 1-0.2 1-0.3 1 0.2 1-0.2 1 0.1 1-0.3 1.1 0.2 1 0.3 1 0.3 1 0.1 1-0.3 1-0.2 1-0.3-0.5-2.8 0.7-4.4 0.6 13.3 0.6-10.4 0.6 16.4 0.6-14.2 0.9 7 0.8-4.8-2.3-0.3 1 0.1 1.1 0.3 1 0.4 1 0 1-0.3 1 0 1-0.1 1 0 1 0 1 0 1.1 0.3 1 0 1 0.1 1-0.2 1 0 1 0.2 1 0.1 1 0.2 1-0.3 1 0.2 1-0.4 1.1 0.1 1-0.3 1 0 1 0.5 1 0.4 1-0.2 1-0.5 1-0.3 1 0.3 1.1 0.2 1-0.1 1 0.1-0.5-2 0.7-3 0.6 9.2 0.6-7.2 0.6 11.4 0.6-9.9 0.8 4.9 0.8-3.3-2.2 0.3 1-0.1 1 0 1-0.1 1-0.2 1-0.2 1 0.2 1.1-0.1 1 0.1 1 0 1 0.5 1-0.3 1-0.2 1-0.1 1-0.1 1 0 1.1-0.2 1 0.3 1 0 1 0.1 1-0.2 1 0.2-0.5-2 0.7-3.1 0.6 9.3 0.6-7.2 0.6 11.4 0.6-9.9 0.8 4.9 0.8-3.4-2.2 0 1-0.3 1-0.1 1 0.2 1.1 0.4 1 0.1 1-0.3 1-0.1 1-0.1 1 0 1-0.1 1 0.2 1 0.2 1.1 0.2 1-0.4 1-0.2 1-0.2 1 0.1 1 0.3" fill="none" stroke="#b31aff" stroke-width="3" stroke-linejoin="round" stroke-linecap="round"/>
<path d="M94.2 1884.2l1-0.1 1 0.2 1 0 1 0.1 1-0.2 1.1 0 1-0.1 1 0.1 1 0.1 0.3-6.7 0.7 12.4 0.7-7.8 0.7 1.9-0.4-0.3 1 0.1 1 0.2 1 0 1.1-0.3 1-0.3 1 0.1 1 0.2 1 0.3 1 0 1-0.2 1 0.2 1 0.2 1 0.2 1-0.4 1.1-0.4 1 0 1 0.7 1-0.1 1 0.2 1-0.1 1 0.1 1-0.3 1-0.1 1 0.3 1.1 0.2 1-0.1 1-0.2 1-0.2 1-0.2 1-0.2 1 0.4 1 0.3 1 0.3 1-0.2 1.1 0 1 0 1-0.3 1-0.2 1-0.5 1 0.2 1 0.1 1 0.4 1 0.1 1.1 0.3 1-0.1 1-0.2 1-0.3 1 0.2 1-0.1 1 0.3 1-0.4 1 0 1-0.3 1 0 1.1-0.1 1 0.2 1 0.1 1 0.1 1-0.1 1 0 1 0.2 1 0.2 1 0.1 1.1 0 1 0 1 0 1-0.4 1-0.2 1-0.1 1 0.3 1 0.3 1 0.1 1 0.1 1-0.6 1.1 0 1-0.1 1 0 1 0.2 1 0.1 1 0.3 1-0.2 1-0.1 1-0.5 1 0.1 1.1 0.3 1 0.4 1-0.1 1 0.1 1-0.1 0.5 0.4 1 11.7 1.5-33.8 1.5-31.3 0.5 2.9 1.1 7.4 1 8.1 1 12.9 1 8 1-1.5 1-3.3 1-3.3 1-2.2 1-2.6 1.1-1.8 1-2.2 1-1.6 1-1.9 1-1.2 1-2 1-1.5 1-1.7 1-1.2 1-1 1-0.8 1.1-0.9 1-0.9 1-1.3 1-0.9 1-1.2 1-1.1 1-1.2 1-0.7 1-0.7 1.1-0.5 1-1.2 1-0.8 1-1.1 1-0.7 1-0.6 1-0.4 1-0.7 1-0.9 1-0.8 1-0.3 1.1-0.3 1-0.7 1-0.9 1-1.2 1-0.8 1-0.9 1-0.4 1-0.7 1-0.4 1.1-0.9 1-0.6 1-1 1-0.7 1-1 1-0.7 1-1 1-0.6 1-0.7 1-0.3 1-0.6 1.1-0.7 1-0.7 1-0.6 1-1 1-1.1 1-0.7 1-0.1 1-0.5 1-0.8 1.1-1.1 1-0.6 1-0.7 1-0.7 1-0.6 1-0.9 1-0.7 1-0.9 1-0.4 1-0.3 1-0.6 1.1-1 1-1 1-0.3 1 0 1-0.5 1-0.8 1-0.9 1-0.3 1-0.5 1.1-0.4 1-1 1-0.5 1-0.6 1-0.1 1-0.5 1-0.4 1-0.4 1-0.8 1-0.7 1-0.6 1.1-0.1 1-0.2 1-0.3 1-0.6 1-0.6 1-0.7 1-0.3 1-0.4 1-0.6 1.1-0.7 1-0.4 1-0.1 1-0.2 1-0.5 1-0.6 1-0.6 1-0.4 1-0.7 1-0.7 1-0.5 1.1-0.5 1 0 1-0.1 1 0 1-0.8 1-0.8 1-1 1-0.1 1 0.1 1 0.1 1.1-0.6 1-0.7 1-0.5 1-0.6 1-0.5 1-0.3 1-0.2 1-0.4 1-0.7 1-0.3 1.1-0.6 1-0.5 1-0.4 1 0 1-0.3 1-0.2 1-0.6 1-0.3 1-0.6 1.1-0.3 1-0.5 1-0.5 1-0.3 1-0.5 1-0.2 1-0.8 1-0.5 1-0.5 1-0.2 1-0.4 1.1-0.3 1-0.1 1-0.3 1-0.6 1-0.3 1-0.4 1 0 1-0.6 1-0.5 1.1-1 1-0.1 1-0.2 1 0 1-0.6 1-0.4 1-0.4 1-0.6 1-0.5 1-0.3 1 0 1.1-0.1 1-0.5 1-0.3 1-0.3 1 0 1-0.1 1-0.2 1-0.5 1-0.3 1.1-0.3 1 0 1-0.1 1-0.2 1-0.2 1-0.4 1-0.3 1-0.2 1-0.6 1-0.1 1 0 1.1-0.1 1-0.4 1-0.6 1-0.3 1-0.1 1-0.1 1-0.1 1-0.2 1-0.5 1.1-0.2 1 0 1 0.3 1 0 1-0.4 1-0.2 1-0.1 1-0.4 1 0 1-0.4 1 0.4 1.1-0.6 1-0.3 1-0.3 1-0.2 1 0.2 1-0.2 1-0.2 1-0.1 1 0 1.1 0 1 0.1 1 0 1 0.1 1-0.1 1 0 1-0.2 1 0.1 1 0.1 1 0.5 1-0.2 1.1-0.2 1-0.4 1 0.1 1 0.1 1 0 0.5-9.8 1.5 36.5 1.5-19.6 0.3-3.4 0.2-2.1 0.3-1.2 0.2-0.8 0.3-0.5 0.3-0.7 1 0 1 0 1-0.1 1-0.1 1 0 1 0.1 1 0.4 1 0.4 1 0 1-0.1 1.1-0.4 1-0.2 1-0.1 1-0.2 1 0.3 1-0.3 1 0.2 1-0.2 1 0.3 1.1-0.1 1 0.2 1-0.4 1 0.1 1 0.1 1 0.2 1-0.1 1-0.1 1 0.3 1 0.2 1-0.1 1.1-0.3 1-0.3 1 0.1 1-0.1 1 0 1 0.1 1-0.2 1 0 1-0.2 1.1 0.2 1 0.3 1-0.1 1-0.1 1 0.2 1 0.5 1 0.1 1-0.4 1-0.2 1 0.1 1 0 1.1 0.1 1 0 1 0.2 1 0.1 1-0.2 1 0 1-0.2 1-0.1 1-0.5 1 0.1 1.1 0.4 1 0.4 1-0.2 1-0.2 1-0.2 1 0.2 1 0.3-0.5-3 0.7-4.4 0.6 13.3 0.6-10.4 0.6 16.3 0.6-14.1 0.9 7 0.8-4.8-2.3-0.1 1-0.4 1.1 0.2 1 0.2 1 0.2 1-0.1 1-0.2 1-0.2 1 0.1 1 0.3 1-0.1 1.1 0.2 1 0.1 1 0.2 1-0.1 1-0.3 1 0.1 1 0.2 1-0.2 1-0.1 1-0.5 1 0 1.1 0.1 1 0.2 1 0.2 1-0.2 1-0.2 1-0.2 1 0.3 1 0.5 1 0.2 1.1-0.3 1-0.3 1 0.1-0.5-2 0.7-3.1 0.6 9.3 0.6-7.2 0.6 11.4 0.6-9.9 0.8 4.9 0.8-3.4-2.2 0 1-0.2 1 0 1 0.3 1 0 1 0.2 1-0.4 1.1 0.2 1-0.2 1 0.2 1-0.2 1 0 1 0 1 0.4 1 0 1 0 1.1-0.1 1 0 1-0.2 1-0.2 1 0 1 0-0.5-2 0.7-3 0.6 9.3 0.6-7.3 0.6 11.5 0.6-9.9 0.8 4.8 0.8-3.3-2.2-0.1 1 0 1 0.2 1 0.3 1.1 0.4 1-0.1 1-0.2 1-0.2 1 0.1 1 0 1 0 1-0.4 1 0.2 1.1 0 1 0.4 1-0.4 1-0.2 1-0.2 1 0.2" fill="none" stroke="#19c819" stroke-width="3" stroke-linejoin="round" stroke-linecap="round"/>
<path d="M94.2 1886l1 0.1 1 0.2 1 0 1-0.1 1-0.3 1.1 0 1 0.2 1 0.4 1 0.2 1 0 1-0.3 1-0.2 1-0.6 1-0.2 1.1 0.1 1 0.6 1 0.2 1-0.2 1-0.7 1 0.1 1 0.4 1 0.7 1-0.3 1-0.1 1-0.2 1.1 0 1 0 1 0.2 1 0 1-0.2 1-0.1 1 0 1 0.2 1-0.2 1 0 1.1 0 1 0.2 1 0.3 1-0.3 1 0.3 1-0.3 1-0.2 1-0.3 1 0 1 0.5 1.1 0 1-0.1 1-0.3 1 0.1 1 0.1 1 0.3 1-0.3 1 0 1-0.2 1.1 0.4 1-0.5 1 0.2 1 0.1 1 0.3 1-0.4 1 0.2 1 0.2 1 0.2 1-0.6 1-0.1 1.1-0.1 1 0.8 1 0.3 1 0.2 1-0.4 1 0.1 1-0.3 1 0 1 0.1 1.1-0.1 1 0.3 1-0.4 1-0.2 1-0.2 1 0.4 1 0.1 1-0.2 1 0 1-0.4 1-0.1 1.1-0.2 1 0.5 1 0.5 1-0.4 1-0.4 1-0.3 1 0.6 1 0.3 1-0.2 1-0.3 1.1 0 1 0.3 1-0.2 1-0.1 1-0.1 0.5 0.4 1 15.6 1.5-41.6 1.5-33.9 0.5 1.6 1.1 5.5 1 7.3 1 12.8 1 8.9 1-1 1-2.4 1-2.3 1-2.2 1-2 1.1-2 1-1.9 1-1.9 1-2.1 1-1.6 1-1.7 1-1.7 1-2.1 1-1.8 1-1.7 1-1.4 1.1-1.5 1-1.7 1-1.4 1-1.4 1-1.7 1-1.5 1-1.7 1-1.1 1-1.3 1.1-1.1 1-1.5 1-1.4 1-1.6 1-1.2 1-1.3 1-1.1 1-1.1 1-1.2 1-0.9 1-1.1 1.1-1.3 1-1.4 1-1.5 1-0.9 1-1.1 1-0.8 1-1.3 1-0.7 1-0.9 1.1-0.7 1-1.1 1-1.1 1-1.1 1-0.6 1-0.5 1-0.6 1-1.3 1-1.4 1-1 1-0.5 1.1-0.5 1-0.9 1-1.3 1-0.9 1-0.6 1-0.6 1-0.6 1-0.6 1-0.5 1.1-0.8 1-0.8 1-0.8 1-0.6 1-0.4 1-0.9 1-0.5 1-0.8 1-0.5 1-0.9 1-1.1 1.1-0.4 1-0.6 1-0.4 1-0.6 1-0.6 1-0.7 1-0.7 1-0.3 1-0.7 1.1-0.9 1-0.6 1-0.5 1-0.2 1-0.7 1-0.2 1-0.6 1-0.4 1-0.5 1-0.8 1-0.7 1.1-0.4 1-0.5 1-0.4 1-0.5 1-0.4 1-0.4 1-0.7 1-0.4 1-0.3 1.1-0.2 1-0.3 1-0.2 1-0.7 1-0.6 1-0.8 1-0.3 1-0.4 1-0.3 1-0.6 1-0.2 1.1-0.7 1-0.2 1-0.4 1-0.1 1-0.3 1-0.6 1-0.5 1-0.7 1-0.2 1-0.2 1.1-0.5 1-0.4 1-0.6 1-0.3 1-0.5 1-0.5 1-0.2 1-0.6 1-0.7 1-0.6 1.1-0.5 1-0.2 1-0.7 1-0.4 1-0.6 1-0.3 1-0.4 1-0.3 1-0.5 1.1-0.2 1-0.4 1-0.5 1-0.5 1-0.4 1-0.3 1-0.6 1-0.5 1-0.5 1-0.8 1-0.6 1.1-0.7 1-0.2 1-0.4 1-0.3 1-0.3 1-0.3 1-0.7 1-0.9 1-0.7 1.1-0.4 1-0.2 1-0.1 1-0.2 1-0.1 1-0.6 1-0.4 1-0.5 1-0.2 1-0.5 1-0.4 1.1-0.6 1-0.1 1-0.4 1-0.5 1-0.3 1-0.2 1-0.1 1-0.3 1-0.4 1.1-0.2 1 0 1-0.1 1-0.2 1-0.2 1-0.2 1-0.3 1-0.4 1 0 1-0.5 1-0.5 1.1-0.3 1 0.4 1 0.1 1-0.3 1-0.4 1-0.1 1 0 1 0 1-0.1 1.1-0.1 1 0 1-0.3 1-0.1 1-0.8 1-0.3 1-0.3 1-0.2 1 0.1 1-0.1 1 0.1 1.1-0.2 1 0.3 1 0.1 1 0.1 1-0.4 1 0 1 0 1-0.3 1-0.1 1.1-0.3 1 0.4 1 0.1 1 0 1 0 1-0.1 1 0.3 1-0.3 1 0 1-0.2 1-0.1 1.1-0.1 1 0.3 1 0.4 1 0.1 1-0.4 0.5-13 1.5 28.6 1.5-9.1 0.3-2.6 0.2-1.5 0.3-1 0.2-0.5 0.3-0.4 0.3-0.2 1-0.2 1-0.1 1-0.4 1 0.2 1-0.3 1 0.2 1 0.1 1 0.2 1 0.2 1 0.1 1.1-0.3 1 0 1-0.1 1 0.4 1-0.2 1 0.2 1 0 1-0.1 1-0.3 1.1 0.1 1 0.1 1 0.2 1-0.3 1 0.2 1-0.2 1-0.1 1 0 1 0.2 1 0 1-0.2 1.1-0.3 1-0.1 1 0.1 1 0.3 1 0.5 1-0.2 1-0.1 1-0.1 1 0.2 1.1 0 1-0.1 1-0.2 1-0.3 1 0.1 1-0.1 1 0.2 1 0.1 1 0.2 1-0.3 1-0.4 1.1 0.1 1 0.4 1 0.3 1 0.2 1-0.2 1 0.1 1-0.4 1-0.2 1 0 1 0.1 1.1 0.2 1-0.1 1 0.1 1 0 1-0.2 1-0.1 1 0.1-0.5-2.7 0.7-4.4 0.6 13.3 0.6-10.4 0.6 16.4 0.6-14.2 0.9 7 0.8-4.8-2.3 0.3 1-0.1 1.1-0.2 1-0.3 1 0.3 1 0.1 1-0.3 1-0.1 1 0.1 1 0.3 1 0 1.1-0.2 1 0.1 1 0 1 0.2 1 0 1-0.1 1-0.1 1 0.2 1 0.1 1 0.1 1-0.4 1.1-0.2 1 0 1 0.1 1-0.1 1 0.2 1 0.2 1 0.3 1-0.3 1-0.1 1.1-0.3 1 0.3 1-0.2-0.5-1.6 0.7-3.1 0.6 9.3 0.6-7.3 0.6 11.5 0.6-9.9 0.8 4.9 0.8-3.4-2.2-0.4 1 0.2 1-0.2 1 0 1-0.3 1-0.2 1 0.1 1.1 0 1 0.4 1 0.1 1 0 1 0 1 0.1 1 0 1-0.3 1 0 1.1 0.4 1 0.1 1 0 1-0.8 1 0.1 1-0.3-0.5-1.7 0.7-3.1 0.6 9.3 0.6-7.3 0.6 11.5 0.6-9.9 0.8 4.9 0.8-3.4-2.2 0.3 1 0.2 1-0.1 1-0.3 1.1 0.2 1 0.5 1-0.3 1-0.2 1-0.2 1 0.3 1 0.1 1-0.1 1-0.4 1.1-0.1 1 0.1 1 0.5 1 0.2 1-0.1 1-0.3" fill="none" stroke="#ff1a1a" stroke-width="3" stroke-linejoin="round" stroke-linecap="round"/>
<line x1="94.4" y1="1625.2" x2="94.4" y2="1953.1" stroke="#1c1c1c" stroke-width="4.2"/>
<line x1="92.4" y1="1951.1" x2="599.7" y2="1951.1" stroke="#1c1c1c" stroke-width="4.2"/>
<line x1="83.9" y1="1886" x2="94.4" y2="1886" stroke="#1c1c1c" stroke-width="3.6"/>
<text x="67.5" y="1896.4" font-size="23.5" font-weight="bold" textLength="14.4" lengthAdjust="spacingAndGlyphs">0</text>
<line x1="83.9" y1="1755.8" x2="94.4" y2="1755.8" stroke="#1c1c1c" stroke-width="3.6"/>
<text x="38.6" y="1766.2" font-size="23.5" font-weight="bold" textLength="43.1" lengthAdjust="spacingAndGlyphs">100</text>
<line x1="83.9" y1="1625.7" x2="94.4" y2="1625.7" stroke="#1c1c1c" stroke-width="3.6"/>
<text x="38.6" y="1636.1" font-size="23.5" font-weight="bold" textLength="43.1" lengthAdjust="spacingAndGlyphs">200</text>
<line x1="94.2" y1="1951.1" x2="94.2" y2="1961.3" stroke="#1c1c1c" stroke-width="3.6"/>
<text x="100.8" y="1974.3" font-size="24" font-weight="bold" text-anchor="end" textLength="50.9" lengthAdjust="spacingAndGlyphs" transform="rotate(-45 100.8 1974.3)">-100</text>
<line x1="195.2" y1="1951.1" x2="195.2" y2="1961.3" stroke="#1c1c1c" stroke-width="3.6"/>
<text x="201.8" y="1974.3" font-size="24" font-weight="bold" text-anchor="end" textLength="14.1" lengthAdjust="spacingAndGlyphs" transform="rotate(-45 201.8 1974.3)">0</text>
<line x1="296.2" y1="1951.1" x2="296.2" y2="1961.3" stroke="#1c1c1c" stroke-width="3.6"/>
<text x="302.8" y="1974.3" font-size="24" font-weight="bold" text-anchor="end" textLength="42.4" lengthAdjust="spacingAndGlyphs" transform="rotate(-45 302.8 1974.3)">100</text>
<line x1="397.2" y1="1951.1" x2="397.2" y2="1961.3" stroke="#1c1c1c" stroke-width="3.6"/>
<text x="403.8" y="1974.3" font-size="24" font-weight="bold" text-anchor="end" textLength="42.4" lengthAdjust="spacingAndGlyphs" transform="rotate(-45 403.8 1974.3)">200</text>
<line x1="498.2" y1="1951.1" x2="498.2" y2="1961.3" stroke="#1c1c1c" stroke-width="3.6"/>
<text x="504.8" y="1974.3" font-size="24" font-weight="bold" text-anchor="end" textLength="42.4" lengthAdjust="spacingAndGlyphs" transform="rotate(-45 504.8 1974.3)">300</text>
<line x1="599.2" y1="1951.1" x2="599.2" y2="1961.3" stroke="#1c1c1c" stroke-width="3.6"/>
<text x="605.8" y="1974.3" font-size="24" font-weight="bold" text-anchor="end" textLength="42.4" lengthAdjust="spacingAndGlyphs" transform="rotate(-45 605.8 1974.3)">400</text>
<text x="22.5" y="1876" font-size="26.3" font-weight="bold" textLength="179.4" lengthAdjust="spacingAndGlyphs" transform="rotate(-90 22.5 1876)">Responce (RU)</text>
<text x="297.8" y="2048.6" font-size="24.4" font-weight="bold" textLength="98.2" lengthAdjust="spacingAndGlyphs">Time (s)</text>
<line x1="660.5" y1="1644.7" x2="690.4" y2="1644.7" stroke="#ff1a1a" stroke-width="4" stroke-linecap="round" opacity="0.85"/>
<text x="704.9" y="1651.2" font-size="18.9" fill="#333" textLength="61.4" lengthAdjust="spacingAndGlyphs" stroke="#333" stroke-width="0.45">40 µM</text>
<line x1="660.5" y1="1675.1" x2="690.4" y2="1675.1" stroke="#19c819" stroke-width="4" stroke-linecap="round" opacity="0.85"/>
<text x="704.9" y="1681.6" font-size="18.9" fill="#333" textLength="61.4" lengthAdjust="spacingAndGlyphs" stroke="#333" stroke-width="0.45">30 µM</text>
<line x1="660.5" y1="1705.5" x2="690.4" y2="1705.5" stroke="#b31aff" stroke-width="4" stroke-linecap="round" opacity="0.85"/>
<text x="704.9" y="1712" font-size="18.9" fill="#333" textLength="61.4" lengthAdjust="spacingAndGlyphs" stroke="#333" stroke-width="0.45">20 µM</text>
<line x1="660.5" y1="1735.9" x2="690.4" y2="1735.9" stroke="#ff8c1a" stroke-width="4" stroke-linecap="round" opacity="0.85"/>
<text x="704.9" y="1742.4" font-size="19.1" fill="#333" textLength="61.4" lengthAdjust="spacingAndGlyphs" stroke="#333" stroke-width="0.45">15 µM</text>
<line x1="660.5" y1="1766.3" x2="690.4" y2="1766.3" stroke="#111111" stroke-width="4" stroke-linecap="round" opacity="0.85"/>
<text x="704.9" y="1772.8" font-size="18.9" fill="#333" textLength="61.4" lengthAdjust="spacingAndGlyphs" stroke="#333" stroke-width="0.45">10 µM</text>
<line x1="660.5" y1="1796.7" x2="690.4" y2="1796.7" stroke="#a0631e" stroke-width="4" stroke-linecap="round" opacity="0.85"/>
<text x="704.9" y="1803.2" font-size="19.1" fill="#333" textLength="48.6" lengthAdjust="spacingAndGlyphs" stroke="#333" stroke-width="0.45">5 µM</text>
<rect x="619.5" y="1837.8" width="159.1" height="118.4" fill="none" stroke="#3a3a3a" stroke-width="3" rx="2.5"/>
<text x="629.4" y="1871.4" font-size="25.5" font-weight="bold" textLength="18.4" lengthAdjust="spacingAndGlyphs">K</text>
<text x="649.7" y="1879.2" font-size="19.5" font-weight="bold" textLength="15" lengthAdjust="spacingAndGlyphs">D</text>
<text x="669.4" y="1870.2" font-size="26" font-weight="bold" textLength="16.3" lengthAdjust="spacingAndGlyphs">=</text>
<text x="693.7" y="1872.1" font-size="26.9" font-weight="bold" textLength="29.8" lengthAdjust="spacingAndGlyphs">21</text>
<text x="728" y="1872.9" font-size="21.5" fill="#555" textLength="14.4" lengthAdjust="spacingAndGlyphs">µ</text>
<text x="745.4" y="1871.4" font-size="25.5" font-weight="bold" textLength="22.1" lengthAdjust="spacingAndGlyphs">M</text>
<text x="629.4" y="1940.2" font-size="25.7" font-weight="bold" textLength="39.4" lengthAdjust="spacingAndGlyphs">RU</text>
<text x="670.7" y="1931" font-size="20.1" font-weight="bold" textLength="10.9" lengthAdjust="spacingAndGlyphs">2</text>
<text x="686.9" y="1939.6" font-size="26" font-weight="bold" textLength="15.2" lengthAdjust="spacingAndGlyphs">=</text>
<text x="709.9" y="1940.9" font-size="26.7" font-weight="bold" textLength="28.4" lengthAdjust="spacingAndGlyphs">11</text>
<text x="883.6" y="1610.6" font-size="70.6" font-weight="bold" textLength="49.4" lengthAdjust="spacingAndGlyphs">H</text>
<text x="1167.7" y="1616.9" font-size="30.4" font-weight="bold" textLength="76.9" lengthAdjust="spacingAndGlyphs">FP17</text>
<line x1="1049.6" y1="1626.2" x2="1049.6" y2="1950.3" stroke="#000" stroke-width="2.6" stroke-dasharray="2.8 4.95"/>
<line x1="1347.9" y1="1626.2" x2="1347.9" y2="1950.3" stroke="#000" stroke-width="2.6" stroke-dasharray="2.8 4.95"/>
<line x1="1051.6" y1="1897" x2="1458.1" y2="1897" stroke="#a8a8a8" stroke-width="2.2"/>
<path d="M954.6 1896.8l1 0.1 0.9 0.2 0.9 0.2 1-0.3 1-0.1 0.9-0.2 0.9 0.1 1-0.1 0.9 0.3 1 0 0.9 0.3 1 0 1 0.2 0.9-0.2 0.9-0.2 1-0.2 0.9 0.2 1 0.3 0.9-0.2 1-0.2 1-0.3 0.9-0.1 0.9 0.1 1 0 1 0.2 0.9 0.2 0.9 0.1 1-0.3 0.9-0.2 1-0.2 0.9 0.2 1 0.1 1 0.2 0.9 0 0.9 0.1 1-0.2 0.9 0.1 1 0 0.9 0.4 1 0.2 1-0.1 0.9-0.3 0.9 0 1-0.1 1 0.1 0.9-0.2 0.9 0.1 1-0.3 0.9 0.1 1-0.1 0.9 0.2 1-0.2 1 0 0.9 0.2 0.9 0.3 1-0.1 0.9-0.1 1 0 0.9 0 1 0.2 1-0.2 0.9-0.2 0.9-0.2 1 0 1 0.3 0.9-0.4 0.9 0 1-0.4 0.9 0.5 1-0.1 0.9 0.5 1-0.2 1 0.3 0.9-0.4 0.9 0.1 1-0.2 1 0 0.9 0.3 0.9 0.2 1 0.1 1-0.2 0.9-0.1 0.9 0.3 1-0.1 1 0 0.9-0.2 0.9 0 1 0 0.9 0.2 1 0.1 0.9-0.1 1-0.2 0.9-0.1 1 0.1 0.9 0.3 1 0.1 1 0.1 0.9-0.2 0.9-0.2 1-0.2 0.5 0.1 0.9 3.3 1.4-1.1 2-1.1 0.9-0.4 0.9-0.2 1-0.2 0.9-0.2 1-0.2 0.9-0.5 1 0.4 0.9 0.1 1 0.2 0.9-0.5 1-0.1 1 0.4 0.9-0.1 0.9-0.1 1-0.4 1 0.3 0.9-0.2 0.9-0.3 1-0.6 1-0.1 0.9-0.1 0.9 0.1 1-0.2 0.9-0.1 1-0.2 0.9-0.5 1-0.4 0.9-0.2 1-0.1 0.9-0.3 1-0.3 1-0.4 0.9-0.2 0.9-0.4 1-0.3 1-0.5 0.9-0.4 0.9-0.5 1-0.2 1-0.5 0.9-0.1 0.9-0.4 1-0.3 0.9-0.2 1-0.2 0.9-0.2 1-0.4 0.9-0.2 1 0 0.9-0.1 1-0.2 1-0.4 0.9-0.4 0.9-0.1 1-0.2 1 0 0.9-0.2 0.9-0.1 1-0.4 1-0.2 0.9-0.4 0.9-0.3 1-0.3 0.9 0.1 1-0.3 0.9-0.3 1-0.4 0.9-0.3 1-0.4 0.9-0.3 1-0.2 1-0.3 0.9-0.3 0.9-0.3 1-0.1 1-0.2 0.9-0.1 0.9-0.4 1-0.5 1-0.6 0.9 0 0.9-0.3 1-0.1 0.9-0.3 1-0.1 0.9-0.5 1-0.2 0.9-0.4 1-0.3 0.9-0.4 1-0.4 1-0.3 0.9-0.2 0.9-0.3 1-0.4 1-0.6 0.9-0.3 0.9-0.1 1-0.2 1-0.3 0.9-0.4 0.9-0.5 1-0.5 0.9-0.6 1-0.4 0.9-0.4 1-0.1 0.9-0.1 1-0.4 0.9-0.7 1-0.6 1-0.3 0.9-0.1 0.9-0.3 1-0.5 1-0.4 0.9-0.5 0.9-0.3 1-0.2 1-0.3 0.9-0.4 0.9-0.3 1-0.3 0.9-0.4 1-0.5 0.9-0.5 1-0.3 0.9-0.3 1-0.3 0.9-0.3 1-0.2 1-0.3 0.9-0.3 0.9-0.2 1-0.4 1-0.4 0.9-0.7 0.9-0.3 1-0.2 1-0.1 0.9-0.3 0.9-0.4 1-0.5 0.9-0.4 1-0.6 0.9-0.4 1-0.4 0.9-0.3 1-0.4 0.9-0.5 1-0.5 1-0.2 0.9-0.2 0.9-0.2 1-0.3 1-0.2 0.9-0.4 0.9-0.2 1-0.2 1-0.4 0.9-0.4 0.9-0.4 1-0.4 0.9-0.3 1-0.6 0.9-0.1 1-0.4 0.9-0.2 1-0.4 0.9-0.1 1-0.4 1-0.5 0.9-0.4 0.9-0.1 1-0.1 1-0.5 0.9-0.5 0.9-0.4 1 0.1 1-0.4 0.9-0.4 0.9-0.3 1-0.1 0.9-0.3 1-0.6 0.9 0 1-0.3 0.9 0.1 1-0.5 0.9-0.2 1-0.7 1-0.3 0.9-0.3 0.9-0.1 1 0 1-0.1 0.9-0.1 0.9-0.5 1-0.4 1-0.4 0.9-0.3 0.9 0 1-0.3 0.9-0.3 1-0.4 0.9-0.2 1-0.3 0.9-0.3 1-0.5 0.9-0.2 1-0.2 1 0.2 0.9-0.5 0.9-0.3 1-0.3 1-0.1 0.9-0.3 0.9-0.2 1-0.2 1-0.5 0.9-0.2 0.9-0.2 1 0.3 0.9 0 1-0.1 0.9-0.5 1-0.5 0.9-0.2 1-0.2 0.9-0.1 1-0.5 1-0.2 0.9 0.1 0.9 0 1-0.2 1-0.3 0.9-0.3 0.9-0.2 1-0.2 1-0.2 0.9-0.1 0.9 0 1 0.3 0.9-0.2 1-0.4 0.9-0.2 1-0.1 0.9-0.2 1-0.4 0.9-0.1 1-0.1 1 0.1 0.9-0.5 0.9-0.3 1-0.5 1 0.1 0.9 0.3 0.9 0.2 1-0.2 1-0.2 0.9 0 0.9-0.3 1-0.2 0.9-0.2 1-0.1 0.9 0.1 1 0 0.9-0.3 1-0.4 0.9-0.4 1 0.2 1 0 0.9-0.1 0.9-0.2 1-0.1 1-0.1 0.9-0.3 0.9-0.2 1-0.1 1 0.1 0.9-0.2 0.9 0 1-0.3 0.9 0 1-0.3 0.9 0.2 1 0 0.9 0 1-0.4 0.9-0.2 1-0.2 1 0.2 0.9 0.2 0.9 0.1 1-0.2 1-0.2 0.9-0.2 0.9 0.1 1-0.1 1 0.1 0.9-0.1 0.9 0 1 0 0.9 0 1 0.2 0.9 0 1-0.3 0.9-0.1 1 0 0.5-14.8 0.9 17.4 1.5-8.7 1.4 5.5 0.2 0 0.2 0 0.3 0 0.2 0 0.3 0 0.2-0.1 1 0 0.9 0 0.9 0.1 1 0 1-0.1 0.9 0.3 0.9 0 1 0.2 0.9 0.1 1 0.2 0.9-0.2 1-0.2 0.9-0.4 1 0.3 0.9 0 1 0.2 1 0.1 0.9 0.5 0.9 0.1 1-0.1 1-0.2 0.9 0 0.9 0.1 1 0.2 1 0 0.9-0.1 0.9-0.3 1 0.2 0.9 0.3 1 0.3 0.9 0 1 0 0.9 0.1 1-0.2 0.9 0 1 0.2 1 0.3 0.9 0.1 0.9-0.1 1 0 1 0.2 0.9 0 0.9 0 1-0.1 1-0.2 0.9 0 0.9 0.2 1 0.7 0.9 0.2 1 0 0.9-0.1 1 0.1 0.9 0 1-0.3 0.9-0.3 1 0.2 1 0.1 0.9 0.4 0.9-0.5 1 0.3 1-0.1 0.9 0.3 0.9-0.2 1 0.1 1 0 0.9 0.2 0.9 0.1-0.4-1.6 0.6-2.2 0.6 6.9 0.6-5.4 0.5 8.5 0.6-7.4 0.8 3.7 0.7-2.5-2.1 0 1 0.1 0.9 0.2 1-0.1 0.9 0.1 1 0 0.9 0.3 1 0.3 1 0.1 0.9 0.1 0.9 0 1 0.1 1-0.1 0.9 0.1 0.9 0.2 1 0.2 1 0 0.9 0 0.9 0.1 1 0 0.9 0.1 1 0.1 0.9 0.1 1 0.1 0.9-0.1 1-0.3 0.9 0 1-0.1 1 0.2 0.9 0 0.9 0.2 1 0.3 1 0.3 0.9 0.1 0.9-0.3 1 0.2 1 0.1 0.9 0.4 0.9 0-0.4-1.4 0.6-1.8 0.6 5.5 0.6-4.3 0.5 6.8 0.6-5.9 0.8 2.9 0.7-2-2.1-0.1 1 0" fill="none" stroke="#a0631e" stroke-width="3" stroke-linejoin="round" stroke-linecap="round"/>
<path d="M954.6 1897.3l1 0 0.9-0.2 0.9 0 1 0 1 0.3 0.9-0.4 0.9 0 1-0.4 0.9 0.4 1 0.1 0.9 0.4 1-0.1 1-0.3 0.9-0.2 0.9 0.1 1 0.5 0.9-0.3 1 0.1 0.9-0.5 1 0.4 1 0.2 0.9 0.1 0.9-0.4 1-0.4 1-0.1 0.9 0.2 0.9 0.4 1 0.1 0.9-0.1 1-0.4 0.9-0.1 1 0.4 1-0.1 0.9-0.2 0.9 0.3 1 0 0.9 0 1-0.6 0.9 0.3 1 0.1 1 0.4 0.9-0.3 0.9 0 1-0.1 1 0.1 0.9 0 0.9-0.1 1 0 0.9-0.1 1 0 0.9-0.2 1 0.3 1 0.2 0.9-0.1 0.9 0 1-0.5 0.9 0.6 1-0.3 0.9 0.5 1-0.4 1 0.3 0.9-0.3 0.9 0.2 1-0.4 1 0 0.9-0.1 0.9 0.4 1 0.3 0.9 0 1-0.3 0.9 0 1 0 1 0.1 0.9 0.1 0.9-0.1 1 0.2 1-0.3 0.9 0.3 0.9-0.3 1-0.1 1-0.1 0.9 0.1 0.9 0.3 1 0 1 0.1 0.9 0.1 0.9 0 1 0 0.9 0 1-0.1 0.9 0.1 1-0.5 0.9-0.1 1 0 0.9-0.1 1 0 1-0.2 0.9 0.4 0.9 0 1 0.1 0.5 0 0.9 6.5 1.4-2.2 2-3.3 0.9-0.3 0.9-0.2 1-0.4 0.9-0.4 1-0.9 0.9-1.1 1-0.8 0.9-0.6 1-0.7 0.9-0.9 1-1 1-0.8 0.9-0.9 0.9-0.5 1-0.8 1-0.3 0.9-0.8 0.9-0.7 1-0.8 1-0.8 0.9-0.6 0.9-0.5 1-0.6 0.9-0.8 1-0.8 0.9-0.6 1-0.6 0.9-0.8 1-0.7 0.9-0.6 1-0.2 1-0.8 0.9-0.7 0.9-1.1 1-0.5 1-0.4 0.9-0.3 0.9-0.9 1-0.6 1-0.8 0.9-0.6 0.9-0.7 1-0.7 0.9-0.6 1-0.6 0.9-0.3 1-0.6 0.9-0.7 1-0.7 0.9-0.7 1-0.8 1-0.6 0.9-0.5 0.9-0.8 1-0.9 1-0.8 0.9-0.3 0.9-0.7 1-0.6 1-0.6 0.9-0.4 0.9-0.5 1-0.5 0.9-0.5 1-0.9 0.9-0.7 1-0.8 0.9-0.8 1-0.8 0.9-0.7 1-0.3 1-0.4 0.9-1 0.9-1 1-0.8 1-0.4 0.9-0.3 0.9-0.7 1-0.8 1-0.6 0.9-0.4 0.9-0.5 1-0.9 0.9-1 1-0.6 0.9-0.4 1-0.4 0.9-0.9 1-0.8 0.9-0.4 1-0.5 1-0.5 0.9-0.6 0.9-0.6 1-0.6 1-1.1 0.9-0.5 0.9-0.4 1-0.3 1-0.6 0.9-0.9 0.9-0.7 1-0.8 0.9-0.3 1-0.7 0.9-0.2 1-0.7 0.9-0.4 1-0.5 0.9-0.5 1-0.4 1-0.7 0.9-0.5 0.9-0.9 1-0.5 1-0.8 0.9-0.3 0.9-0.7 1-0.6 1-0.7 0.9-0.5 0.9-0.3 1-0.6 0.9-0.5 1-0.5 0.9-0.5 1-0.6 0.9-0.5 1-0.7 0.9-0.6 1-0.6 1-0.5 0.9-0.3 0.9-0.7 1-0.4 1-0.7 0.9-0.4 0.9-0.7 1-0.6 1-0.6 0.9-0.2 0.9-0.4 1-0.4 0.9-0.6 1-0.3 0.9-0.5 1-0.3 0.9-0.6 1-0.4 0.9-0.7 1-0.6 1 0 0.9-0.5 0.9-0.4 1-0.6 1-0.4 0.9-0.3 0.9-0.5 1-0.2 1-0.3 0.9-0.2 0.9-0.5 1-0.4 0.9-0.7 1-0.4 0.9-0.5 1-0.5 0.9-0.2 1-0.4 0.9-0.1 1-0.6 1-0.6 0.9-0.4 0.9-0.4 1-0.2 1-0.4 0.9-0.4 0.9-0.3 1-0.3 1-0.2 0.9-0.5 0.9-0.4 1-0.4 0.9-0.3 1-0.6 0.9-0.3 1-0.2 0.9-0.4 1-0.1 0.9-0.3 1-0.5 1-0.8 0.9-0.4 0.9-0.3 1 0.1 1-0.2 0.9 0.1 0.9-0.6 1-0.1 1-0.6 0.9-0.3 0.9-0.4 1-0.1 0.9-0.2 1-0.6 0.9-0.1 1-0.3 0.9-0.4 1-0.4 0.9-0.2 1-0.1 1-0.3 0.9-0.3 0.9-0.3 1-0.7 1-0.2 0.9-0.3 0.9 0.2 1-0.3 1-0.3 0.9-0.5 0.9-0.1 1-0.2 0.9-0.2 1-0.3 0.9-0.6 1-0.3 0.9-0.5 1-0.1 0.9-0.3 1-0.1 1-0.2 0.9 0 0.9-0.2 1-0.2 1-0.5 0.9-0.5 0.9-0.2 1-0.2 1-0.4 0.9-0.6 0.9-0.1 1-0.1 0.9-0.1 1-0.1 0.9-0.2 1-0.3 0.9-0.5 1-0.1 0.9 0 1-0.2 1-0.2 0.9-0.3 0.9-0.1 1-0.5 1 0 0.9-0.2 0.9-0.3 1-0.2 1-0.2 0.9 0 0.9-0.3 1-0.2 0.9 0.1 1 0.1 0.9 0 1-0.5 0.9-0.5 1-0.3 0.9 0.1 1-0.3 1-0.1 0.9-0.2 0.9 0.1 1 0.1 1-0.3 0.9-0.4 0.9-0.5 1 0.2 1-0.2 0.9 0 0.9-0.5 1-0.1 0.9 0.1 1 0 0.9-0.1 1-0.3 0.9-0.4 1-0.2 0.9 0.1 1 0.2 1 0 0.9-0.3 0.9-0.2 1 0 1-0.2 0.9-0.2 0.9 0 1-0.1 1 0 0.9-0.6 0.9 0.1 1-0.1 0.9 0.1 1-0.1 0.9 0.1 1-0.1 0.9-0.3 1-0.2 0.5-16.2 0.9 18.4 1.5-10.8 1.4 7.6 0.2 0 0.2 0 0.3 0 0.2 0 0.3 0 0.2 0.3 1 0 0.9-0.1 0.9-0.4 1-0.3 1 0 0.9 0 0.9-0.1 1-0.3 0.9 0.1 1 0.2 0.9 0.3 1 0.2 0.9-0.2 1 0 0.9-0.2 1 0.1 1 0.1 0.9-0.2 0.9 0.1 1 0.3 1 0.5 0.9 0.2 0.9-0.1 1 0.2 1-0.1 0.9 0 0.9 0.1 1 0.2 0.9 0.2 1-0.2 0.9 0.3 1 0.5 0.9 0.3 1 0.2 0.9 0 1 0.2 1 0.4 0.9-0.1 0.9-0.1 1 0 1 0.4 0.9 0.4 0.9 0.3 1 0.2 1 0.4 0.9 0.3 0.9 0.2 1 0.1 0.9 0.3 1 0.2 0.9 0.2 1 0.3 0.9 0.1 1 0.3 0.9 0 1 0.3 1 0.2 0.9 0.4 0.9-0.2 1 0.2 1-0.2 0.9 0.3 0.9 0 1 0.3 1 0.3 0.9-0.1 0.9 0.2-0.4-1.6 0.6-2.3 0.6 6.9 0.6-5.4 0.5 8.5 0.6-7.4 0.8 3.7 0.7-2.5-2.1 0.2 1 0.2 0.9 0.3 1-0.1 0.9-0.1 1 0 0.9 0.6 1 0.4 1 0.3 0.9 0 0.9 0.1 1 0.2 1 0 0.9 0.1 0.9 0 1 0.3 1 0 0.9 0.1 0.9 0.1 1 0.3 0.9 0.2 1 0.1 0.9 0.1 1 0 0.9 0 1 0 0.9 0.2 1 0.3 1 0.3 0.9 0.2 0.9 0 1-0.2 1 0.2 0.9 0.1 0.9 0.3 1-0.1 1 0.1 0.9 0 0.9 0.2-0.4-1 0.6-1.8 0.6 5.6 0.6-4.4 0.5 6.9 0.6-5.9 0.8 2.9 0.7-2-2.1 0.3 1 0.1" fill="none" stroke="#111111" stroke-width="3" stroke-linejoin="round" stroke-linecap="round"/>
<path d="M954.6 1897l1 0.1 0.9-0.4 0.9-0.1 1-0.1 1-0.3 0.9 0.4 0.9 0.2 1 0.5 0.9-0.1 1-0.2 0.9 0.2 1-0.2 1 0.1 0.9-0.3 0.9-0.1 1-0.1 0.9-0.1 1 0.5 0.9 0.3 1 0 1-0.6 0.9 0.2 0.9 0.2 1 0.3 1-0.1 0.9 0.1 0.9 0.1 1-0.3 0.9 0 1-0.3 0.9 0 1-0.1 1 0.2 0.9-0.1 0.9 0.2 1-0.2 0.9 0.2 1 0.1 0.9-0.1 1-0.2 1-0.2 0.9 0 0.9 0.2 1 0.2 1-0.3 0.9-0.1 0.9 0 1 0.3 0.9 0.1 1-0.1 0.9 0.1 1-0.1 1-0.1 0.9-0.1 0.9-0.1 1-0.1 0.9-0.2 1 0.3 0.9 0.2 1 0 1 0 0.9 0.1 0.9 0.1 1 0 1 0.1 0.9 0.1 0.9 0.3 1-0.2 0.9-0.4 1-0.2 0.9-0.2 1 0.4 1-0.5 0.9 0.4 0.9-0.1 1 0.3 1-0.3 0.9 0 0.9-0.3 1 0.4 1 0.3 0.9-0.1 0.9-0.1 1 0 1 0.3 0.9 0 0.9-0.3 1 0.1 0.9 0.1 1-0.1 0.9-0.4 1-0.1 0.9 0.5 1 0.2 0.9 0.1 1 0 1 0.1 0.9-0.1 0.9-0.2 1 0 0.5-0.2 0.9 10.9 1 2.1 0.4-7.7 1-1.5 1-2.8 0.9-3.8 0.9-4.2 1-2.5 0.9-2.4 1-2.3 0.9-2.5 1-2.3 0.9-2.2 1-1.7 0.9-1.9 1-1.6 1-1.9 0.9-1.7 0.9-1.8 1-1.8 1-1.8 0.9-1.7 0.9-1.4 1-1.3 1-1.4 0.9-1.5 0.9-1.3 1-1.7 0.9-1.6 1-1.6 0.9-1.1 1-1.4 0.9-1.6 1-1.6 0.9-1.4 1-1.3 1-1.3 0.9-1.2 0.9-1.4 1-1.3 1-1.5 0.9-1.3 0.9-1.2 1-1.2 1-1.2 0.9-1.1 0.9-1.2 1-1.2 0.9-1.2 1-0.7 0.9-0.9 1-1.3 0.9-1.3 1-1.3 0.9-0.8 1-1 1-0.8 0.9-1.3 0.9-1.2 1-1.2 1-1.4 0.9-0.9 0.9-1 1-0.9 1-1 0.9-1.1 0.9-1 1-0.7 0.9-0.7 1-0.7 0.9-0.8 1-1 0.9-0.7 1-1.2 0.9-1 1-1 1-0.9 0.9-0.9 0.9-1 1-1 1-1 0.9-1 0.9-0.6 1-0.5 1-0.9 0.9-1.1 0.9-0.7 1-0.9 0.9-0.5 1-0.8 0.9-0.9 1-0.9 0.9-0.5 1-0.6 0.9-0.6 1-0.7 1-0.6 0.9-0.6 0.9-1 1-0.6 1-0.8 0.9-0.4 0.9-0.8 1-0.5 1-0.7 0.9-0.8 0.9-0.4 1-0.3 0.9-0.3 1-0.4 0.9-0.9 1-0.9 0.9-0.8 1-0.3 0.9-0.6 1-0.6 1-0.9 0.9-0.5 0.9-0.6 1-0.4 1-0.3 0.9-0.6 0.9-0.4 1-0.4 1-0.2 0.9-0.5 0.9-0.6 1-0.6 0.9-0.8 1-0.5 0.9-0.6 1-0.1 0.9-0.5 1-0.4 0.9-0.5 1-0.3 1-0.1 0.9-0.3 0.9-0.7 1-0.7 1-0.7 0.9-0.3 0.9-0.4 1-0.1 1-0.4 0.9-0.3 0.9-0.7 1-0.3 0.9-0.5 1-0.5 0.9-0.2 1-0.7 0.9-0.3 1-0.4 0.9-0.1 1-0.5 1-0.4 0.9-0.7 0.9-0.2 1-0.5 1-0.3 0.9-0.4 0.9-0.2 1-0.1 1-0.2 0.9-0.2 0.9-0.6 1-0.4 0.9-0.5 1-0.4 0.9-0.7 1-0.4 0.9-0.1 1 0 0.9-0.3 1-0.5 1-0.2 0.9-0.2 0.9-0.4 1-0.5 1-0.5 0.9-0.4 0.9-0.3 1-0.2 1 0 0.9-0.2 0.9-0.3 1-0.5 0.9-0.2 1-0.1 0.9-0.5 1-0.5 0.9-0.4 1-0.4 0.9-0.2 1-0.2 1 0.1 0.9-0.1 0.9-0.1 1-0.3 1-0.3 0.9-0.4 0.9-0.1 1-0.3 1-0.2 0.9-0.4 0.9-0.2 1-0.3 0.9-0.1 1-0.1 0.9-0.1 1-0.2 0.9-0.3 1-0.3 0.9-0.3 1-0.3 1-0.2 0.9-0.2 0.9-0.2 1-0.2 1 0.1 0.9-0.3 0.9 0.1 1-0.4 1-0.1 0.9-0.4 0.9-0.3 1-0.3 0.9 0 1 0 0.9-0.3 1-0.2 0.9-0.2 1 0.2 0.9-0.1 1-0.4 1-0.3 0.9-0.2 0.9 0 1-0.3 1-0.3 0.9 0 0.9 0.1 1-0.2 1-0.3 0.9-0.1 0.9-0.1 1-0.2 0.9-0.4 1 0 0.9-0.1 1-0.3 0.9 0.1 1 0 0.9 0.1 1-0.2 1-0.2 0.9-0.4 0.9-0.3 1-0.1 1 0.2 0.9-0.1 0.9-0.3 1 0 1 0 0.9-0.1 0.9-0.3 1-0.2 0.9 0.1 1 0.1 0.9-0.1 1 0 0.9 0.2 1 0.3 0.9 0 1-0.3 1 0 0.9-0.2 0.9-0.1 1 0 1 0 0.9-0.1 0.9-0.3 1-0.1 1 0.1 0.9 0 0.9-0.1 1-0.3 0.9-0.2 1-0.1 0.9 0.3 1 0.4 0.9 0 1-0.3 0.9-0.5 1 0 1 0 0.9 0.3 0.9 0.2 1 0.2 1-0.3 0.9-0.3 0.9-0.2 1 0.2 1 0.2 0.9 0.2 0.9-0.2 1-0.2 0.9 0 1 0 0.9 0.3 1-0.1 0.9 0.1 1-0.2 0.5-24.6 0.9 23.9 1.5-8.7 1.4 8.7 0.2 0.2 0.2 0.1 0.3 0.1 0.2 0 0.3 0.1 0.2-0.1 1 0.1 0.9 0 0.9 0.1 1-0.1 1 0.1 0.9 0.1 0.9 0.3 1 0 0.9 0.2 1 0 0.9-0.2 1-0.2 0.9-0.3 1 0.2 0.9 0.1 1 0.1 1 0.3 0.9 0.1 0.9 0 1-0.3 1-0.2 0.9 0.2 0.9 0.4 1 0.2 1 0.1 0.9 0.1 0.9 0.4 1 0 0.9-0.1 1-0.3 0.9 0 1-0.1 0.9 0.2 1 0.2 0.9 0.1 1 0.4 1 0.1 0.9 0.2 0.9-0.4 1 0.1 1 0 0.9 0.2 0.9 0.1 1 0.2 1 0.3 0.9-0.2 0.9 0.1 1-0.1 0.9 0.2 1 0.1 0.9 0.1 1 0 0.9-0.1 1-0.2 0.9 0.2 1-0.1 1 0.4 0.9 0.2 0.9 0.2 1-0.1 1 0.1 0.9 0.1 0.9 0.1 1-0.2 1-0.2 0.9 0.1 0.9 0.5-0.4-1.7 0.6-3.2 0.6 9.7 0.6-7.6 0.5 12 0.6-10.4 0.8 5.1 0.7-3.5-2.1 0.1 1-0.1 0.9-0.2 1 0.1 0.9 0.1 1 0.3 0.9 0 1 0.1 1 0.2 0.9 0.3 0.9 0 1-0.1 1-0.1 0.9 0.3 0.9-0.1 1-0.2 1 0.1 0.9 0.1 0.9 0.5 1 0 0.9 0.3 1-0.1 0.9 0 1 0 0.9 0.2 1 0.1 0.9-0.1 1 0.3 1-0.1 0.9 0.6 0.9-0.3 1 0.3 1-0.2 0.9 0.2 0.9 0.1 1-0.1 1 0.3 0.9 0.2 0.9 0.3-0.4-1.7 0.6-2.5 0.6 7.7 0.6-6 0.5 9.5 0.6-8.2 0.8 4 0.7-2.8-2.1 0.2 1 0.1" fill="none" stroke="#ff8c1a" stroke-width="3" stroke-linejoin="round" stroke-linecap="round"/>
<path d="M954.6 1897l1 0 0.9 0 0.9-0.1 1 0.2 1 0.1 0.9 0.1 0.9-0.3 1 0 0.9 0 1 0 0.9-0.4 1 0.2 1-0.1 0.9 0.3 0.9 0 1 0 0.9 0 1 0 0.9 0 1-0.1 1-0.1 0.9-0.3 0.9 0.4 1 0.2 1 0.6 0.9-0.5 0.9-0.1 1-0.4 0.9 0.5 1-0.1 0.9-0.1 1-0.3 1 0.1 0.9 0 0.9 0.2 1-0.1 0.9 0.1 1-0.3 0.9 0.2 1 0.2 1 0.4 0.9-0.3 0.9-0.1 1-0.2 1 0.4 0.9-0.1 0.9 0 1-0.1 0.9-0.1 1 0 0.9-0.3 1 0.2 1-0.1 0.9 0.5 0.9-0.2 1 0.1 0.9-0.3 1 0.2 0.9 0 1 0 1-0.4 0.9 0 0.9-0.3 1 0.5 1 0.1 0.9 0.3 0.9 0 1-0.2 0.9-0.1 1 0 0.9 0.2 1 0 1-0.2 0.9 0.1 0.9 0.3 1 0.3 1-0.2 0.9-0.4 0.9-0.4 1 0 1 0.1 0.9 0.4 0.9-0.1 1 0.2 1-0.2 0.9 0.1 0.9 0 1-0.1 0.9 0 1-0.1 0.9 0.4 1 0 0.9-0.2 1-0.4 0.9-0.2 1-0.4 1 0.1 0.9 0.2 0.9 0.5 1 0 0.5 0 0.9 16.3 1 5.4 0.4-12.9 1-3.9 1-4.7 0.9-5.5 0.9-5.5 1-4 0.9-4.2 1-3.6 0.9-3.7 1-3.3 0.9-3.2 1-3 0.9-2.7 1-2.5 1-2.7 0.9-2.3 0.9-2.4 1-2.3 1-2.6 0.9-2.2 0.9-2.2 1-2.3 1-2.5 0.9-2.1 0.9-1.9 1-2.1 0.9-2 1-2.4 0.9-1.9 1-2.3 0.9-1.7 1-1.8 0.9-1.8 1-1.8 1-2.1 0.9-1.9 0.9-1.7 1-1.7 1-1.6 0.9-2 0.9-1.8 1-1.5 1-1.7 0.9-1.4 0.9-1.6 1-1.3 0.9-1.3 1-1.6 0.9-1.4 1-1.5 0.9-1.4 1-1.3 0.9-1.3 1-0.8 1-1 0.9-1.2 0.9-1.4 1-1.2 1-1.1 0.9-1.2 0.9-1 1-0.9 1-1 0.9-0.9 0.9-0.9 1-1.3 0.9-0.8 1-1 0.9-0.7 1-0.6 0.9-0.8 1-0.6 0.9-1 1-0.9 1-1 0.9-1 0.9-0.9 1-0.7 1-0.6 0.9-0.8 0.9-0.9 1-0.8 1-0.6 0.9-0.2 0.9-0.8 1-0.7 0.9-0.8 1-0.7 0.9-0.7 1-0.5 0.9-0.4 1-0.5 0.9-1.1 1-0.5 1-0.7 0.9-0.5 0.9-0.9 1-0.6 1-0.6 0.9-0.6 0.9-0.6 1-0.4 1-0.7 0.9-0.5 0.9-0.6 1-0.5 0.9-0.6 1-0.6 0.9-0.3 1-0.7 0.9-0.5 1-0.6 0.9-0.5 1-0.8 1-0.5 0.9-0.3 0.9-0.2 1-0.5 1-0.8 0.9-0.4 0.9-0.5 1-0.3 1-0.4 0.9-0.7 0.9-0.6 1-0.7 0.9-0.1 1-0.7 0.9-0.4 1-0.8 0.9-0.4 1-0.6 0.9-0.4 1-0.6 1-0.6 0.9-0.4 0.9-0.3 1-0.2 1-0.4 0.9-0.5 0.9-0.6 1-0.4 1-0.4 0.9-0.5 0.9-0.3 1-0.2 0.9-0.2 1-0.7 0.9-0.5 1-0.5 0.9-0.4 1-0.6 0.9-0.3 1 0 1-0.5 0.9-0.5 0.9-0.6 1-0.3 1-0.3 0.9-0.4 0.9-0.2 1-0.7 1-0.2 0.9-0.8 0.9-0.4 1-0.2 0.9-0.2 1 0.1 0.9-0.6 1-0.6 0.9-0.5 1-0.1 0.9-0.1 1-0.2 1-0.5 0.9-0.3 0.9-0.4 1-0.5 1-0.5 0.9-0.6 0.9-0.5 1-0.3 1-0.1 0.9 0 0.9-0.4 1-0.4 0.9-0.5 1-0.1 0.9-0.3 1-0.4 0.9-0.4 1-0.5 0.9-0.1 1-0.1 1 0 0.9-0.6 0.9-0.1 1-0.2 1-0.2 0.9-0.3 0.9-0.4 1-0.2 1-0.4 0.9 0 0.9-0.1 1-0.3 0.9-0.5 1-0.4 0.9-0.2 1-0.1 0.9-0.2 1-0.3 0.9-0.3 1-0.2 1-0.2 0.9-0.4 0.9 0.2 1-0.2 1 0 0.9-0.3 0.9-0.2 1-0.1 1-0.1 0.9-0.1 0.9-0.1 1 0 0.9-0.2 1 0.1 0.9-0.4 1 0 0.9-0.7 1 0 0.9 0.1 1-0.1 1-0.3 0.9-0.4 0.9-0.1 1 0 1-0.1 0.9-0.3 0.9-0.3 1 0.1 1 0 0.9 0 0.9-0.4 1-0.1 0.9 0 1 0.2 0.9 0.2 1-0.3 0.9-0.4 1-0.4 0.9 0.1 1 0.1 1-0.1 0.9 0.1 0.9-0.1 1 0 1-0.2 0.9-0.3 0.9-0.3 1-0.3 1-0.1 0.9 0.1 0.9 0.1 1 0.1 0.9 0.2 1-0.2 0.9 0.2 1-0.3 0.9-0.1 1-0.2 0.9 0 1-0.1 1-0.1 0.9 0 0.9 0.2 1 0 1 0 0.9-0.3 0.9 0 1-0.3 1 0 0.9 0 0.9 0.2 1-0.1 0.9 0.2 1 0 0.9-0.1 1 0 0.9-0.3 1 0 0.9-0.1 1 0.1 1 0 0.9-0.1 0.9-0.1 1 0 1-0.1 0.9 0.1 0.9-0.1 1 0 1-0.2 0.9-0.2 0.9 0.1 1 0.4 0.9-0.2 1-0.3 0.9-0.2 1 0.4 0.9 0.2 1-0.1 0.5-12 0.9 21.7 1.5-13 1.4 3.3 0.2-0.3 0.2-0.1 0.3-0.1 0.2 0 0.3 0 0.2 0.2 1-0.1 0.9-0.1 0.9 0 1 0 1 0 0.9-0.2 0.9 0 1 0.1 0.9 0.2 1 0.3 0.9 0 1 0.1 0.9-0.2 1 0.4 0.9 0.3 1 0.2 1-0.4 0.9-0.1 0.9-0.3 1-0.1 1 0.1 0.9 0.1 0.9 0 1 0.1 1 0.1 0.9 0.4 0.9-0.1 1 0.3 0.9 0 1 0.1 0.9-0.1 1 0.2 0.9-0.1 1 0 0.9-0.1 1 0.1 1 0.4 0.9 0.4 0.9 0 1-0.1 1-0.2 0.9 0.2 0.9 0.1 1-0.1 1-0.1 0.9-0.2 0.9 0.1 1 0.2 0.9 0.2 1 0.2 0.9-0.1 1 0.2 0.9 0.1 1 0.1 0.9-0.3 1-0.1 1 0 0.9 0.2 0.9 0.2 1 0.4 1 0.2 0.9-0.2 0.9 0.1 1 0.1 1 0.1 0.9-0.2 0.9-0.1-0.4-2.1 0.6-3.2 0.6 9.7 0.6-7.6 0.5 12 0.6-10.4 0.8 5.1 0.7-3.5-2.1 0 1-0.1 0.9 0 1 0.2 0.9 0.4 1 0.1 0.9 0.3 1-0.2 1 0.3 0.9-0.2 0.9 0.1 1 0.2 1 0.2 0.9 0.2 0.9 0 1 0.1 1 0 0.9 0.1 0.9 0.1 1 0.1 0.9 0.1 1 0.1 0.9-0.2 1 0.1 0.9 0.2 1 0.2 0.9 0.1 1 0 1 0.4 0.9-0.2 0.9 0 1 0 1 0.3 0.9 0.2 0.9 0.2 1-0.1 1 0 0.9-0.3 0.9 0.2-0.4-1.4 0.6-2.6 0.6 7.8 0.6-6.1 0.5 9.6 0.6-8.3 0.8 4.1 0.7-2.8-2.1 0.4 1 0.1" fill="none" stroke="#b31aff" stroke-width="3" stroke-linejoin="round" stroke-linecap="round"/>
<path d="M954.6 1896.8l1 0.1 0.9 0.1 0.9-0.1 1 0.2 1-0.2 0.9 0 0.9-0.3 1 0 0.9 0.2 1-0.1 0.9 0.2 1 0 1 0.1 0.9 0.1 0.9 0 1-0.1 0.9-0.2 1 0.1 0.9 0.1 1 0.3 1-0.4 0.9 0 0.9-0.4 1 0.2 1 0.2 0.9 0.2 0.9 0 1-0.1 0.9 0.3 1 0.2 0.9 0.1 1-0.4 1 0 0.9 0.1 0.9 0.4 1-0.3 0.9-0.1 1-0.2 0.9 0.3 1-0.1 1-0.1 0.9-0.3 0.9-0.1 1 0 1 0.2 0.9 0.3 0.9-0.1 1-0.2 0.9-0.4 1 0.2 0.9 0.2 1 0 1 0.2 0.9 0.2 0.9 0.2 1-0.2 0.9-0.1 1 0.2 0.9-0.3 1-0.1 1-0.6 0.9 0.2 0.9-0.2 1 0.1 1 0.1 0.9 0.2 0.9 0.2 1-0.1 0.9 0.1 1-0.1 0.9 0 1 0.1 1 0.1 0.9 0 0.9 0.1 1 0 1 0.3 0.9-0.2 0.9 0 1-0.3 1 0.2 0.9-0.4 0.9 0 1-0.3 1 0 0.9-0.2 0.9 0.1 1 0 0.9 0.5 1 0 0.9 0.4 1 0.3 0.9 0.2 1-0.3 0.9-0.6 1-0.3 1 0.4 0.9 0.3 0.9 0 1-0.4 0.5 0 0.9 27.2 1 10.8 0.4-27.2 1-5.4 1-5.9 0.9-6.5 0.9-6.1 1-5 0.9-5.1 1-4.9 0.9-5.1 1-4.4 0.9-4.6 1-4 0.9-4.2 1-3.1 1-3.1 0.9-2.6 0.9-2.9 1-2.7 1-2.7 0.9-2.5 0.9-2.5 1-2.3 1-2.4 0.9-2.4 0.9-2.4 1-2.2 0.9-2.4 1-2 0.9-2.2 1-2 0.9-2.1 1-1.8 0.9-1.7 1-1.6 1-2 0.9-1.9 0.9-2 1-1.7 1-1.6 0.9-1.6 0.9-1.9 1-1.8 1-1.7 0.9-1.2 0.9-1.1 1-1.3 0.9-1.8 1-1.7 0.9-1.6 1-1.2 0.9-1.5 1-0.9 0.9-1.2 1-1 1-1.3 0.9-1.4 0.9-1.1 1-1.2 1-1.1 0.9-1.3 0.9-1.3 1-1 1-0.8 0.9-1 0.9-0.9 1-1.1 0.9-0.7 1-1.3 0.9-0.7 1-1 0.9-1 1-1.1 0.9-1.2 1-0.7 1-1 0.9-0.6 0.9-1 1-0.8 1-1.1 0.9-0.9 0.9-0.8 1-0.5 1-0.6 0.9-0.9 0.9-0.8 1-0.9 0.9-0.3 1-0.9 0.9-0.7 1-1.1 0.9-0.7 1-0.4 0.9-0.6 1-0.5 1-0.9 0.9-0.7 0.9-0.5 1-0.7 1-0.7 0.9-0.8 0.9-0.6 1-0.5 1-0.6 0.9-0.3 0.9-0.5 1-0.7 0.9-0.6 1-1 0.9-0.6 1-0.7 0.9-0.6 1-0.3 0.9-0.5 1-0.3 1-0.8 0.9-0.8 0.9-0.6 1-0.3 1-0.6 0.9-0.4 0.9-0.5 1-0.4 1-0.7 0.9-0.6 0.9-0.5 1-0.3 0.9-0.4 1-0.2 0.9-0.4 1-0.6 0.9-0.5 1-0.5 0.9-0.5 1-0.6 1-0.3 0.9-0.7 0.9-0.5 1-0.6 1-0.4 0.9-0.3 0.9-0.4 1-0.2 1-0.3 0.9-0.7 0.9-0.6 1-0.2 0.9-0.1 1-0.6 0.9-0.9 1-0.6 0.9-0.4 1-0.2 0.9-0.3 1-0.2 1-0.5 0.9-0.6 0.9-0.6 1 0 1 0 0.9-0.2 0.9-0.6 1-0.7 1-0.5 0.9-0.2 0.9-0.1 1-0.2 0.9-0.4 1-0.5 0.9-0.5 1-0.4 0.9-0.5 1-0.3 0.9-0.4 1-0.5 1-0.3 0.9-0.4 0.9-0.2 1-0.2 1-0.3 0.9-0.2 0.9-0.5 1-0.4 1-0.2 0.9-0.3 0.9-0.4 1-0.3 0.9-0.2 1-0.2 0.9-0.4 1-0.6 0.9-0.5 1-0.4 0.9-0.1 1-0.2 1-0.1 0.9-0.4 0.9 0 1-0.4 1-0.5 0.9-0.2 0.9-0.1 1-0.1 1-0.7 0.9-0.3 0.9-0.2 1-0.1 0.9-0.2 1-0.1 0.9-0.6 1-0.1 0.9-0.2 1 0.3 0.9-0.2 1-0.2 1-0.2 0.9-0.1 0.9 0 1-0.7 1-0.4 0.9-0.1 0.9 0.1 1-0.1 1-0.2 0.9-0.1 0.9 0 1-0.4 0.9-0.2 1-0.2 0.9 0.1 1-0.2 0.9 0 1-0.3 0.9-0.1 1-0.2 1-0.1 0.9-0.1 0.9 0 1-0.1 1-0.1 0.9 0.1 0.9-0.1 1-0.2 1-0.5 0.9-0.4 0.9-0.1 1-0.2 0.9-0.2 1 0.1 0.9 0 1 0.2 0.9-0.2 1 0 0.9 0 1-0.2 1-0.2 0.9-0.5 0.9 0 1 0.1 1-0.1 0.9-0.1 0.9-0.3 1 0 1 0.2 0.9 0.2 0.9 0.1 1-0.3 0.9 0 1-0.1 0.9-0.1 1-0.1 0.9-0.2 1 0 0.9 0 1-0.1 1 0 0.9-0.3 0.9 0.1 1 0.1 1 0 0.9 0 0.9-0.3 1-0.1 1 0.2 0.9-0.1 0.9 0.2 1-0.3 0.9 0.1 1 0 0.9-0.1 1-0.1 0.9-0.2 1 0.3 0.9 0 1-0.2 1 0.2 0.9-0.1 0.9 0.2 1-0.4 1 0 0.9-0.4 0.9 0.2 1 0.1 1 0.1 0.9 0 0.9-0.5 1 0.3 0.9 0.1 1 0.3 0.9-0.5 1-0.3 0.9-0.2 1 0.3 0.5-20.2 0.9 27.2 1.5-13 1.4 6.5 0.2-0.2 0.2-0.2 0.3 0 0.2-0.1 0.3 0 0.2-0.1 1 0 0.9-0.1 0.9 0.3 1 0.1 1 0.1 0.9 0 0.9 0 1-0.2 0.9-0.2 1 0 0.9 0.1 1 0.1 0.9 0 1 0.3 0.9 0.2 1 0.1 1-0.3 0.9 0 0.9 0 1 0.1 1-0.1 0.9 0.3 0.9 0.1 1 0.1 1-0.1 0.9 0.4 0.9-0.1 1-0.1 0.9-0.1 1 0.1 0.9 0.2 1 0 0.9-0.1 1 0.1 0.9 0.2 1 0.3 1-0.2 0.9-0.1 0.9-0.2 1-0.1 1 0.1 0.9 0.3 0.9 0.3 1-0.1 1-0.3 0.9 0 0.9 0 1 0.3 0.9 0.1 1 0.3 0.9-0.1 1-0.1 0.9-0.1 1 0.2 0.9 0.3 1 0.1 1 0.1 0.9-0.2 0.9 0.3 1 0 1 0.4 0.9-0.3 0.9 0.3 1 0.2 1 0.1 0.9-0.1 0.9-0.2-0.4-2.3 0.6-3.6 0.6 11.1 0.6-8.7 0.5 13.7 0.6-11.8 0.8 5.8 0.7-4-2.1-0.1 1 0 0.9 0 1 0.1 0.9 0.1 1 0.1 0.9 0.2 1 0 1-0.1 0.9 0 0.9 0 1 0.1 1-0.1 0.9 0 0.9 0.1 1 0.2 1 0.5 0.9 0.1 0.9-0.1 1-0.2 0.9 0.1 1 0 0.9 0.1 1-0.1 0.9 0.4 1 0.2 0.9 0 1-0.1 1 0 0.9 0.2 0.9-0.1 1 0 1 0.1 0.9 0.1 0.9-0.1 1 0.1 1 0.2 0.9 0.1 0.9 0.1-0.4-1.9 0.6-2.9 0.6 8.9 0.6-6.9 0.5 10.9 0.6-9.5 0.8 4.7 0.7-3.2-2.1-0.1 1 0" fill="none" stroke="#19c819" stroke-width="3" stroke-linejoin="round" stroke-linecap="round"/>
<path d="M954.6 1896.8l1-0.1 0.9 0 0.9 0.1 1-0.4 1-0.1 0.9 0.3 0.9 0.6 1-0.3 0.9-0.3 1-0.1 0.9 0.4 1 0.1 1 0 0.9-0.2 0.9 0.1 1 0.1 0.9 0.1 1-0.3 0.9 0.1 1 0.2 1 0.2 0.9-0.1 0.9-0.2 1 0 1-0.1 0.9 0.3 0.9-0.2 1-0.2 0.9 0.1 1 0.2 0.9 0.4 1 0 1-0.2 0.9-0.1 0.9 0 1 0.2 0.9-0.2 1-0.2 0.9-0.5 1 0.2 1 0.1 0.9 0.4 0.9 0.1 1 0.4 1-0.1 0.9 0.1 0.9-0.6 1 0.2 0.9-0.4 1 0.1 0.9-0.2 1 0.4 1 0 0.9 0.2 0.9-0.2 1-0.4 0.9 0.2 1-0.1 0.9 0.2 1-0.4 1 0 0.9 0 0.9-0.1 1-0.1 1 0.1 0.9 0.6 0.9 0.4 1 0 0.9-0.4 1-0.4 0.9-0.2 1 0 1 0.3 0.9 0.2 0.9-0.1 1 0.1 1 0 0.9 0 0.9-0.1 1 0.1 1 0.2 0.9-0.3 0.9 0 1-0.1 1 0 0.9 0.3 0.9-0.1 1 0.1 0.9-0.2 1 0.2 0.9 0.1 1-0.5 0.9-0.3 1-0.1 0.9 0.6 1 0.5 1-0.1 0.9-0.3 0.9-0.1 1 0 0.5 0 0.9 27.2 1 5.4 0.4-16 1-9.1 1-9.3 0.9-9.3 0.9-8.4 1-6.2 0.9-6.2 1-5.9 0.9-5.6 1-5.2 0.9-4.4 1-4.5 0.9-3.9 1-3.9 1-3.7 0.9-3.6 0.9-3.7 1-3.3 1-3.5 0.9-3.2 0.9-3 1-2.9 1-3.1 0.9-2.9 0.9-2.8 1-2.4 0.9-2.2 1-2.4 0.9-2.4 1-2.3 0.9-2.2 1-2.2 0.9-2.4 1-1.9 1-1.4 0.9-1.7 0.9-1.7 1-2.3 1-1.7 0.9-1.7 0.9-1.4 1-1.7 1-1.7 0.9-1.8 0.9-1.6 1-1.7 0.9-1.3 1-1.5 0.9-1.3 1-1.5 0.9-1.3 1-1.2 0.9-1.3 1-1 1-1.3 0.9-1.2 0.9-1.6 1-0.9 1-1.2 0.9-1.2 0.9-1.4 1-1.3 1-0.9 0.9-1.1 0.9-1.2 1-1.2 0.9-1 1-0.8 0.9-1.1 1-1 0.9-1.3 1-0.8 0.9-0.8 1-0.6 1-1 0.9-1.2 0.9-1.2 1-0.9 1-0.9 0.9-0.6 0.9-0.7 1-0.9 1-0.9 0.9-1 0.9-0.9 1-1 0.9-0.5 1-0.6 0.9-0.6 1-0.6 0.9-0.5 1-0.9 0.9-0.8 1-1 1-0.5 0.9-0.7 0.9-0.6 1-0.7 1-0.8 0.9-0.9 0.9-0.7 1-0.6 1-0.8 0.9-0.6 0.9-0.5 1-0.4 0.9-0.5 1-0.8 0.9-0.6 1-0.7 0.9-0.6 1-0.5 0.9-0.5 1-0.3 1-0.5 0.9-0.6 0.9-0.7 1-0.5 1-0.5 0.9-0.5 0.9-0.8 1-0.8 1-0.5 0.9-0.2 0.9-0.3 1-0.6 0.9-0.7 1-0.2 0.9-0.4 1-0.5 0.9-0.9 1-0.5 0.9-0.4 1-0.2 1-0.3 0.9-0.4 0.9-0.5 1-0.6 1-0.5 0.9-0.5 0.9-0.5 1-0.4 1-0.5 0.9-0.4 0.9-0.5 1-0.4 0.9-0.4 1-0.4 0.9 0 1-0.2 0.9-0.6 1-0.5 0.9-0.3 1-0.3 1-0.6 0.9-0.6 0.9-0.4 1-0.1 1-0.2 0.9-0.2 0.9-0.5 1-0.5 1-0.6 0.9-0.3 0.9-0.5 1-0.1 0.9-0.2 1 0.1 0.9-0.5 1-0.4 0.9-0.6 1-0.2 0.9-0.3 1-0.1 1 0.1 0.9-0.2 0.9-0.8 1-0.6 1-0.7 0.9 0.1 0.9-0.1 1-0.1 1-0.4 0.9-0.5 0.9-0.4 1-0.3 0.9-0.4 1-0.2 0.9-0.3 1-0.4 0.9-0.3 1-0.3 0.9-0.2 1-0.2 1-0.1 0.9-0.1 0.9-0.3 1-0.2 1-0.4 0.9 0 0.9-0.5 1-0.2 1-0.5 0.9-0.1 0.9 0 1 0.2 0.9 0 1-0.5 0.9-0.7 1-0.4 0.9-0.1 1-0.1 0.9-0.2 1 0 1 0 0.9-0.2 0.9-0.6 1-0.3 1-0.1 0.9 0.1 0.9 0.1 1-0.1 1-0.6 0.9-0.5 0.9-0.3 1 0 0.9-0.1 1-0.3 0.9-0.1 1-0.2 0.9-0.2 1-0.3 0.9-0.3 1-0.3 1 0.1 0.9 0 0.9-0.1 1-0.2 1 0.1 0.9-0.4 0.9-0.1 1-0.3 1 0 0.9-0.2 0.9-0.1 1 0.1 0.9-0.1 1-0.3 0.9-0.2 1-0.2 0.9 0.1 1-0.2 0.9 0.1 1-0.4 1-0.1 0.9-0.3 0.9 0.1 1-0.3 1 0.1 0.9-0.2 0.9 0.2 1-0.2 1 0 0.9 0.1 0.9 0 1-0.1 0.9-0.7 1-0.2 0.9-0.3 1 0.2 0.9 0 1 0.5 0.9 0 1-0.2 1-0.4 0.9-0.2 0.9-0.1 1 0.2 1 0 0.9 0.2 0.9 0.1 1 0.2 1-0.1 0.9-0.3 0.9-0.1 1-0.2 0.9 0 1 0 0.9-0.1 1-0.3 0.9-0.3 1 0.3 0.9 0.1 1 0.2 1-0.3 0.9 0.2 0.9 0.1 1-0.2 1-0.1 0.9-0.3 0.9 0.1 1-0.1 1-0.1 0.9 0.2 0.9-0.2 1 0.4 0.9-0.4 1 0.1 0.9 0 1 0.2 0.9-0.1 1-0.2 0.5-23.5 0.9 19.6 1.5-8.7 1.4 13.1 0.2-0.2 0.2-0.2 0.3-0.1 0.2 0 0.3 0 0.2-0.3 1 0 0.9 0.1 0.9-0.1 1 0.3 1 0.2 0.9 0.4 0.9-0.2 1 0 0.9 0 1 0 0.9 0.2 1-0.2 0.9 0.1 1-0.3 0.9 0.3 1 0.3 1 0.4 0.9 0.3 0.9-0.1 1-0.1 1-0.1 0.9 0.1 0.9 0 1 0 1-0.3 0.9 0.1 0.9 0.2 1 0.2 0.9 0.2 1-0.1 0.9 0.1 1 0.1 0.9 0.3 1 0 0.9 0.1 1-0.3 1 0 0.9 0.2 0.9 0.1 1 0.4 1-0.1 0.9 0.2 0.9-0.3 1 0.1 1 0.3 0.9 0.2 0.9 0 1-0.1 0.9 0.1 1 0.5 0.9 0.1 1-0.1 0.9 0 1-0.1 0.9 0.2 1 0.2 1 0.2 0.9 0 0.9-0.1 1 0 1 0.2 0.9 0.2 0.9 0 1 0 1 0 0.9 0.3 0.9 0.1-0.4-2.3 0.6-3.7 0.6 11.1 0.6-8.7 0.5 13.7 0.6-11.8 0.8 5.8 0.7-4-2.1 0 1-0.1 0.9 0 1-0.1 0.9 0 1 0.3 0.9 0.2 1 0.4 1-0.1 0.9 0.2 0.9 0 1 0.2 1-0.2 0.9 0.2 0.9 0 1 0.3 1-0.2 0.9 0.3 0.9 0.2 1 0.2 0.9-0.1 1 0.1 0.9 0.2 1 0.4 0.9 0.2 1-0.1 0.9-0.1 1 0 1 0.3 0.9 0.2 0.9 0.1 1 0.3 1 0.3 0.9 0.1 0.9 0.1 1-0.2 1 0 0.9 0.2 0.9 0.4-0.4-1.8 0.6-2.9 0.6 8.9 0.6-6.9 0.5 10.9 0.6-9.5 0.8 4.7 0.7-3.2-2.1 0 1 0.1" fill="none" stroke="#ff1a1a" stroke-width="3" stroke-linejoin="round" stroke-linecap="round"/>
<line x1="954.6" y1="1624.8" x2="954.6" y2="1953.3" stroke="#1c1c1c" stroke-width="4.2"/>
<line x1="952.6" y1="1951.3" x2="1458.6" y2="1951.3" stroke="#1c1c1c" stroke-width="4.2"/>
<line x1="944.1" y1="1897" x2="954.6" y2="1897" stroke="#1c1c1c" stroke-width="3.6"/>
<text x="927.7" y="1907.4" font-size="23.5" font-weight="bold" textLength="14.4" lengthAdjust="spacingAndGlyphs">0</text>
<line x1="944.1" y1="1788.3" x2="954.6" y2="1788.3" stroke="#1c1c1c" stroke-width="3.6"/>
<text x="898.8" y="1798.7" font-size="23.5" font-weight="bold" textLength="43.1" lengthAdjust="spacingAndGlyphs">100</text>
<line x1="944.1" y1="1679.6" x2="954.6" y2="1679.6" stroke="#1c1c1c" stroke-width="3.6"/>
<text x="898.8" y="1690" font-size="23.5" font-weight="bold" textLength="43.1" lengthAdjust="spacingAndGlyphs">200</text>
<line x1="944.1" y1="1625.2" x2="954.6" y2="1625.2" stroke="#1c1c1c" stroke-width="3.6"/>
<text x="898.8" y="1635.7" font-size="23.5" font-weight="bold" textLength="43.1" lengthAdjust="spacingAndGlyphs">250</text>
<line x1="954.6" y1="1951.3" x2="954.6" y2="1961.5" stroke="#1c1c1c" stroke-width="3.6"/>
<text x="961.2" y="1974.5" font-size="24" font-weight="bold" text-anchor="end" textLength="50.9" lengthAdjust="spacingAndGlyphs" transform="rotate(-45 961.2 1974.5)">-100</text>
<line x1="1049.6" y1="1951.3" x2="1049.6" y2="1961.5" stroke="#1c1c1c" stroke-width="3.6"/>
<text x="1056.2" y="1974.5" font-size="24" font-weight="bold" text-anchor="end" textLength="14.1" lengthAdjust="spacingAndGlyphs" transform="rotate(-45 1056.2 1974.5)">0</text>
<line x1="1144.6" y1="1951.3" x2="1144.6" y2="1961.5" stroke="#1c1c1c" stroke-width="3.6"/>
<text x="1151.2" y="1974.5" font-size="24" font-weight="bold" text-anchor="end" textLength="42.4" lengthAdjust="spacingAndGlyphs" transform="rotate(-45 1151.2 1974.5)">100</text>
<line x1="1239.6" y1="1951.3" x2="1239.6" y2="1961.5" stroke="#1c1c1c" stroke-width="3.6"/>
<text x="1246.2" y="1974.5" font-size="24" font-weight="bold" text-anchor="end" textLength="42.4" lengthAdjust="spacingAndGlyphs" transform="rotate(-45 1246.2 1974.5)">200</text>
<line x1="1334.6" y1="1951.3" x2="1334.6" y2="1961.5" stroke="#1c1c1c" stroke-width="3.6"/>
<text x="1341.2" y="1974.5" font-size="24" font-weight="bold" text-anchor="end" textLength="42.4" lengthAdjust="spacingAndGlyphs" transform="rotate(-45 1341.2 1974.5)">300</text>
<line x1="1429.6" y1="1951.3" x2="1429.6" y2="1961.5" stroke="#1c1c1c" stroke-width="3.6"/>
<text x="1436.2" y="1974.5" font-size="24" font-weight="bold" text-anchor="end" textLength="42.4" lengthAdjust="spacingAndGlyphs" transform="rotate(-45 1436.2 1974.5)">400</text>
<text x="882.7" y="1876" font-size="26.3" font-weight="bold" textLength="179.4" lengthAdjust="spacingAndGlyphs" transform="rotate(-90 882.7 1876)">Responce (RU)</text>
<text x="1157.3" y="2048.8" font-size="24.4" font-weight="bold" textLength="98.2" lengthAdjust="spacingAndGlyphs">Time (s)</text>
<line x1="1520.4" y1="1644.7" x2="1550.3" y2="1644.7" stroke="#ff1a1a" stroke-width="4" stroke-linecap="round" opacity="0.85"/>
<text x="1564.8" y="1651.2" font-size="18.9" fill="#333" textLength="61.4" lengthAdjust="spacingAndGlyphs" stroke="#333" stroke-width="0.45">50 µM</text>
<line x1="1520.4" y1="1675.1" x2="1550.3" y2="1675.1" stroke="#19c819" stroke-width="4" stroke-linecap="round" opacity="0.85"/>
<text x="1564.8" y="1681.6" font-size="18.9" fill="#333" textLength="61.4" lengthAdjust="spacingAndGlyphs" stroke="#333" stroke-width="0.45">40 µM</text>
<line x1="1520.4" y1="1705.5" x2="1550.3" y2="1705.5" stroke="#b31aff" stroke-width="4" stroke-linecap="round" opacity="0.85"/>
<text x="1564.8" y="1712" font-size="18.9" fill="#333" textLength="61.4" lengthAdjust="spacingAndGlyphs" stroke="#333" stroke-width="0.45">30 µM</text>
<line x1="1520.4" y1="1735.9" x2="1550.3" y2="1735.9" stroke="#ff8c1a" stroke-width="4" stroke-linecap="round" opacity="0.85"/>
<text x="1564.8" y="1742.4" font-size="18.9" fill="#333" textLength="61.4" lengthAdjust="spacingAndGlyphs" stroke="#333" stroke-width="0.45">20 µM</text>
<line x1="1520.4" y1="1766.3" x2="1550.3" y2="1766.3" stroke="#111111" stroke-width="4" stroke-linecap="round" opacity="0.85"/>
<text x="1564.8" y="1772.8" font-size="18.9" fill="#333" textLength="61.4" lengthAdjust="spacingAndGlyphs" stroke="#333" stroke-width="0.45">10 µM</text>
<line x1="1520.4" y1="1796.7" x2="1550.3" y2="1796.7" stroke="#a0631e" stroke-width="4" stroke-linecap="round" opacity="0.85"/>
<text x="1564.8" y="1803.2" font-size="19.1" fill="#333" textLength="48.6" lengthAdjust="spacingAndGlyphs" stroke="#333" stroke-width="0.45">5 µM</text>
<rect x="1479.8" y="1837.8" width="158.8" height="118.4" fill="none" stroke="#3a3a3a" stroke-width="3" rx="2.5"/>
<text x="1489.7" y="1871.4" font-size="25.5" font-weight="bold" textLength="18.4" lengthAdjust="spacingAndGlyphs">K</text>
<text x="1510" y="1879.2" font-size="19.5" font-weight="bold" textLength="15" lengthAdjust="spacingAndGlyphs">D</text>
<text x="1529.7" y="1870.2" font-size="26" font-weight="bold" textLength="16.3" lengthAdjust="spacingAndGlyphs">=</text>
<text x="1554" y="1872.1" font-size="26.9" font-weight="bold" textLength="29.8" lengthAdjust="spacingAndGlyphs">12</text>
<text x="1588.3" y="1872.9" font-size="21.5" fill="#555" textLength="14.4" lengthAdjust="spacingAndGlyphs">µ</text>
<text x="1605.7" y="1871.4" font-size="25.5" font-weight="bold" textLength="22.1" lengthAdjust="spacingAndGlyphs">M</text>
<text x="1489.7" y="1940.2" font-size="25.7" font-weight="bold" textLength="39.4" lengthAdjust="spacingAndGlyphs">RU</text>
<text x="1531" y="1931" font-size="20.1" font-weight="bold" textLength="10.9" lengthAdjust="spacingAndGlyphs">2</text>
<text x="1547.2" y="1939.6" font-size="26" font-weight="bold" textLength="15.2" lengthAdjust="spacingAndGlyphs">=</text>
<text x="1570.2" y="1940.6" font-size="25.9" font-weight="bold" textLength="29.8" lengthAdjust="spacingAndGlyphs">18</text>
</g>
</svg>
</body></html>
